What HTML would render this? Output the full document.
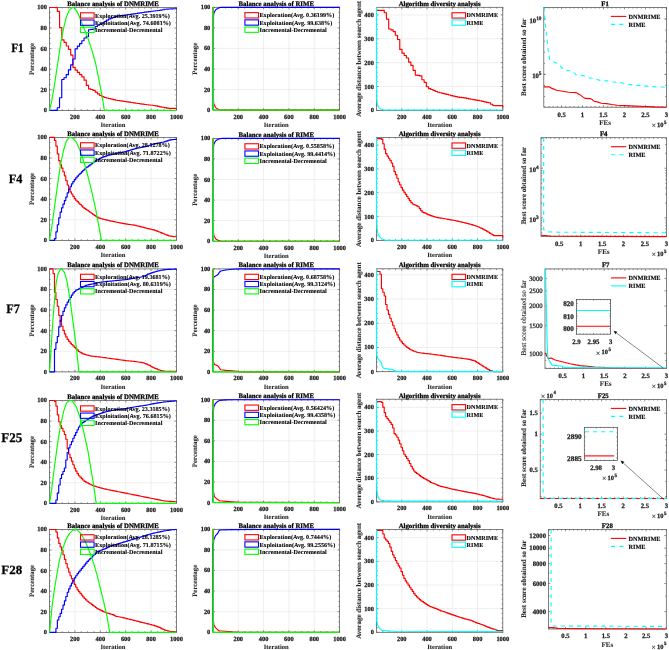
<!DOCTYPE html>
<html><head><meta charset="utf-8"><style>
html,body{margin:0;padding:0;background:#fff;width:669px;height:650px;overflow:hidden}
svg{display:block;will-change:transform}
text{text-rendering:geometricPrecision;font-family:"Liberation Serif",serif;stroke-width:0.25px;stroke:currentColor}
text.lb{stroke-width:0.1px}
text.lg{stroke-width:0.1px}
</style></head><body><svg width="669" height="650" viewBox="0 0 669 650" font-family="Liberation Serif"><text transform="translate(11.16 51.65) scale(0.89 1)" x="0" y="0" font-size="12.73" font-weight="bold" fill="#000" color="#000">F1</text><text transform="translate(8.74 182.55) scale(0.962 1)" x="0" y="0" font-size="12.77" font-weight="bold" fill="#000" color="#000">F4</text><text transform="translate(6.34 313.35) scale(0.943 1)" x="0" y="0" font-size="12.98" font-weight="bold" fill="#000" color="#000">F7</text><text transform="translate(1.33 442.32) scale(0.984 1)" x="0" y="0" font-size="13.24" font-weight="bold" fill="#000" color="#000">F25</text><text transform="translate(1.33 573.52) scale(1.033 1)" x="0" y="0" font-size="12.59" font-weight="bold" fill="#000" color="#000">F28</text><line x1="74.90" y1="7.45" x2="74.90" y2="110.40" stroke="#e4e4e4" stroke-width="0.6"/><line x1="100.30" y1="7.45" x2="100.30" y2="110.40" stroke="#e4e4e4" stroke-width="0.6"/><line x1="125.70" y1="7.45" x2="125.70" y2="110.40" stroke="#e4e4e4" stroke-width="0.6"/><line x1="151.10" y1="7.45" x2="151.10" y2="110.40" stroke="#e4e4e4" stroke-width="0.6"/><line x1="49.50" y1="89.81" x2="176.50" y2="89.81" stroke="#e4e4e4" stroke-width="0.6"/><line x1="49.50" y1="69.22" x2="176.50" y2="69.22" stroke="#e4e4e4" stroke-width="0.6"/><line x1="49.50" y1="48.63" x2="176.50" y2="48.63" stroke="#e4e4e4" stroke-width="0.6"/><line x1="49.50" y1="28.04" x2="176.50" y2="28.04" stroke="#e4e4e4" stroke-width="0.6"/><line x1="74.90" y1="110.40" x2="74.90" y2="108.40" stroke="#555" stroke-width="0.65"/><line x1="74.90" y1="7.45" x2="74.90" y2="9.45" stroke="#555" stroke-width="0.65"/><line x1="100.30" y1="110.40" x2="100.30" y2="108.40" stroke="#555" stroke-width="0.65"/><line x1="100.30" y1="7.45" x2="100.30" y2="9.45" stroke="#555" stroke-width="0.65"/><line x1="125.70" y1="110.40" x2="125.70" y2="108.40" stroke="#555" stroke-width="0.65"/><line x1="125.70" y1="7.45" x2="125.70" y2="9.45" stroke="#555" stroke-width="0.65"/><line x1="151.10" y1="110.40" x2="151.10" y2="108.40" stroke="#555" stroke-width="0.65"/><line x1="151.10" y1="7.45" x2="151.10" y2="9.45" stroke="#555" stroke-width="0.65"/><line x1="176.50" y1="110.40" x2="176.50" y2="108.40" stroke="#555" stroke-width="0.65"/><line x1="176.50" y1="7.45" x2="176.50" y2="9.45" stroke="#555" stroke-width="0.65"/><line x1="55.85" y1="110.40" x2="55.85" y2="109.20" stroke="#555" stroke-width="0.65"/><line x1="55.85" y1="7.45" x2="55.85" y2="8.65" stroke="#555" stroke-width="0.65"/><line x1="62.20" y1="110.40" x2="62.20" y2="109.20" stroke="#555" stroke-width="0.65"/><line x1="62.20" y1="7.45" x2="62.20" y2="8.65" stroke="#555" stroke-width="0.65"/><line x1="68.55" y1="110.40" x2="68.55" y2="109.20" stroke="#555" stroke-width="0.65"/><line x1="68.55" y1="7.45" x2="68.55" y2="8.65" stroke="#555" stroke-width="0.65"/><line x1="81.25" y1="110.40" x2="81.25" y2="109.20" stroke="#555" stroke-width="0.65"/><line x1="81.25" y1="7.45" x2="81.25" y2="8.65" stroke="#555" stroke-width="0.65"/><line x1="87.60" y1="110.40" x2="87.60" y2="109.20" stroke="#555" stroke-width="0.65"/><line x1="87.60" y1="7.45" x2="87.60" y2="8.65" stroke="#555" stroke-width="0.65"/><line x1="93.95" y1="110.40" x2="93.95" y2="109.20" stroke="#555" stroke-width="0.65"/><line x1="93.95" y1="7.45" x2="93.95" y2="8.65" stroke="#555" stroke-width="0.65"/><line x1="106.65" y1="110.40" x2="106.65" y2="109.20" stroke="#555" stroke-width="0.65"/><line x1="106.65" y1="7.45" x2="106.65" y2="8.65" stroke="#555" stroke-width="0.65"/><line x1="113.00" y1="110.40" x2="113.00" y2="109.20" stroke="#555" stroke-width="0.65"/><line x1="113.00" y1="7.45" x2="113.00" y2="8.65" stroke="#555" stroke-width="0.65"/><line x1="119.35" y1="110.40" x2="119.35" y2="109.20" stroke="#555" stroke-width="0.65"/><line x1="119.35" y1="7.45" x2="119.35" y2="8.65" stroke="#555" stroke-width="0.65"/><line x1="132.05" y1="110.40" x2="132.05" y2="109.20" stroke="#555" stroke-width="0.65"/><line x1="132.05" y1="7.45" x2="132.05" y2="8.65" stroke="#555" stroke-width="0.65"/><line x1="138.40" y1="110.40" x2="138.40" y2="109.20" stroke="#555" stroke-width="0.65"/><line x1="138.40" y1="7.45" x2="138.40" y2="8.65" stroke="#555" stroke-width="0.65"/><line x1="144.75" y1="110.40" x2="144.75" y2="109.20" stroke="#555" stroke-width="0.65"/><line x1="144.75" y1="7.45" x2="144.75" y2="8.65" stroke="#555" stroke-width="0.65"/><line x1="157.45" y1="110.40" x2="157.45" y2="109.20" stroke="#555" stroke-width="0.65"/><line x1="157.45" y1="7.45" x2="157.45" y2="8.65" stroke="#555" stroke-width="0.65"/><line x1="163.80" y1="110.40" x2="163.80" y2="109.20" stroke="#555" stroke-width="0.65"/><line x1="163.80" y1="7.45" x2="163.80" y2="8.65" stroke="#555" stroke-width="0.65"/><line x1="170.15" y1="110.40" x2="170.15" y2="109.20" stroke="#555" stroke-width="0.65"/><line x1="170.15" y1="7.45" x2="170.15" y2="8.65" stroke="#555" stroke-width="0.65"/><line x1="49.50" y1="110.40" x2="51.50" y2="110.40" stroke="#555" stroke-width="0.65"/><line x1="176.50" y1="110.40" x2="174.50" y2="110.40" stroke="#555" stroke-width="0.65"/><line x1="49.50" y1="89.81" x2="51.50" y2="89.81" stroke="#555" stroke-width="0.65"/><line x1="176.50" y1="89.81" x2="174.50" y2="89.81" stroke="#555" stroke-width="0.65"/><line x1="49.50" y1="69.22" x2="51.50" y2="69.22" stroke="#555" stroke-width="0.65"/><line x1="176.50" y1="69.22" x2="174.50" y2="69.22" stroke="#555" stroke-width="0.65"/><line x1="49.50" y1="48.63" x2="51.50" y2="48.63" stroke="#555" stroke-width="0.65"/><line x1="176.50" y1="48.63" x2="174.50" y2="48.63" stroke="#555" stroke-width="0.65"/><line x1="49.50" y1="28.04" x2="51.50" y2="28.04" stroke="#555" stroke-width="0.65"/><line x1="176.50" y1="28.04" x2="174.50" y2="28.04" stroke="#555" stroke-width="0.65"/><line x1="49.50" y1="7.45" x2="51.50" y2="7.45" stroke="#555" stroke-width="0.65"/><line x1="176.50" y1="7.45" x2="174.50" y2="7.45" stroke="#555" stroke-width="0.65"/><line x1="49.50" y1="105.25" x2="50.70" y2="105.25" stroke="#555" stroke-width="0.65"/><line x1="176.50" y1="105.25" x2="175.30" y2="105.25" stroke="#555" stroke-width="0.65"/><line x1="49.50" y1="100.11" x2="50.70" y2="100.11" stroke="#555" stroke-width="0.65"/><line x1="176.50" y1="100.11" x2="175.30" y2="100.11" stroke="#555" stroke-width="0.65"/><line x1="49.50" y1="94.96" x2="50.70" y2="94.96" stroke="#555" stroke-width="0.65"/><line x1="176.50" y1="94.96" x2="175.30" y2="94.96" stroke="#555" stroke-width="0.65"/><line x1="49.50" y1="84.66" x2="50.70" y2="84.66" stroke="#555" stroke-width="0.65"/><line x1="176.50" y1="84.66" x2="175.30" y2="84.66" stroke="#555" stroke-width="0.65"/><line x1="49.50" y1="79.52" x2="50.70" y2="79.52" stroke="#555" stroke-width="0.65"/><line x1="176.50" y1="79.52" x2="175.30" y2="79.52" stroke="#555" stroke-width="0.65"/><line x1="49.50" y1="74.37" x2="50.70" y2="74.37" stroke="#555" stroke-width="0.65"/><line x1="176.50" y1="74.37" x2="175.30" y2="74.37" stroke="#555" stroke-width="0.65"/><line x1="49.50" y1="64.07" x2="50.70" y2="64.07" stroke="#555" stroke-width="0.65"/><line x1="176.50" y1="64.07" x2="175.30" y2="64.07" stroke="#555" stroke-width="0.65"/><line x1="49.50" y1="58.93" x2="50.70" y2="58.93" stroke="#555" stroke-width="0.65"/><line x1="176.50" y1="58.93" x2="175.30" y2="58.93" stroke="#555" stroke-width="0.65"/><line x1="49.50" y1="53.78" x2="50.70" y2="53.78" stroke="#555" stroke-width="0.65"/><line x1="176.50" y1="53.78" x2="175.30" y2="53.78" stroke="#555" stroke-width="0.65"/><line x1="49.50" y1="43.48" x2="50.70" y2="43.48" stroke="#555" stroke-width="0.65"/><line x1="176.50" y1="43.48" x2="175.30" y2="43.48" stroke="#555" stroke-width="0.65"/><line x1="49.50" y1="38.34" x2="50.70" y2="38.34" stroke="#555" stroke-width="0.65"/><line x1="176.50" y1="38.34" x2="175.30" y2="38.34" stroke="#555" stroke-width="0.65"/><line x1="49.50" y1="33.19" x2="50.70" y2="33.19" stroke="#555" stroke-width="0.65"/><line x1="176.50" y1="33.19" x2="175.30" y2="33.19" stroke="#555" stroke-width="0.65"/><line x1="49.50" y1="22.89" x2="50.70" y2="22.89" stroke="#555" stroke-width="0.65"/><line x1="176.50" y1="22.89" x2="175.30" y2="22.89" stroke="#555" stroke-width="0.65"/><line x1="49.50" y1="17.75" x2="50.70" y2="17.75" stroke="#555" stroke-width="0.65"/><line x1="176.50" y1="17.75" x2="175.30" y2="17.75" stroke="#555" stroke-width="0.65"/><line x1="49.50" y1="12.60" x2="50.70" y2="12.60" stroke="#555" stroke-width="0.65"/><line x1="176.50" y1="12.60" x2="175.30" y2="12.60" stroke="#555" stroke-width="0.65"/><text x="74.90" y="118.98" font-size="6.4" text-anchor="middle" fill="#222" color="#222" font-weight="bold">200</text><text x="100.30" y="118.98" font-size="6.4" text-anchor="middle" fill="#222" color="#222" font-weight="bold">400</text><text x="125.70" y="118.98" font-size="6.4" text-anchor="middle" fill="#222" color="#222" font-weight="bold">600</text><text x="151.10" y="118.98" font-size="6.4" text-anchor="middle" fill="#222" color="#222" font-weight="bold">800</text><text x="176.50" y="118.98" font-size="6.4" text-anchor="middle" fill="#222" color="#222" font-weight="bold">1000</text><text x="46.90" y="112.38" font-size="6.4" text-anchor="end" fill="#222" color="#222" font-weight="bold">0</text><text x="46.90" y="91.79" font-size="6.4" text-anchor="end" fill="#222" color="#222" font-weight="bold">20</text><text x="46.90" y="71.20" font-size="6.4" text-anchor="end" fill="#222" color="#222" font-weight="bold">40</text><text x="46.90" y="50.61" font-size="6.4" text-anchor="end" fill="#222" color="#222" font-weight="bold">60</text><text x="46.90" y="30.02" font-size="6.4" text-anchor="end" fill="#222" color="#222" font-weight="bold">80</text><text x="46.90" y="9.43" font-size="6.4" text-anchor="end" fill="#222" color="#222" font-weight="bold">100</text><text x="113.00" y="127.24" font-size="6.6" text-anchor="middle" fill="#2a2a2a" color="#2a2a2a" font-weight="bold" class="lb">Iteration</text><text x="31.70" y="61.24" font-size="6.8" text-anchor="middle" fill="#2a2a2a" color="#2a2a2a" font-weight="bold" transform="rotate(-90 31.70 58.93)" class="lb">Percentage</text><text x="113.00" y="5.96" font-size="6.8" text-anchor="middle" fill="#000" color="#000" font-weight="bold">Balance analysis of DNMRIME</text><line x1="238.24" y1="7.30" x2="238.24" y2="110.10" stroke="#e4e4e4" stroke-width="0.6"/><line x1="263.58" y1="7.30" x2="263.58" y2="110.10" stroke="#e4e4e4" stroke-width="0.6"/><line x1="288.92" y1="7.30" x2="288.92" y2="110.10" stroke="#e4e4e4" stroke-width="0.6"/><line x1="314.26" y1="7.30" x2="314.26" y2="110.10" stroke="#e4e4e4" stroke-width="0.6"/><line x1="212.90" y1="89.54" x2="339.60" y2="89.54" stroke="#e4e4e4" stroke-width="0.6"/><line x1="212.90" y1="68.98" x2="339.60" y2="68.98" stroke="#e4e4e4" stroke-width="0.6"/><line x1="212.90" y1="48.42" x2="339.60" y2="48.42" stroke="#e4e4e4" stroke-width="0.6"/><line x1="212.90" y1="27.86" x2="339.60" y2="27.86" stroke="#e4e4e4" stroke-width="0.6"/><line x1="238.24" y1="110.10" x2="238.24" y2="108.10" stroke="#555" stroke-width="0.65"/><line x1="238.24" y1="7.30" x2="238.24" y2="9.30" stroke="#555" stroke-width="0.65"/><line x1="263.58" y1="110.10" x2="263.58" y2="108.10" stroke="#555" stroke-width="0.65"/><line x1="263.58" y1="7.30" x2="263.58" y2="9.30" stroke="#555" stroke-width="0.65"/><line x1="288.92" y1="110.10" x2="288.92" y2="108.10" stroke="#555" stroke-width="0.65"/><line x1="288.92" y1="7.30" x2="288.92" y2="9.30" stroke="#555" stroke-width="0.65"/><line x1="314.26" y1="110.10" x2="314.26" y2="108.10" stroke="#555" stroke-width="0.65"/><line x1="314.26" y1="7.30" x2="314.26" y2="9.30" stroke="#555" stroke-width="0.65"/><line x1="339.60" y1="110.10" x2="339.60" y2="108.10" stroke="#555" stroke-width="0.65"/><line x1="339.60" y1="7.30" x2="339.60" y2="9.30" stroke="#555" stroke-width="0.65"/><line x1="219.24" y1="110.10" x2="219.24" y2="108.90" stroke="#555" stroke-width="0.65"/><line x1="219.24" y1="7.30" x2="219.24" y2="8.50" stroke="#555" stroke-width="0.65"/><line x1="225.57" y1="110.10" x2="225.57" y2="108.90" stroke="#555" stroke-width="0.65"/><line x1="225.57" y1="7.30" x2="225.57" y2="8.50" stroke="#555" stroke-width="0.65"/><line x1="231.91" y1="110.10" x2="231.91" y2="108.90" stroke="#555" stroke-width="0.65"/><line x1="231.91" y1="7.30" x2="231.91" y2="8.50" stroke="#555" stroke-width="0.65"/><line x1="244.58" y1="110.10" x2="244.58" y2="108.90" stroke="#555" stroke-width="0.65"/><line x1="244.58" y1="7.30" x2="244.58" y2="8.50" stroke="#555" stroke-width="0.65"/><line x1="250.91" y1="110.10" x2="250.91" y2="108.90" stroke="#555" stroke-width="0.65"/><line x1="250.91" y1="7.30" x2="250.91" y2="8.50" stroke="#555" stroke-width="0.65"/><line x1="257.25" y1="110.10" x2="257.25" y2="108.90" stroke="#555" stroke-width="0.65"/><line x1="257.25" y1="7.30" x2="257.25" y2="8.50" stroke="#555" stroke-width="0.65"/><line x1="269.92" y1="110.10" x2="269.92" y2="108.90" stroke="#555" stroke-width="0.65"/><line x1="269.92" y1="7.30" x2="269.92" y2="8.50" stroke="#555" stroke-width="0.65"/><line x1="276.25" y1="110.10" x2="276.25" y2="108.90" stroke="#555" stroke-width="0.65"/><line x1="276.25" y1="7.30" x2="276.25" y2="8.50" stroke="#555" stroke-width="0.65"/><line x1="282.59" y1="110.10" x2="282.59" y2="108.90" stroke="#555" stroke-width="0.65"/><line x1="282.59" y1="7.30" x2="282.59" y2="8.50" stroke="#555" stroke-width="0.65"/><line x1="295.25" y1="110.10" x2="295.25" y2="108.90" stroke="#555" stroke-width="0.65"/><line x1="295.25" y1="7.30" x2="295.25" y2="8.50" stroke="#555" stroke-width="0.65"/><line x1="301.59" y1="110.10" x2="301.59" y2="108.90" stroke="#555" stroke-width="0.65"/><line x1="301.59" y1="7.30" x2="301.59" y2="8.50" stroke="#555" stroke-width="0.65"/><line x1="307.93" y1="110.10" x2="307.93" y2="108.90" stroke="#555" stroke-width="0.65"/><line x1="307.93" y1="7.30" x2="307.93" y2="8.50" stroke="#555" stroke-width="0.65"/><line x1="320.60" y1="110.10" x2="320.60" y2="108.90" stroke="#555" stroke-width="0.65"/><line x1="320.60" y1="7.30" x2="320.60" y2="8.50" stroke="#555" stroke-width="0.65"/><line x1="326.93" y1="110.10" x2="326.93" y2="108.90" stroke="#555" stroke-width="0.65"/><line x1="326.93" y1="7.30" x2="326.93" y2="8.50" stroke="#555" stroke-width="0.65"/><line x1="333.26" y1="110.10" x2="333.26" y2="108.90" stroke="#555" stroke-width="0.65"/><line x1="333.26" y1="7.30" x2="333.26" y2="8.50" stroke="#555" stroke-width="0.65"/><line x1="212.90" y1="110.10" x2="214.90" y2="110.10" stroke="#555" stroke-width="0.65"/><line x1="339.60" y1="110.10" x2="337.60" y2="110.10" stroke="#555" stroke-width="0.65"/><line x1="212.90" y1="89.54" x2="214.90" y2="89.54" stroke="#555" stroke-width="0.65"/><line x1="339.60" y1="89.54" x2="337.60" y2="89.54" stroke="#555" stroke-width="0.65"/><line x1="212.90" y1="68.98" x2="214.90" y2="68.98" stroke="#555" stroke-width="0.65"/><line x1="339.60" y1="68.98" x2="337.60" y2="68.98" stroke="#555" stroke-width="0.65"/><line x1="212.90" y1="48.42" x2="214.90" y2="48.42" stroke="#555" stroke-width="0.65"/><line x1="339.60" y1="48.42" x2="337.60" y2="48.42" stroke="#555" stroke-width="0.65"/><line x1="212.90" y1="27.86" x2="214.90" y2="27.86" stroke="#555" stroke-width="0.65"/><line x1="339.60" y1="27.86" x2="337.60" y2="27.86" stroke="#555" stroke-width="0.65"/><line x1="212.90" y1="7.30" x2="214.90" y2="7.30" stroke="#555" stroke-width="0.65"/><line x1="339.60" y1="7.30" x2="337.60" y2="7.30" stroke="#555" stroke-width="0.65"/><line x1="212.90" y1="104.96" x2="214.10" y2="104.96" stroke="#555" stroke-width="0.65"/><line x1="339.60" y1="104.96" x2="338.40" y2="104.96" stroke="#555" stroke-width="0.65"/><line x1="212.90" y1="99.82" x2="214.10" y2="99.82" stroke="#555" stroke-width="0.65"/><line x1="339.60" y1="99.82" x2="338.40" y2="99.82" stroke="#555" stroke-width="0.65"/><line x1="212.90" y1="94.68" x2="214.10" y2="94.68" stroke="#555" stroke-width="0.65"/><line x1="339.60" y1="94.68" x2="338.40" y2="94.68" stroke="#555" stroke-width="0.65"/><line x1="212.90" y1="84.40" x2="214.10" y2="84.40" stroke="#555" stroke-width="0.65"/><line x1="339.60" y1="84.40" x2="338.40" y2="84.40" stroke="#555" stroke-width="0.65"/><line x1="212.90" y1="79.26" x2="214.10" y2="79.26" stroke="#555" stroke-width="0.65"/><line x1="339.60" y1="79.26" x2="338.40" y2="79.26" stroke="#555" stroke-width="0.65"/><line x1="212.90" y1="74.12" x2="214.10" y2="74.12" stroke="#555" stroke-width="0.65"/><line x1="339.60" y1="74.12" x2="338.40" y2="74.12" stroke="#555" stroke-width="0.65"/><line x1="212.90" y1="63.84" x2="214.10" y2="63.84" stroke="#555" stroke-width="0.65"/><line x1="339.60" y1="63.84" x2="338.40" y2="63.84" stroke="#555" stroke-width="0.65"/><line x1="212.90" y1="58.70" x2="214.10" y2="58.70" stroke="#555" stroke-width="0.65"/><line x1="339.60" y1="58.70" x2="338.40" y2="58.70" stroke="#555" stroke-width="0.65"/><line x1="212.90" y1="53.56" x2="214.10" y2="53.56" stroke="#555" stroke-width="0.65"/><line x1="339.60" y1="53.56" x2="338.40" y2="53.56" stroke="#555" stroke-width="0.65"/><line x1="212.90" y1="43.28" x2="214.10" y2="43.28" stroke="#555" stroke-width="0.65"/><line x1="339.60" y1="43.28" x2="338.40" y2="43.28" stroke="#555" stroke-width="0.65"/><line x1="212.90" y1="38.14" x2="214.10" y2="38.14" stroke="#555" stroke-width="0.65"/><line x1="339.60" y1="38.14" x2="338.40" y2="38.14" stroke="#555" stroke-width="0.65"/><line x1="212.90" y1="33.00" x2="214.10" y2="33.00" stroke="#555" stroke-width="0.65"/><line x1="339.60" y1="33.00" x2="338.40" y2="33.00" stroke="#555" stroke-width="0.65"/><line x1="212.90" y1="22.72" x2="214.10" y2="22.72" stroke="#555" stroke-width="0.65"/><line x1="339.60" y1="22.72" x2="338.40" y2="22.72" stroke="#555" stroke-width="0.65"/><line x1="212.90" y1="17.58" x2="214.10" y2="17.58" stroke="#555" stroke-width="0.65"/><line x1="339.60" y1="17.58" x2="338.40" y2="17.58" stroke="#555" stroke-width="0.65"/><line x1="212.90" y1="12.44" x2="214.10" y2="12.44" stroke="#555" stroke-width="0.65"/><line x1="339.60" y1="12.44" x2="338.40" y2="12.44" stroke="#555" stroke-width="0.65"/><text x="238.24" y="118.68" font-size="6.4" text-anchor="middle" fill="#222" color="#222" font-weight="bold">200</text><text x="263.58" y="118.68" font-size="6.4" text-anchor="middle" fill="#222" color="#222" font-weight="bold">400</text><text x="288.92" y="118.68" font-size="6.4" text-anchor="middle" fill="#222" color="#222" font-weight="bold">600</text><text x="314.26" y="118.68" font-size="6.4" text-anchor="middle" fill="#222" color="#222" font-weight="bold">800</text><text x="339.60" y="118.68" font-size="6.4" text-anchor="middle" fill="#222" color="#222" font-weight="bold">1000</text><text x="210.30" y="112.08" font-size="6.4" text-anchor="end" fill="#222" color="#222" font-weight="bold">0</text><text x="210.30" y="91.52" font-size="6.4" text-anchor="end" fill="#222" color="#222" font-weight="bold">20</text><text x="210.30" y="70.96" font-size="6.4" text-anchor="end" fill="#222" color="#222" font-weight="bold">40</text><text x="210.30" y="50.40" font-size="6.4" text-anchor="end" fill="#222" color="#222" font-weight="bold">60</text><text x="210.30" y="29.84" font-size="6.4" text-anchor="end" fill="#222" color="#222" font-weight="bold">80</text><text x="210.30" y="9.28" font-size="6.4" text-anchor="end" fill="#222" color="#222" font-weight="bold">100</text><text x="276.25" y="126.94" font-size="6.6" text-anchor="middle" fill="#2a2a2a" color="#2a2a2a" font-weight="bold" class="lb">Iteration</text><text x="195.10" y="61.01" font-size="6.8" text-anchor="middle" fill="#2a2a2a" color="#2a2a2a" font-weight="bold" transform="rotate(-90 195.10 58.70)" class="lb">Percentage</text><text x="276.25" y="5.81" font-size="6.8" text-anchor="middle" fill="#000" color="#000" font-weight="bold">Balance analysis of RIME</text><line x1="401.76" y1="7.30" x2="401.76" y2="110.40" stroke="#e4e4e4" stroke-width="0.6"/><line x1="427.02" y1="7.30" x2="427.02" y2="110.40" stroke="#e4e4e4" stroke-width="0.6"/><line x1="452.28" y1="7.30" x2="452.28" y2="110.40" stroke="#e4e4e4" stroke-width="0.6"/><line x1="477.54" y1="7.30" x2="477.54" y2="110.40" stroke="#e4e4e4" stroke-width="0.6"/><line x1="376.50" y1="86.53" x2="502.80" y2="86.53" stroke="#e4e4e4" stroke-width="0.6"/><line x1="376.50" y1="62.67" x2="502.80" y2="62.67" stroke="#e4e4e4" stroke-width="0.6"/><line x1="376.50" y1="38.80" x2="502.80" y2="38.80" stroke="#e4e4e4" stroke-width="0.6"/><line x1="376.50" y1="14.94" x2="502.80" y2="14.94" stroke="#e4e4e4" stroke-width="0.6"/><line x1="401.76" y1="110.40" x2="401.76" y2="108.40" stroke="#555" stroke-width="0.65"/><line x1="401.76" y1="7.30" x2="401.76" y2="9.30" stroke="#555" stroke-width="0.65"/><line x1="427.02" y1="110.40" x2="427.02" y2="108.40" stroke="#555" stroke-width="0.65"/><line x1="427.02" y1="7.30" x2="427.02" y2="9.30" stroke="#555" stroke-width="0.65"/><line x1="452.28" y1="110.40" x2="452.28" y2="108.40" stroke="#555" stroke-width="0.65"/><line x1="452.28" y1="7.30" x2="452.28" y2="9.30" stroke="#555" stroke-width="0.65"/><line x1="477.54" y1="110.40" x2="477.54" y2="108.40" stroke="#555" stroke-width="0.65"/><line x1="477.54" y1="7.30" x2="477.54" y2="9.30" stroke="#555" stroke-width="0.65"/><line x1="502.80" y1="110.40" x2="502.80" y2="108.40" stroke="#555" stroke-width="0.65"/><line x1="502.80" y1="7.30" x2="502.80" y2="9.30" stroke="#555" stroke-width="0.65"/><line x1="382.81" y1="110.40" x2="382.81" y2="109.20" stroke="#555" stroke-width="0.65"/><line x1="382.81" y1="7.30" x2="382.81" y2="8.50" stroke="#555" stroke-width="0.65"/><line x1="389.13" y1="110.40" x2="389.13" y2="109.20" stroke="#555" stroke-width="0.65"/><line x1="389.13" y1="7.30" x2="389.13" y2="8.50" stroke="#555" stroke-width="0.65"/><line x1="395.44" y1="110.40" x2="395.44" y2="109.20" stroke="#555" stroke-width="0.65"/><line x1="395.44" y1="7.30" x2="395.44" y2="8.50" stroke="#555" stroke-width="0.65"/><line x1="408.07" y1="110.40" x2="408.07" y2="109.20" stroke="#555" stroke-width="0.65"/><line x1="408.07" y1="7.30" x2="408.07" y2="8.50" stroke="#555" stroke-width="0.65"/><line x1="414.39" y1="110.40" x2="414.39" y2="109.20" stroke="#555" stroke-width="0.65"/><line x1="414.39" y1="7.30" x2="414.39" y2="8.50" stroke="#555" stroke-width="0.65"/><line x1="420.70" y1="110.40" x2="420.70" y2="109.20" stroke="#555" stroke-width="0.65"/><line x1="420.70" y1="7.30" x2="420.70" y2="8.50" stroke="#555" stroke-width="0.65"/><line x1="433.34" y1="110.40" x2="433.34" y2="109.20" stroke="#555" stroke-width="0.65"/><line x1="433.34" y1="7.30" x2="433.34" y2="8.50" stroke="#555" stroke-width="0.65"/><line x1="439.65" y1="110.40" x2="439.65" y2="109.20" stroke="#555" stroke-width="0.65"/><line x1="439.65" y1="7.30" x2="439.65" y2="8.50" stroke="#555" stroke-width="0.65"/><line x1="445.97" y1="110.40" x2="445.97" y2="109.20" stroke="#555" stroke-width="0.65"/><line x1="445.97" y1="7.30" x2="445.97" y2="8.50" stroke="#555" stroke-width="0.65"/><line x1="458.60" y1="110.40" x2="458.60" y2="109.20" stroke="#555" stroke-width="0.65"/><line x1="458.60" y1="7.30" x2="458.60" y2="8.50" stroke="#555" stroke-width="0.65"/><line x1="464.91" y1="110.40" x2="464.91" y2="109.20" stroke="#555" stroke-width="0.65"/><line x1="464.91" y1="7.30" x2="464.91" y2="8.50" stroke="#555" stroke-width="0.65"/><line x1="471.23" y1="110.40" x2="471.23" y2="109.20" stroke="#555" stroke-width="0.65"/><line x1="471.23" y1="7.30" x2="471.23" y2="8.50" stroke="#555" stroke-width="0.65"/><line x1="483.86" y1="110.40" x2="483.86" y2="109.20" stroke="#555" stroke-width="0.65"/><line x1="483.86" y1="7.30" x2="483.86" y2="8.50" stroke="#555" stroke-width="0.65"/><line x1="490.17" y1="110.40" x2="490.17" y2="109.20" stroke="#555" stroke-width="0.65"/><line x1="490.17" y1="7.30" x2="490.17" y2="8.50" stroke="#555" stroke-width="0.65"/><line x1="496.49" y1="110.40" x2="496.49" y2="109.20" stroke="#555" stroke-width="0.65"/><line x1="496.49" y1="7.30" x2="496.49" y2="8.50" stroke="#555" stroke-width="0.65"/><line x1="376.50" y1="110.40" x2="378.50" y2="110.40" stroke="#555" stroke-width="0.65"/><line x1="502.80" y1="110.40" x2="500.80" y2="110.40" stroke="#555" stroke-width="0.65"/><line x1="376.50" y1="86.53" x2="378.50" y2="86.53" stroke="#555" stroke-width="0.65"/><line x1="502.80" y1="86.53" x2="500.80" y2="86.53" stroke="#555" stroke-width="0.65"/><line x1="376.50" y1="62.67" x2="378.50" y2="62.67" stroke="#555" stroke-width="0.65"/><line x1="502.80" y1="62.67" x2="500.80" y2="62.67" stroke="#555" stroke-width="0.65"/><line x1="376.50" y1="38.80" x2="378.50" y2="38.80" stroke="#555" stroke-width="0.65"/><line x1="502.80" y1="38.80" x2="500.80" y2="38.80" stroke="#555" stroke-width="0.65"/><line x1="376.50" y1="14.94" x2="378.50" y2="14.94" stroke="#555" stroke-width="0.65"/><line x1="502.80" y1="14.94" x2="500.80" y2="14.94" stroke="#555" stroke-width="0.65"/><line x1="376.50" y1="105.63" x2="377.70" y2="105.63" stroke="#555" stroke-width="0.65"/><line x1="502.80" y1="105.63" x2="501.60" y2="105.63" stroke="#555" stroke-width="0.65"/><line x1="376.50" y1="100.85" x2="377.70" y2="100.85" stroke="#555" stroke-width="0.65"/><line x1="502.80" y1="100.85" x2="501.60" y2="100.85" stroke="#555" stroke-width="0.65"/><line x1="376.50" y1="96.08" x2="377.70" y2="96.08" stroke="#555" stroke-width="0.65"/><line x1="502.80" y1="96.08" x2="501.60" y2="96.08" stroke="#555" stroke-width="0.65"/><line x1="376.50" y1="91.31" x2="377.70" y2="91.31" stroke="#555" stroke-width="0.65"/><line x1="502.80" y1="91.31" x2="501.60" y2="91.31" stroke="#555" stroke-width="0.65"/><line x1="376.50" y1="81.76" x2="377.70" y2="81.76" stroke="#555" stroke-width="0.65"/><line x1="502.80" y1="81.76" x2="501.60" y2="81.76" stroke="#555" stroke-width="0.65"/><line x1="376.50" y1="76.99" x2="377.70" y2="76.99" stroke="#555" stroke-width="0.65"/><line x1="502.80" y1="76.99" x2="501.60" y2="76.99" stroke="#555" stroke-width="0.65"/><line x1="376.50" y1="72.21" x2="377.70" y2="72.21" stroke="#555" stroke-width="0.65"/><line x1="502.80" y1="72.21" x2="501.60" y2="72.21" stroke="#555" stroke-width="0.65"/><line x1="376.50" y1="67.44" x2="377.70" y2="67.44" stroke="#555" stroke-width="0.65"/><line x1="502.80" y1="67.44" x2="501.60" y2="67.44" stroke="#555" stroke-width="0.65"/><line x1="376.50" y1="57.90" x2="377.70" y2="57.90" stroke="#555" stroke-width="0.65"/><line x1="502.80" y1="57.90" x2="501.60" y2="57.90" stroke="#555" stroke-width="0.65"/><line x1="376.50" y1="53.12" x2="377.70" y2="53.12" stroke="#555" stroke-width="0.65"/><line x1="502.80" y1="53.12" x2="501.60" y2="53.12" stroke="#555" stroke-width="0.65"/><line x1="376.50" y1="48.35" x2="377.70" y2="48.35" stroke="#555" stroke-width="0.65"/><line x1="502.80" y1="48.35" x2="501.60" y2="48.35" stroke="#555" stroke-width="0.65"/><line x1="376.50" y1="43.58" x2="377.70" y2="43.58" stroke="#555" stroke-width="0.65"/><line x1="502.80" y1="43.58" x2="501.60" y2="43.58" stroke="#555" stroke-width="0.65"/><line x1="376.50" y1="34.03" x2="377.70" y2="34.03" stroke="#555" stroke-width="0.65"/><line x1="502.80" y1="34.03" x2="501.60" y2="34.03" stroke="#555" stroke-width="0.65"/><line x1="376.50" y1="29.26" x2="377.70" y2="29.26" stroke="#555" stroke-width="0.65"/><line x1="502.80" y1="29.26" x2="501.60" y2="29.26" stroke="#555" stroke-width="0.65"/><line x1="376.50" y1="24.48" x2="377.70" y2="24.48" stroke="#555" stroke-width="0.65"/><line x1="502.80" y1="24.48" x2="501.60" y2="24.48" stroke="#555" stroke-width="0.65"/><line x1="376.50" y1="19.71" x2="377.70" y2="19.71" stroke="#555" stroke-width="0.65"/><line x1="502.80" y1="19.71" x2="501.60" y2="19.71" stroke="#555" stroke-width="0.65"/><line x1="376.50" y1="10.16" x2="377.70" y2="10.16" stroke="#555" stroke-width="0.65"/><line x1="502.80" y1="10.16" x2="501.60" y2="10.16" stroke="#555" stroke-width="0.65"/><text x="401.76" y="118.98" font-size="6.4" text-anchor="middle" fill="#222" color="#222" font-weight="bold">200</text><text x="427.02" y="118.98" font-size="6.4" text-anchor="middle" fill="#222" color="#222" font-weight="bold">400</text><text x="452.28" y="118.98" font-size="6.4" text-anchor="middle" fill="#222" color="#222" font-weight="bold">600</text><text x="477.54" y="118.98" font-size="6.4" text-anchor="middle" fill="#222" color="#222" font-weight="bold">800</text><text x="502.80" y="118.98" font-size="6.4" text-anchor="middle" fill="#222" color="#222" font-weight="bold">1000</text><text x="373.90" y="112.38" font-size="6.4" text-anchor="end" fill="#222" color="#222" font-weight="bold">0</text><text x="373.90" y="88.51" font-size="6.4" text-anchor="end" fill="#222" color="#222" font-weight="bold">100</text><text x="373.90" y="64.64" font-size="6.4" text-anchor="end" fill="#222" color="#222" font-weight="bold">200</text><text x="373.90" y="40.78" font-size="6.4" text-anchor="end" fill="#222" color="#222" font-weight="bold">300</text><text x="373.90" y="16.91" font-size="6.4" text-anchor="end" fill="#222" color="#222" font-weight="bold">400</text><text x="439.65" y="127.24" font-size="6.6" text-anchor="middle" fill="#2a2a2a" color="#2a2a2a" font-weight="bold" class="lb">Iteration</text><text x="358.50" y="61.23" font-size="7.0" text-anchor="middle" fill="#2a2a2a" color="#2a2a2a" font-weight="bold" transform="rotate(-90 358.50 58.85)" class="lb">Average distance between search agent</text><text x="439.65" y="5.81" font-size="6.8" text-anchor="middle" fill="#000" color="#000" font-weight="bold">Algorithm diversity analysis</text><line x1="74.90" y1="137.40" x2="74.90" y2="240.40" stroke="#e4e4e4" stroke-width="0.6"/><line x1="100.30" y1="137.40" x2="100.30" y2="240.40" stroke="#e4e4e4" stroke-width="0.6"/><line x1="125.70" y1="137.40" x2="125.70" y2="240.40" stroke="#e4e4e4" stroke-width="0.6"/><line x1="151.10" y1="137.40" x2="151.10" y2="240.40" stroke="#e4e4e4" stroke-width="0.6"/><line x1="49.50" y1="219.80" x2="176.50" y2="219.80" stroke="#e4e4e4" stroke-width="0.6"/><line x1="49.50" y1="199.20" x2="176.50" y2="199.20" stroke="#e4e4e4" stroke-width="0.6"/><line x1="49.50" y1="178.60" x2="176.50" y2="178.60" stroke="#e4e4e4" stroke-width="0.6"/><line x1="49.50" y1="158.00" x2="176.50" y2="158.00" stroke="#e4e4e4" stroke-width="0.6"/><line x1="74.90" y1="240.40" x2="74.90" y2="238.40" stroke="#555" stroke-width="0.65"/><line x1="74.90" y1="137.40" x2="74.90" y2="139.40" stroke="#555" stroke-width="0.65"/><line x1="100.30" y1="240.40" x2="100.30" y2="238.40" stroke="#555" stroke-width="0.65"/><line x1="100.30" y1="137.40" x2="100.30" y2="139.40" stroke="#555" stroke-width="0.65"/><line x1="125.70" y1="240.40" x2="125.70" y2="238.40" stroke="#555" stroke-width="0.65"/><line x1="125.70" y1="137.40" x2="125.70" y2="139.40" stroke="#555" stroke-width="0.65"/><line x1="151.10" y1="240.40" x2="151.10" y2="238.40" stroke="#555" stroke-width="0.65"/><line x1="151.10" y1="137.40" x2="151.10" y2="139.40" stroke="#555" stroke-width="0.65"/><line x1="176.50" y1="240.40" x2="176.50" y2="238.40" stroke="#555" stroke-width="0.65"/><line x1="176.50" y1="137.40" x2="176.50" y2="139.40" stroke="#555" stroke-width="0.65"/><line x1="55.85" y1="240.40" x2="55.85" y2="239.20" stroke="#555" stroke-width="0.65"/><line x1="55.85" y1="137.40" x2="55.85" y2="138.60" stroke="#555" stroke-width="0.65"/><line x1="62.20" y1="240.40" x2="62.20" y2="239.20" stroke="#555" stroke-width="0.65"/><line x1="62.20" y1="137.40" x2="62.20" y2="138.60" stroke="#555" stroke-width="0.65"/><line x1="68.55" y1="240.40" x2="68.55" y2="239.20" stroke="#555" stroke-width="0.65"/><line x1="68.55" y1="137.40" x2="68.55" y2="138.60" stroke="#555" stroke-width="0.65"/><line x1="81.25" y1="240.40" x2="81.25" y2="239.20" stroke="#555" stroke-width="0.65"/><line x1="81.25" y1="137.40" x2="81.25" y2="138.60" stroke="#555" stroke-width="0.65"/><line x1="87.60" y1="240.40" x2="87.60" y2="239.20" stroke="#555" stroke-width="0.65"/><line x1="87.60" y1="137.40" x2="87.60" y2="138.60" stroke="#555" stroke-width="0.65"/><line x1="93.95" y1="240.40" x2="93.95" y2="239.20" stroke="#555" stroke-width="0.65"/><line x1="93.95" y1="137.40" x2="93.95" y2="138.60" stroke="#555" stroke-width="0.65"/><line x1="106.65" y1="240.40" x2="106.65" y2="239.20" stroke="#555" stroke-width="0.65"/><line x1="106.65" y1="137.40" x2="106.65" y2="138.60" stroke="#555" stroke-width="0.65"/><line x1="113.00" y1="240.40" x2="113.00" y2="239.20" stroke="#555" stroke-width="0.65"/><line x1="113.00" y1="137.40" x2="113.00" y2="138.60" stroke="#555" stroke-width="0.65"/><line x1="119.35" y1="240.40" x2="119.35" y2="239.20" stroke="#555" stroke-width="0.65"/><line x1="119.35" y1="137.40" x2="119.35" y2="138.60" stroke="#555" stroke-width="0.65"/><line x1="132.05" y1="240.40" x2="132.05" y2="239.20" stroke="#555" stroke-width="0.65"/><line x1="132.05" y1="137.40" x2="132.05" y2="138.60" stroke="#555" stroke-width="0.65"/><line x1="138.40" y1="240.40" x2="138.40" y2="239.20" stroke="#555" stroke-width="0.65"/><line x1="138.40" y1="137.40" x2="138.40" y2="138.60" stroke="#555" stroke-width="0.65"/><line x1="144.75" y1="240.40" x2="144.75" y2="239.20" stroke="#555" stroke-width="0.65"/><line x1="144.75" y1="137.40" x2="144.75" y2="138.60" stroke="#555" stroke-width="0.65"/><line x1="157.45" y1="240.40" x2="157.45" y2="239.20" stroke="#555" stroke-width="0.65"/><line x1="157.45" y1="137.40" x2="157.45" y2="138.60" stroke="#555" stroke-width="0.65"/><line x1="163.80" y1="240.40" x2="163.80" y2="239.20" stroke="#555" stroke-width="0.65"/><line x1="163.80" y1="137.40" x2="163.80" y2="138.60" stroke="#555" stroke-width="0.65"/><line x1="170.15" y1="240.40" x2="170.15" y2="239.20" stroke="#555" stroke-width="0.65"/><line x1="170.15" y1="137.40" x2="170.15" y2="138.60" stroke="#555" stroke-width="0.65"/><line x1="49.50" y1="240.40" x2="51.50" y2="240.40" stroke="#555" stroke-width="0.65"/><line x1="176.50" y1="240.40" x2="174.50" y2="240.40" stroke="#555" stroke-width="0.65"/><line x1="49.50" y1="219.80" x2="51.50" y2="219.80" stroke="#555" stroke-width="0.65"/><line x1="176.50" y1="219.80" x2="174.50" y2="219.80" stroke="#555" stroke-width="0.65"/><line x1="49.50" y1="199.20" x2="51.50" y2="199.20" stroke="#555" stroke-width="0.65"/><line x1="176.50" y1="199.20" x2="174.50" y2="199.20" stroke="#555" stroke-width="0.65"/><line x1="49.50" y1="178.60" x2="51.50" y2="178.60" stroke="#555" stroke-width="0.65"/><line x1="176.50" y1="178.60" x2="174.50" y2="178.60" stroke="#555" stroke-width="0.65"/><line x1="49.50" y1="158.00" x2="51.50" y2="158.00" stroke="#555" stroke-width="0.65"/><line x1="176.50" y1="158.00" x2="174.50" y2="158.00" stroke="#555" stroke-width="0.65"/><line x1="49.50" y1="137.40" x2="51.50" y2="137.40" stroke="#555" stroke-width="0.65"/><line x1="176.50" y1="137.40" x2="174.50" y2="137.40" stroke="#555" stroke-width="0.65"/><line x1="49.50" y1="235.25" x2="50.70" y2="235.25" stroke="#555" stroke-width="0.65"/><line x1="176.50" y1="235.25" x2="175.30" y2="235.25" stroke="#555" stroke-width="0.65"/><line x1="49.50" y1="230.10" x2="50.70" y2="230.10" stroke="#555" stroke-width="0.65"/><line x1="176.50" y1="230.10" x2="175.30" y2="230.10" stroke="#555" stroke-width="0.65"/><line x1="49.50" y1="224.95" x2="50.70" y2="224.95" stroke="#555" stroke-width="0.65"/><line x1="176.50" y1="224.95" x2="175.30" y2="224.95" stroke="#555" stroke-width="0.65"/><line x1="49.50" y1="214.65" x2="50.70" y2="214.65" stroke="#555" stroke-width="0.65"/><line x1="176.50" y1="214.65" x2="175.30" y2="214.65" stroke="#555" stroke-width="0.65"/><line x1="49.50" y1="209.50" x2="50.70" y2="209.50" stroke="#555" stroke-width="0.65"/><line x1="176.50" y1="209.50" x2="175.30" y2="209.50" stroke="#555" stroke-width="0.65"/><line x1="49.50" y1="204.35" x2="50.70" y2="204.35" stroke="#555" stroke-width="0.65"/><line x1="176.50" y1="204.35" x2="175.30" y2="204.35" stroke="#555" stroke-width="0.65"/><line x1="49.50" y1="194.05" x2="50.70" y2="194.05" stroke="#555" stroke-width="0.65"/><line x1="176.50" y1="194.05" x2="175.30" y2="194.05" stroke="#555" stroke-width="0.65"/><line x1="49.50" y1="188.90" x2="50.70" y2="188.90" stroke="#555" stroke-width="0.65"/><line x1="176.50" y1="188.90" x2="175.30" y2="188.90" stroke="#555" stroke-width="0.65"/><line x1="49.50" y1="183.75" x2="50.70" y2="183.75" stroke="#555" stroke-width="0.65"/><line x1="176.50" y1="183.75" x2="175.30" y2="183.75" stroke="#555" stroke-width="0.65"/><line x1="49.50" y1="173.45" x2="50.70" y2="173.45" stroke="#555" stroke-width="0.65"/><line x1="176.50" y1="173.45" x2="175.30" y2="173.45" stroke="#555" stroke-width="0.65"/><line x1="49.50" y1="168.30" x2="50.70" y2="168.30" stroke="#555" stroke-width="0.65"/><line x1="176.50" y1="168.30" x2="175.30" y2="168.30" stroke="#555" stroke-width="0.65"/><line x1="49.50" y1="163.15" x2="50.70" y2="163.15" stroke="#555" stroke-width="0.65"/><line x1="176.50" y1="163.15" x2="175.30" y2="163.15" stroke="#555" stroke-width="0.65"/><line x1="49.50" y1="152.85" x2="50.70" y2="152.85" stroke="#555" stroke-width="0.65"/><line x1="176.50" y1="152.85" x2="175.30" y2="152.85" stroke="#555" stroke-width="0.65"/><line x1="49.50" y1="147.70" x2="50.70" y2="147.70" stroke="#555" stroke-width="0.65"/><line x1="176.50" y1="147.70" x2="175.30" y2="147.70" stroke="#555" stroke-width="0.65"/><line x1="49.50" y1="142.55" x2="50.70" y2="142.55" stroke="#555" stroke-width="0.65"/><line x1="176.50" y1="142.55" x2="175.30" y2="142.55" stroke="#555" stroke-width="0.65"/><text x="74.90" y="248.98" font-size="6.4" text-anchor="middle" fill="#222" color="#222" font-weight="bold">200</text><text x="100.30" y="248.98" font-size="6.4" text-anchor="middle" fill="#222" color="#222" font-weight="bold">400</text><text x="125.70" y="248.98" font-size="6.4" text-anchor="middle" fill="#222" color="#222" font-weight="bold">600</text><text x="151.10" y="248.98" font-size="6.4" text-anchor="middle" fill="#222" color="#222" font-weight="bold">800</text><text x="176.50" y="248.98" font-size="6.4" text-anchor="middle" fill="#222" color="#222" font-weight="bold">1000</text><text x="46.90" y="242.38" font-size="6.4" text-anchor="end" fill="#222" color="#222" font-weight="bold">0</text><text x="46.90" y="221.78" font-size="6.4" text-anchor="end" fill="#222" color="#222" font-weight="bold">20</text><text x="46.90" y="201.18" font-size="6.4" text-anchor="end" fill="#222" color="#222" font-weight="bold">40</text><text x="46.90" y="180.58" font-size="6.4" text-anchor="end" fill="#222" color="#222" font-weight="bold">60</text><text x="46.90" y="159.98" font-size="6.4" text-anchor="end" fill="#222" color="#222" font-weight="bold">80</text><text x="46.90" y="139.38" font-size="6.4" text-anchor="end" fill="#222" color="#222" font-weight="bold">100</text><text x="113.00" y="257.24" font-size="6.6" text-anchor="middle" fill="#2a2a2a" color="#2a2a2a" font-weight="bold" class="lb">Iteration</text><text x="31.70" y="191.21" font-size="6.8" text-anchor="middle" fill="#2a2a2a" color="#2a2a2a" font-weight="bold" transform="rotate(-90 31.70 188.90)" class="lb">Percentage</text><text x="113.00" y="135.91" font-size="6.8" text-anchor="middle" fill="#000" color="#000" font-weight="bold">Balance analysis of DNMRIME</text><line x1="238.24" y1="138.40" x2="238.24" y2="241.20" stroke="#e4e4e4" stroke-width="0.6"/><line x1="263.58" y1="138.40" x2="263.58" y2="241.20" stroke="#e4e4e4" stroke-width="0.6"/><line x1="288.92" y1="138.40" x2="288.92" y2="241.20" stroke="#e4e4e4" stroke-width="0.6"/><line x1="314.26" y1="138.40" x2="314.26" y2="241.20" stroke="#e4e4e4" stroke-width="0.6"/><line x1="212.90" y1="220.64" x2="339.60" y2="220.64" stroke="#e4e4e4" stroke-width="0.6"/><line x1="212.90" y1="200.08" x2="339.60" y2="200.08" stroke="#e4e4e4" stroke-width="0.6"/><line x1="212.90" y1="179.52" x2="339.60" y2="179.52" stroke="#e4e4e4" stroke-width="0.6"/><line x1="212.90" y1="158.96" x2="339.60" y2="158.96" stroke="#e4e4e4" stroke-width="0.6"/><line x1="238.24" y1="241.20" x2="238.24" y2="239.20" stroke="#555" stroke-width="0.65"/><line x1="238.24" y1="138.40" x2="238.24" y2="140.40" stroke="#555" stroke-width="0.65"/><line x1="263.58" y1="241.20" x2="263.58" y2="239.20" stroke="#555" stroke-width="0.65"/><line x1="263.58" y1="138.40" x2="263.58" y2="140.40" stroke="#555" stroke-width="0.65"/><line x1="288.92" y1="241.20" x2="288.92" y2="239.20" stroke="#555" stroke-width="0.65"/><line x1="288.92" y1="138.40" x2="288.92" y2="140.40" stroke="#555" stroke-width="0.65"/><line x1="314.26" y1="241.20" x2="314.26" y2="239.20" stroke="#555" stroke-width="0.65"/><line x1="314.26" y1="138.40" x2="314.26" y2="140.40" stroke="#555" stroke-width="0.65"/><line x1="339.60" y1="241.20" x2="339.60" y2="239.20" stroke="#555" stroke-width="0.65"/><line x1="339.60" y1="138.40" x2="339.60" y2="140.40" stroke="#555" stroke-width="0.65"/><line x1="219.24" y1="241.20" x2="219.24" y2="240.00" stroke="#555" stroke-width="0.65"/><line x1="219.24" y1="138.40" x2="219.24" y2="139.60" stroke="#555" stroke-width="0.65"/><line x1="225.57" y1="241.20" x2="225.57" y2="240.00" stroke="#555" stroke-width="0.65"/><line x1="225.57" y1="138.40" x2="225.57" y2="139.60" stroke="#555" stroke-width="0.65"/><line x1="231.91" y1="241.20" x2="231.91" y2="240.00" stroke="#555" stroke-width="0.65"/><line x1="231.91" y1="138.40" x2="231.91" y2="139.60" stroke="#555" stroke-width="0.65"/><line x1="244.58" y1="241.20" x2="244.58" y2="240.00" stroke="#555" stroke-width="0.65"/><line x1="244.58" y1="138.40" x2="244.58" y2="139.60" stroke="#555" stroke-width="0.65"/><line x1="250.91" y1="241.20" x2="250.91" y2="240.00" stroke="#555" stroke-width="0.65"/><line x1="250.91" y1="138.40" x2="250.91" y2="139.60" stroke="#555" stroke-width="0.65"/><line x1="257.25" y1="241.20" x2="257.25" y2="240.00" stroke="#555" stroke-width="0.65"/><line x1="257.25" y1="138.40" x2="257.25" y2="139.60" stroke="#555" stroke-width="0.65"/><line x1="269.92" y1="241.20" x2="269.92" y2="240.00" stroke="#555" stroke-width="0.65"/><line x1="269.92" y1="138.40" x2="269.92" y2="139.60" stroke="#555" stroke-width="0.65"/><line x1="276.25" y1="241.20" x2="276.25" y2="240.00" stroke="#555" stroke-width="0.65"/><line x1="276.25" y1="138.40" x2="276.25" y2="139.60" stroke="#555" stroke-width="0.65"/><line x1="282.59" y1="241.20" x2="282.59" y2="240.00" stroke="#555" stroke-width="0.65"/><line x1="282.59" y1="138.40" x2="282.59" y2="139.60" stroke="#555" stroke-width="0.65"/><line x1="295.25" y1="241.20" x2="295.25" y2="240.00" stroke="#555" stroke-width="0.65"/><line x1="295.25" y1="138.40" x2="295.25" y2="139.60" stroke="#555" stroke-width="0.65"/><line x1="301.59" y1="241.20" x2="301.59" y2="240.00" stroke="#555" stroke-width="0.65"/><line x1="301.59" y1="138.40" x2="301.59" y2="139.60" stroke="#555" stroke-width="0.65"/><line x1="307.93" y1="241.20" x2="307.93" y2="240.00" stroke="#555" stroke-width="0.65"/><line x1="307.93" y1="138.40" x2="307.93" y2="139.60" stroke="#555" stroke-width="0.65"/><line x1="320.60" y1="241.20" x2="320.60" y2="240.00" stroke="#555" stroke-width="0.65"/><line x1="320.60" y1="138.40" x2="320.60" y2="139.60" stroke="#555" stroke-width="0.65"/><line x1="326.93" y1="241.20" x2="326.93" y2="240.00" stroke="#555" stroke-width="0.65"/><line x1="326.93" y1="138.40" x2="326.93" y2="139.60" stroke="#555" stroke-width="0.65"/><line x1="333.26" y1="241.20" x2="333.26" y2="240.00" stroke="#555" stroke-width="0.65"/><line x1="333.26" y1="138.40" x2="333.26" y2="139.60" stroke="#555" stroke-width="0.65"/><line x1="212.90" y1="241.20" x2="214.90" y2="241.20" stroke="#555" stroke-width="0.65"/><line x1="339.60" y1="241.20" x2="337.60" y2="241.20" stroke="#555" stroke-width="0.65"/><line x1="212.90" y1="220.64" x2="214.90" y2="220.64" stroke="#555" stroke-width="0.65"/><line x1="339.60" y1="220.64" x2="337.60" y2="220.64" stroke="#555" stroke-width="0.65"/><line x1="212.90" y1="200.08" x2="214.90" y2="200.08" stroke="#555" stroke-width="0.65"/><line x1="339.60" y1="200.08" x2="337.60" y2="200.08" stroke="#555" stroke-width="0.65"/><line x1="212.90" y1="179.52" x2="214.90" y2="179.52" stroke="#555" stroke-width="0.65"/><line x1="339.60" y1="179.52" x2="337.60" y2="179.52" stroke="#555" stroke-width="0.65"/><line x1="212.90" y1="158.96" x2="214.90" y2="158.96" stroke="#555" stroke-width="0.65"/><line x1="339.60" y1="158.96" x2="337.60" y2="158.96" stroke="#555" stroke-width="0.65"/><line x1="212.90" y1="138.40" x2="214.90" y2="138.40" stroke="#555" stroke-width="0.65"/><line x1="339.60" y1="138.40" x2="337.60" y2="138.40" stroke="#555" stroke-width="0.65"/><line x1="212.90" y1="236.06" x2="214.10" y2="236.06" stroke="#555" stroke-width="0.65"/><line x1="339.60" y1="236.06" x2="338.40" y2="236.06" stroke="#555" stroke-width="0.65"/><line x1="212.90" y1="230.92" x2="214.10" y2="230.92" stroke="#555" stroke-width="0.65"/><line x1="339.60" y1="230.92" x2="338.40" y2="230.92" stroke="#555" stroke-width="0.65"/><line x1="212.90" y1="225.78" x2="214.10" y2="225.78" stroke="#555" stroke-width="0.65"/><line x1="339.60" y1="225.78" x2="338.40" y2="225.78" stroke="#555" stroke-width="0.65"/><line x1="212.90" y1="215.50" x2="214.10" y2="215.50" stroke="#555" stroke-width="0.65"/><line x1="339.60" y1="215.50" x2="338.40" y2="215.50" stroke="#555" stroke-width="0.65"/><line x1="212.90" y1="210.36" x2="214.10" y2="210.36" stroke="#555" stroke-width="0.65"/><line x1="339.60" y1="210.36" x2="338.40" y2="210.36" stroke="#555" stroke-width="0.65"/><line x1="212.90" y1="205.22" x2="214.10" y2="205.22" stroke="#555" stroke-width="0.65"/><line x1="339.60" y1="205.22" x2="338.40" y2="205.22" stroke="#555" stroke-width="0.65"/><line x1="212.90" y1="194.94" x2="214.10" y2="194.94" stroke="#555" stroke-width="0.65"/><line x1="339.60" y1="194.94" x2="338.40" y2="194.94" stroke="#555" stroke-width="0.65"/><line x1="212.90" y1="189.80" x2="214.10" y2="189.80" stroke="#555" stroke-width="0.65"/><line x1="339.60" y1="189.80" x2="338.40" y2="189.80" stroke="#555" stroke-width="0.65"/><line x1="212.90" y1="184.66" x2="214.10" y2="184.66" stroke="#555" stroke-width="0.65"/><line x1="339.60" y1="184.66" x2="338.40" y2="184.66" stroke="#555" stroke-width="0.65"/><line x1="212.90" y1="174.38" x2="214.10" y2="174.38" stroke="#555" stroke-width="0.65"/><line x1="339.60" y1="174.38" x2="338.40" y2="174.38" stroke="#555" stroke-width="0.65"/><line x1="212.90" y1="169.24" x2="214.10" y2="169.24" stroke="#555" stroke-width="0.65"/><line x1="339.60" y1="169.24" x2="338.40" y2="169.24" stroke="#555" stroke-width="0.65"/><line x1="212.90" y1="164.10" x2="214.10" y2="164.10" stroke="#555" stroke-width="0.65"/><line x1="339.60" y1="164.10" x2="338.40" y2="164.10" stroke="#555" stroke-width="0.65"/><line x1="212.90" y1="153.82" x2="214.10" y2="153.82" stroke="#555" stroke-width="0.65"/><line x1="339.60" y1="153.82" x2="338.40" y2="153.82" stroke="#555" stroke-width="0.65"/><line x1="212.90" y1="148.68" x2="214.10" y2="148.68" stroke="#555" stroke-width="0.65"/><line x1="339.60" y1="148.68" x2="338.40" y2="148.68" stroke="#555" stroke-width="0.65"/><line x1="212.90" y1="143.54" x2="214.10" y2="143.54" stroke="#555" stroke-width="0.65"/><line x1="339.60" y1="143.54" x2="338.40" y2="143.54" stroke="#555" stroke-width="0.65"/><text x="238.24" y="249.78" font-size="6.4" text-anchor="middle" fill="#222" color="#222" font-weight="bold">200</text><text x="263.58" y="249.78" font-size="6.4" text-anchor="middle" fill="#222" color="#222" font-weight="bold">400</text><text x="288.92" y="249.78" font-size="6.4" text-anchor="middle" fill="#222" color="#222" font-weight="bold">600</text><text x="314.26" y="249.78" font-size="6.4" text-anchor="middle" fill="#222" color="#222" font-weight="bold">800</text><text x="339.60" y="249.78" font-size="6.4" text-anchor="middle" fill="#222" color="#222" font-weight="bold">1000</text><text x="210.30" y="243.18" font-size="6.4" text-anchor="end" fill="#222" color="#222" font-weight="bold">0</text><text x="210.30" y="222.62" font-size="6.4" text-anchor="end" fill="#222" color="#222" font-weight="bold">20</text><text x="210.30" y="202.06" font-size="6.4" text-anchor="end" fill="#222" color="#222" font-weight="bold">40</text><text x="210.30" y="181.50" font-size="6.4" text-anchor="end" fill="#222" color="#222" font-weight="bold">60</text><text x="210.30" y="160.94" font-size="6.4" text-anchor="end" fill="#222" color="#222" font-weight="bold">80</text><text x="210.30" y="140.38" font-size="6.4" text-anchor="end" fill="#222" color="#222" font-weight="bold">100</text><text x="276.25" y="258.04" font-size="6.6" text-anchor="middle" fill="#2a2a2a" color="#2a2a2a" font-weight="bold" class="lb">Iteration</text><text x="195.10" y="192.11" font-size="6.8" text-anchor="middle" fill="#2a2a2a" color="#2a2a2a" font-weight="bold" transform="rotate(-90 195.10 189.80)" class="lb">Percentage</text><text x="276.25" y="136.91" font-size="6.8" text-anchor="middle" fill="#000" color="#000" font-weight="bold">Balance analysis of RIME</text><line x1="401.76" y1="137.50" x2="401.76" y2="240.40" stroke="#e4e4e4" stroke-width="0.6"/><line x1="427.02" y1="137.50" x2="427.02" y2="240.40" stroke="#e4e4e4" stroke-width="0.6"/><line x1="452.28" y1="137.50" x2="452.28" y2="240.40" stroke="#e4e4e4" stroke-width="0.6"/><line x1="477.54" y1="137.50" x2="477.54" y2="240.40" stroke="#e4e4e4" stroke-width="0.6"/><line x1="376.50" y1="216.58" x2="502.80" y2="216.58" stroke="#e4e4e4" stroke-width="0.6"/><line x1="376.50" y1="192.76" x2="502.80" y2="192.76" stroke="#e4e4e4" stroke-width="0.6"/><line x1="376.50" y1="168.94" x2="502.80" y2="168.94" stroke="#e4e4e4" stroke-width="0.6"/><line x1="376.50" y1="145.12" x2="502.80" y2="145.12" stroke="#e4e4e4" stroke-width="0.6"/><line x1="401.76" y1="240.40" x2="401.76" y2="238.40" stroke="#555" stroke-width="0.65"/><line x1="401.76" y1="137.50" x2="401.76" y2="139.50" stroke="#555" stroke-width="0.65"/><line x1="427.02" y1="240.40" x2="427.02" y2="238.40" stroke="#555" stroke-width="0.65"/><line x1="427.02" y1="137.50" x2="427.02" y2="139.50" stroke="#555" stroke-width="0.65"/><line x1="452.28" y1="240.40" x2="452.28" y2="238.40" stroke="#555" stroke-width="0.65"/><line x1="452.28" y1="137.50" x2="452.28" y2="139.50" stroke="#555" stroke-width="0.65"/><line x1="477.54" y1="240.40" x2="477.54" y2="238.40" stroke="#555" stroke-width="0.65"/><line x1="477.54" y1="137.50" x2="477.54" y2="139.50" stroke="#555" stroke-width="0.65"/><line x1="502.80" y1="240.40" x2="502.80" y2="238.40" stroke="#555" stroke-width="0.65"/><line x1="502.80" y1="137.50" x2="502.80" y2="139.50" stroke="#555" stroke-width="0.65"/><line x1="382.81" y1="240.40" x2="382.81" y2="239.20" stroke="#555" stroke-width="0.65"/><line x1="382.81" y1="137.50" x2="382.81" y2="138.70" stroke="#555" stroke-width="0.65"/><line x1="389.13" y1="240.40" x2="389.13" y2="239.20" stroke="#555" stroke-width="0.65"/><line x1="389.13" y1="137.50" x2="389.13" y2="138.70" stroke="#555" stroke-width="0.65"/><line x1="395.44" y1="240.40" x2="395.44" y2="239.20" stroke="#555" stroke-width="0.65"/><line x1="395.44" y1="137.50" x2="395.44" y2="138.70" stroke="#555" stroke-width="0.65"/><line x1="408.07" y1="240.40" x2="408.07" y2="239.20" stroke="#555" stroke-width="0.65"/><line x1="408.07" y1="137.50" x2="408.07" y2="138.70" stroke="#555" stroke-width="0.65"/><line x1="414.39" y1="240.40" x2="414.39" y2="239.20" stroke="#555" stroke-width="0.65"/><line x1="414.39" y1="137.50" x2="414.39" y2="138.70" stroke="#555" stroke-width="0.65"/><line x1="420.70" y1="240.40" x2="420.70" y2="239.20" stroke="#555" stroke-width="0.65"/><line x1="420.70" y1="137.50" x2="420.70" y2="138.70" stroke="#555" stroke-width="0.65"/><line x1="433.34" y1="240.40" x2="433.34" y2="239.20" stroke="#555" stroke-width="0.65"/><line x1="433.34" y1="137.50" x2="433.34" y2="138.70" stroke="#555" stroke-width="0.65"/><line x1="439.65" y1="240.40" x2="439.65" y2="239.20" stroke="#555" stroke-width="0.65"/><line x1="439.65" y1="137.50" x2="439.65" y2="138.70" stroke="#555" stroke-width="0.65"/><line x1="445.97" y1="240.40" x2="445.97" y2="239.20" stroke="#555" stroke-width="0.65"/><line x1="445.97" y1="137.50" x2="445.97" y2="138.70" stroke="#555" stroke-width="0.65"/><line x1="458.60" y1="240.40" x2="458.60" y2="239.20" stroke="#555" stroke-width="0.65"/><line x1="458.60" y1="137.50" x2="458.60" y2="138.70" stroke="#555" stroke-width="0.65"/><line x1="464.91" y1="240.40" x2="464.91" y2="239.20" stroke="#555" stroke-width="0.65"/><line x1="464.91" y1="137.50" x2="464.91" y2="138.70" stroke="#555" stroke-width="0.65"/><line x1="471.23" y1="240.40" x2="471.23" y2="239.20" stroke="#555" stroke-width="0.65"/><line x1="471.23" y1="137.50" x2="471.23" y2="138.70" stroke="#555" stroke-width="0.65"/><line x1="483.86" y1="240.40" x2="483.86" y2="239.20" stroke="#555" stroke-width="0.65"/><line x1="483.86" y1="137.50" x2="483.86" y2="138.70" stroke="#555" stroke-width="0.65"/><line x1="490.17" y1="240.40" x2="490.17" y2="239.20" stroke="#555" stroke-width="0.65"/><line x1="490.17" y1="137.50" x2="490.17" y2="138.70" stroke="#555" stroke-width="0.65"/><line x1="496.49" y1="240.40" x2="496.49" y2="239.20" stroke="#555" stroke-width="0.65"/><line x1="496.49" y1="137.50" x2="496.49" y2="138.70" stroke="#555" stroke-width="0.65"/><line x1="376.50" y1="240.40" x2="378.50" y2="240.40" stroke="#555" stroke-width="0.65"/><line x1="502.80" y1="240.40" x2="500.80" y2="240.40" stroke="#555" stroke-width="0.65"/><line x1="376.50" y1="216.58" x2="378.50" y2="216.58" stroke="#555" stroke-width="0.65"/><line x1="502.80" y1="216.58" x2="500.80" y2="216.58" stroke="#555" stroke-width="0.65"/><line x1="376.50" y1="192.76" x2="378.50" y2="192.76" stroke="#555" stroke-width="0.65"/><line x1="502.80" y1="192.76" x2="500.80" y2="192.76" stroke="#555" stroke-width="0.65"/><line x1="376.50" y1="168.94" x2="378.50" y2="168.94" stroke="#555" stroke-width="0.65"/><line x1="502.80" y1="168.94" x2="500.80" y2="168.94" stroke="#555" stroke-width="0.65"/><line x1="376.50" y1="145.12" x2="378.50" y2="145.12" stroke="#555" stroke-width="0.65"/><line x1="502.80" y1="145.12" x2="500.80" y2="145.12" stroke="#555" stroke-width="0.65"/><line x1="376.50" y1="235.64" x2="377.70" y2="235.64" stroke="#555" stroke-width="0.65"/><line x1="502.80" y1="235.64" x2="501.60" y2="235.64" stroke="#555" stroke-width="0.65"/><line x1="376.50" y1="230.87" x2="377.70" y2="230.87" stroke="#555" stroke-width="0.65"/><line x1="502.80" y1="230.87" x2="501.60" y2="230.87" stroke="#555" stroke-width="0.65"/><line x1="376.50" y1="226.11" x2="377.70" y2="226.11" stroke="#555" stroke-width="0.65"/><line x1="502.80" y1="226.11" x2="501.60" y2="226.11" stroke="#555" stroke-width="0.65"/><line x1="376.50" y1="221.34" x2="377.70" y2="221.34" stroke="#555" stroke-width="0.65"/><line x1="502.80" y1="221.34" x2="501.60" y2="221.34" stroke="#555" stroke-width="0.65"/><line x1="376.50" y1="211.82" x2="377.70" y2="211.82" stroke="#555" stroke-width="0.65"/><line x1="502.80" y1="211.82" x2="501.60" y2="211.82" stroke="#555" stroke-width="0.65"/><line x1="376.50" y1="207.05" x2="377.70" y2="207.05" stroke="#555" stroke-width="0.65"/><line x1="502.80" y1="207.05" x2="501.60" y2="207.05" stroke="#555" stroke-width="0.65"/><line x1="376.50" y1="202.29" x2="377.70" y2="202.29" stroke="#555" stroke-width="0.65"/><line x1="502.80" y1="202.29" x2="501.60" y2="202.29" stroke="#555" stroke-width="0.65"/><line x1="376.50" y1="197.53" x2="377.70" y2="197.53" stroke="#555" stroke-width="0.65"/><line x1="502.80" y1="197.53" x2="501.60" y2="197.53" stroke="#555" stroke-width="0.65"/><line x1="376.50" y1="188.00" x2="377.70" y2="188.00" stroke="#555" stroke-width="0.65"/><line x1="502.80" y1="188.00" x2="501.60" y2="188.00" stroke="#555" stroke-width="0.65"/><line x1="376.50" y1="183.23" x2="377.70" y2="183.23" stroke="#555" stroke-width="0.65"/><line x1="502.80" y1="183.23" x2="501.60" y2="183.23" stroke="#555" stroke-width="0.65"/><line x1="376.50" y1="178.47" x2="377.70" y2="178.47" stroke="#555" stroke-width="0.65"/><line x1="502.80" y1="178.47" x2="501.60" y2="178.47" stroke="#555" stroke-width="0.65"/><line x1="376.50" y1="173.71" x2="377.70" y2="173.71" stroke="#555" stroke-width="0.65"/><line x1="502.80" y1="173.71" x2="501.60" y2="173.71" stroke="#555" stroke-width="0.65"/><line x1="376.50" y1="164.18" x2="377.70" y2="164.18" stroke="#555" stroke-width="0.65"/><line x1="502.80" y1="164.18" x2="501.60" y2="164.18" stroke="#555" stroke-width="0.65"/><line x1="376.50" y1="159.41" x2="377.70" y2="159.41" stroke="#555" stroke-width="0.65"/><line x1="502.80" y1="159.41" x2="501.60" y2="159.41" stroke="#555" stroke-width="0.65"/><line x1="376.50" y1="154.65" x2="377.70" y2="154.65" stroke="#555" stroke-width="0.65"/><line x1="502.80" y1="154.65" x2="501.60" y2="154.65" stroke="#555" stroke-width="0.65"/><line x1="376.50" y1="149.89" x2="377.70" y2="149.89" stroke="#555" stroke-width="0.65"/><line x1="502.80" y1="149.89" x2="501.60" y2="149.89" stroke="#555" stroke-width="0.65"/><line x1="376.50" y1="140.36" x2="377.70" y2="140.36" stroke="#555" stroke-width="0.65"/><line x1="502.80" y1="140.36" x2="501.60" y2="140.36" stroke="#555" stroke-width="0.65"/><text x="401.76" y="248.98" font-size="6.4" text-anchor="middle" fill="#222" color="#222" font-weight="bold">200</text><text x="427.02" y="248.98" font-size="6.4" text-anchor="middle" fill="#222" color="#222" font-weight="bold">400</text><text x="452.28" y="248.98" font-size="6.4" text-anchor="middle" fill="#222" color="#222" font-weight="bold">600</text><text x="477.54" y="248.98" font-size="6.4" text-anchor="middle" fill="#222" color="#222" font-weight="bold">800</text><text x="502.80" y="248.98" font-size="6.4" text-anchor="middle" fill="#222" color="#222" font-weight="bold">1000</text><text x="373.90" y="242.38" font-size="6.4" text-anchor="end" fill="#222" color="#222" font-weight="bold">0</text><text x="373.90" y="218.56" font-size="6.4" text-anchor="end" fill="#222" color="#222" font-weight="bold">100</text><text x="373.90" y="194.74" font-size="6.4" text-anchor="end" fill="#222" color="#222" font-weight="bold">200</text><text x="373.90" y="170.92" font-size="6.4" text-anchor="end" fill="#222" color="#222" font-weight="bold">300</text><text x="373.90" y="147.10" font-size="6.4" text-anchor="end" fill="#222" color="#222" font-weight="bold">400</text><text x="439.65" y="257.24" font-size="6.6" text-anchor="middle" fill="#2a2a2a" color="#2a2a2a" font-weight="bold" class="lb">Iteration</text><text x="358.50" y="191.33" font-size="7.0" text-anchor="middle" fill="#2a2a2a" color="#2a2a2a" font-weight="bold" transform="rotate(-90 358.50 188.95)" class="lb">Average distance between search agent</text><text x="439.65" y="136.01" font-size="6.8" text-anchor="middle" fill="#000" color="#000" font-weight="bold">Algorithm diversity analysis</text><line x1="74.90" y1="268.90" x2="74.90" y2="371.90" stroke="#e4e4e4" stroke-width="0.6"/><line x1="100.30" y1="268.90" x2="100.30" y2="371.90" stroke="#e4e4e4" stroke-width="0.6"/><line x1="125.70" y1="268.90" x2="125.70" y2="371.90" stroke="#e4e4e4" stroke-width="0.6"/><line x1="151.10" y1="268.90" x2="151.10" y2="371.90" stroke="#e4e4e4" stroke-width="0.6"/><line x1="49.50" y1="351.30" x2="176.50" y2="351.30" stroke="#e4e4e4" stroke-width="0.6"/><line x1="49.50" y1="330.70" x2="176.50" y2="330.70" stroke="#e4e4e4" stroke-width="0.6"/><line x1="49.50" y1="310.10" x2="176.50" y2="310.10" stroke="#e4e4e4" stroke-width="0.6"/><line x1="49.50" y1="289.50" x2="176.50" y2="289.50" stroke="#e4e4e4" stroke-width="0.6"/><line x1="74.90" y1="371.90" x2="74.90" y2="369.90" stroke="#555" stroke-width="0.65"/><line x1="74.90" y1="268.90" x2="74.90" y2="270.90" stroke="#555" stroke-width="0.65"/><line x1="100.30" y1="371.90" x2="100.30" y2="369.90" stroke="#555" stroke-width="0.65"/><line x1="100.30" y1="268.90" x2="100.30" y2="270.90" stroke="#555" stroke-width="0.65"/><line x1="125.70" y1="371.90" x2="125.70" y2="369.90" stroke="#555" stroke-width="0.65"/><line x1="125.70" y1="268.90" x2="125.70" y2="270.90" stroke="#555" stroke-width="0.65"/><line x1="151.10" y1="371.90" x2="151.10" y2="369.90" stroke="#555" stroke-width="0.65"/><line x1="151.10" y1="268.90" x2="151.10" y2="270.90" stroke="#555" stroke-width="0.65"/><line x1="176.50" y1="371.90" x2="176.50" y2="369.90" stroke="#555" stroke-width="0.65"/><line x1="176.50" y1="268.90" x2="176.50" y2="270.90" stroke="#555" stroke-width="0.65"/><line x1="55.85" y1="371.90" x2="55.85" y2="370.70" stroke="#555" stroke-width="0.65"/><line x1="55.85" y1="268.90" x2="55.85" y2="270.10" stroke="#555" stroke-width="0.65"/><line x1="62.20" y1="371.90" x2="62.20" y2="370.70" stroke="#555" stroke-width="0.65"/><line x1="62.20" y1="268.90" x2="62.20" y2="270.10" stroke="#555" stroke-width="0.65"/><line x1="68.55" y1="371.90" x2="68.55" y2="370.70" stroke="#555" stroke-width="0.65"/><line x1="68.55" y1="268.90" x2="68.55" y2="270.10" stroke="#555" stroke-width="0.65"/><line x1="81.25" y1="371.90" x2="81.25" y2="370.70" stroke="#555" stroke-width="0.65"/><line x1="81.25" y1="268.90" x2="81.25" y2="270.10" stroke="#555" stroke-width="0.65"/><line x1="87.60" y1="371.90" x2="87.60" y2="370.70" stroke="#555" stroke-width="0.65"/><line x1="87.60" y1="268.90" x2="87.60" y2="270.10" stroke="#555" stroke-width="0.65"/><line x1="93.95" y1="371.90" x2="93.95" y2="370.70" stroke="#555" stroke-width="0.65"/><line x1="93.95" y1="268.90" x2="93.95" y2="270.10" stroke="#555" stroke-width="0.65"/><line x1="106.65" y1="371.90" x2="106.65" y2="370.70" stroke="#555" stroke-width="0.65"/><line x1="106.65" y1="268.90" x2="106.65" y2="270.10" stroke="#555" stroke-width="0.65"/><line x1="113.00" y1="371.90" x2="113.00" y2="370.70" stroke="#555" stroke-width="0.65"/><line x1="113.00" y1="268.90" x2="113.00" y2="270.10" stroke="#555" stroke-width="0.65"/><line x1="119.35" y1="371.90" x2="119.35" y2="370.70" stroke="#555" stroke-width="0.65"/><line x1="119.35" y1="268.90" x2="119.35" y2="270.10" stroke="#555" stroke-width="0.65"/><line x1="132.05" y1="371.90" x2="132.05" y2="370.70" stroke="#555" stroke-width="0.65"/><line x1="132.05" y1="268.90" x2="132.05" y2="270.10" stroke="#555" stroke-width="0.65"/><line x1="138.40" y1="371.90" x2="138.40" y2="370.70" stroke="#555" stroke-width="0.65"/><line x1="138.40" y1="268.90" x2="138.40" y2="270.10" stroke="#555" stroke-width="0.65"/><line x1="144.75" y1="371.90" x2="144.75" y2="370.70" stroke="#555" stroke-width="0.65"/><line x1="144.75" y1="268.90" x2="144.75" y2="270.10" stroke="#555" stroke-width="0.65"/><line x1="157.45" y1="371.90" x2="157.45" y2="370.70" stroke="#555" stroke-width="0.65"/><line x1="157.45" y1="268.90" x2="157.45" y2="270.10" stroke="#555" stroke-width="0.65"/><line x1="163.80" y1="371.90" x2="163.80" y2="370.70" stroke="#555" stroke-width="0.65"/><line x1="163.80" y1="268.90" x2="163.80" y2="270.10" stroke="#555" stroke-width="0.65"/><line x1="170.15" y1="371.90" x2="170.15" y2="370.70" stroke="#555" stroke-width="0.65"/><line x1="170.15" y1="268.90" x2="170.15" y2="270.10" stroke="#555" stroke-width="0.65"/><line x1="49.50" y1="371.90" x2="51.50" y2="371.90" stroke="#555" stroke-width="0.65"/><line x1="176.50" y1="371.90" x2="174.50" y2="371.90" stroke="#555" stroke-width="0.65"/><line x1="49.50" y1="351.30" x2="51.50" y2="351.30" stroke="#555" stroke-width="0.65"/><line x1="176.50" y1="351.30" x2="174.50" y2="351.30" stroke="#555" stroke-width="0.65"/><line x1="49.50" y1="330.70" x2="51.50" y2="330.70" stroke="#555" stroke-width="0.65"/><line x1="176.50" y1="330.70" x2="174.50" y2="330.70" stroke="#555" stroke-width="0.65"/><line x1="49.50" y1="310.10" x2="51.50" y2="310.10" stroke="#555" stroke-width="0.65"/><line x1="176.50" y1="310.10" x2="174.50" y2="310.10" stroke="#555" stroke-width="0.65"/><line x1="49.50" y1="289.50" x2="51.50" y2="289.50" stroke="#555" stroke-width="0.65"/><line x1="176.50" y1="289.50" x2="174.50" y2="289.50" stroke="#555" stroke-width="0.65"/><line x1="49.50" y1="268.90" x2="51.50" y2="268.90" stroke="#555" stroke-width="0.65"/><line x1="176.50" y1="268.90" x2="174.50" y2="268.90" stroke="#555" stroke-width="0.65"/><line x1="49.50" y1="366.75" x2="50.70" y2="366.75" stroke="#555" stroke-width="0.65"/><line x1="176.50" y1="366.75" x2="175.30" y2="366.75" stroke="#555" stroke-width="0.65"/><line x1="49.50" y1="361.60" x2="50.70" y2="361.60" stroke="#555" stroke-width="0.65"/><line x1="176.50" y1="361.60" x2="175.30" y2="361.60" stroke="#555" stroke-width="0.65"/><line x1="49.50" y1="356.45" x2="50.70" y2="356.45" stroke="#555" stroke-width="0.65"/><line x1="176.50" y1="356.45" x2="175.30" y2="356.45" stroke="#555" stroke-width="0.65"/><line x1="49.50" y1="346.15" x2="50.70" y2="346.15" stroke="#555" stroke-width="0.65"/><line x1="176.50" y1="346.15" x2="175.30" y2="346.15" stroke="#555" stroke-width="0.65"/><line x1="49.50" y1="341.00" x2="50.70" y2="341.00" stroke="#555" stroke-width="0.65"/><line x1="176.50" y1="341.00" x2="175.30" y2="341.00" stroke="#555" stroke-width="0.65"/><line x1="49.50" y1="335.85" x2="50.70" y2="335.85" stroke="#555" stroke-width="0.65"/><line x1="176.50" y1="335.85" x2="175.30" y2="335.85" stroke="#555" stroke-width="0.65"/><line x1="49.50" y1="325.55" x2="50.70" y2="325.55" stroke="#555" stroke-width="0.65"/><line x1="176.50" y1="325.55" x2="175.30" y2="325.55" stroke="#555" stroke-width="0.65"/><line x1="49.50" y1="320.40" x2="50.70" y2="320.40" stroke="#555" stroke-width="0.65"/><line x1="176.50" y1="320.40" x2="175.30" y2="320.40" stroke="#555" stroke-width="0.65"/><line x1="49.50" y1="315.25" x2="50.70" y2="315.25" stroke="#555" stroke-width="0.65"/><line x1="176.50" y1="315.25" x2="175.30" y2="315.25" stroke="#555" stroke-width="0.65"/><line x1="49.50" y1="304.95" x2="50.70" y2="304.95" stroke="#555" stroke-width="0.65"/><line x1="176.50" y1="304.95" x2="175.30" y2="304.95" stroke="#555" stroke-width="0.65"/><line x1="49.50" y1="299.80" x2="50.70" y2="299.80" stroke="#555" stroke-width="0.65"/><line x1="176.50" y1="299.80" x2="175.30" y2="299.80" stroke="#555" stroke-width="0.65"/><line x1="49.50" y1="294.65" x2="50.70" y2="294.65" stroke="#555" stroke-width="0.65"/><line x1="176.50" y1="294.65" x2="175.30" y2="294.65" stroke="#555" stroke-width="0.65"/><line x1="49.50" y1="284.35" x2="50.70" y2="284.35" stroke="#555" stroke-width="0.65"/><line x1="176.50" y1="284.35" x2="175.30" y2="284.35" stroke="#555" stroke-width="0.65"/><line x1="49.50" y1="279.20" x2="50.70" y2="279.20" stroke="#555" stroke-width="0.65"/><line x1="176.50" y1="279.20" x2="175.30" y2="279.20" stroke="#555" stroke-width="0.65"/><line x1="49.50" y1="274.05" x2="50.70" y2="274.05" stroke="#555" stroke-width="0.65"/><line x1="176.50" y1="274.05" x2="175.30" y2="274.05" stroke="#555" stroke-width="0.65"/><text x="74.90" y="380.48" font-size="6.4" text-anchor="middle" fill="#222" color="#222" font-weight="bold">200</text><text x="100.30" y="380.48" font-size="6.4" text-anchor="middle" fill="#222" color="#222" font-weight="bold">400</text><text x="125.70" y="380.48" font-size="6.4" text-anchor="middle" fill="#222" color="#222" font-weight="bold">600</text><text x="151.10" y="380.48" font-size="6.4" text-anchor="middle" fill="#222" color="#222" font-weight="bold">800</text><text x="176.50" y="380.48" font-size="6.4" text-anchor="middle" fill="#222" color="#222" font-weight="bold">1000</text><text x="46.90" y="373.88" font-size="6.4" text-anchor="end" fill="#222" color="#222" font-weight="bold">0</text><text x="46.90" y="353.28" font-size="6.4" text-anchor="end" fill="#222" color="#222" font-weight="bold">20</text><text x="46.90" y="332.68" font-size="6.4" text-anchor="end" fill="#222" color="#222" font-weight="bold">40</text><text x="46.90" y="312.08" font-size="6.4" text-anchor="end" fill="#222" color="#222" font-weight="bold">60</text><text x="46.90" y="291.48" font-size="6.4" text-anchor="end" fill="#222" color="#222" font-weight="bold">80</text><text x="46.90" y="270.88" font-size="6.4" text-anchor="end" fill="#222" color="#222" font-weight="bold">100</text><text x="113.00" y="388.74" font-size="6.6" text-anchor="middle" fill="#2a2a2a" color="#2a2a2a" font-weight="bold" class="lb">Iteration</text><text x="31.70" y="322.71" font-size="6.8" text-anchor="middle" fill="#2a2a2a" color="#2a2a2a" font-weight="bold" transform="rotate(-90 31.70 320.40)" class="lb">Percentage</text><text x="113.00" y="267.41" font-size="6.8" text-anchor="middle" fill="#000" color="#000" font-weight="bold">Balance analysis of DNMRIME</text><line x1="238.24" y1="268.90" x2="238.24" y2="371.90" stroke="#e4e4e4" stroke-width="0.6"/><line x1="263.58" y1="268.90" x2="263.58" y2="371.90" stroke="#e4e4e4" stroke-width="0.6"/><line x1="288.92" y1="268.90" x2="288.92" y2="371.90" stroke="#e4e4e4" stroke-width="0.6"/><line x1="314.26" y1="268.90" x2="314.26" y2="371.90" stroke="#e4e4e4" stroke-width="0.6"/><line x1="212.90" y1="351.30" x2="339.60" y2="351.30" stroke="#e4e4e4" stroke-width="0.6"/><line x1="212.90" y1="330.70" x2="339.60" y2="330.70" stroke="#e4e4e4" stroke-width="0.6"/><line x1="212.90" y1="310.10" x2="339.60" y2="310.10" stroke="#e4e4e4" stroke-width="0.6"/><line x1="212.90" y1="289.50" x2="339.60" y2="289.50" stroke="#e4e4e4" stroke-width="0.6"/><line x1="238.24" y1="371.90" x2="238.24" y2="369.90" stroke="#555" stroke-width="0.65"/><line x1="238.24" y1="268.90" x2="238.24" y2="270.90" stroke="#555" stroke-width="0.65"/><line x1="263.58" y1="371.90" x2="263.58" y2="369.90" stroke="#555" stroke-width="0.65"/><line x1="263.58" y1="268.90" x2="263.58" y2="270.90" stroke="#555" stroke-width="0.65"/><line x1="288.92" y1="371.90" x2="288.92" y2="369.90" stroke="#555" stroke-width="0.65"/><line x1="288.92" y1="268.90" x2="288.92" y2="270.90" stroke="#555" stroke-width="0.65"/><line x1="314.26" y1="371.90" x2="314.26" y2="369.90" stroke="#555" stroke-width="0.65"/><line x1="314.26" y1="268.90" x2="314.26" y2="270.90" stroke="#555" stroke-width="0.65"/><line x1="339.60" y1="371.90" x2="339.60" y2="369.90" stroke="#555" stroke-width="0.65"/><line x1="339.60" y1="268.90" x2="339.60" y2="270.90" stroke="#555" stroke-width="0.65"/><line x1="219.24" y1="371.90" x2="219.24" y2="370.70" stroke="#555" stroke-width="0.65"/><line x1="219.24" y1="268.90" x2="219.24" y2="270.10" stroke="#555" stroke-width="0.65"/><line x1="225.57" y1="371.90" x2="225.57" y2="370.70" stroke="#555" stroke-width="0.65"/><line x1="225.57" y1="268.90" x2="225.57" y2="270.10" stroke="#555" stroke-width="0.65"/><line x1="231.91" y1="371.90" x2="231.91" y2="370.70" stroke="#555" stroke-width="0.65"/><line x1="231.91" y1="268.90" x2="231.91" y2="270.10" stroke="#555" stroke-width="0.65"/><line x1="244.58" y1="371.90" x2="244.58" y2="370.70" stroke="#555" stroke-width="0.65"/><line x1="244.58" y1="268.90" x2="244.58" y2="270.10" stroke="#555" stroke-width="0.65"/><line x1="250.91" y1="371.90" x2="250.91" y2="370.70" stroke="#555" stroke-width="0.65"/><line x1="250.91" y1="268.90" x2="250.91" y2="270.10" stroke="#555" stroke-width="0.65"/><line x1="257.25" y1="371.90" x2="257.25" y2="370.70" stroke="#555" stroke-width="0.65"/><line x1="257.25" y1="268.90" x2="257.25" y2="270.10" stroke="#555" stroke-width="0.65"/><line x1="269.92" y1="371.90" x2="269.92" y2="370.70" stroke="#555" stroke-width="0.65"/><line x1="269.92" y1="268.90" x2="269.92" y2="270.10" stroke="#555" stroke-width="0.65"/><line x1="276.25" y1="371.90" x2="276.25" y2="370.70" stroke="#555" stroke-width="0.65"/><line x1="276.25" y1="268.90" x2="276.25" y2="270.10" stroke="#555" stroke-width="0.65"/><line x1="282.59" y1="371.90" x2="282.59" y2="370.70" stroke="#555" stroke-width="0.65"/><line x1="282.59" y1="268.90" x2="282.59" y2="270.10" stroke="#555" stroke-width="0.65"/><line x1="295.25" y1="371.90" x2="295.25" y2="370.70" stroke="#555" stroke-width="0.65"/><line x1="295.25" y1="268.90" x2="295.25" y2="270.10" stroke="#555" stroke-width="0.65"/><line x1="301.59" y1="371.90" x2="301.59" y2="370.70" stroke="#555" stroke-width="0.65"/><line x1="301.59" y1="268.90" x2="301.59" y2="270.10" stroke="#555" stroke-width="0.65"/><line x1="307.93" y1="371.90" x2="307.93" y2="370.70" stroke="#555" stroke-width="0.65"/><line x1="307.93" y1="268.90" x2="307.93" y2="270.10" stroke="#555" stroke-width="0.65"/><line x1="320.60" y1="371.90" x2="320.60" y2="370.70" stroke="#555" stroke-width="0.65"/><line x1="320.60" y1="268.90" x2="320.60" y2="270.10" stroke="#555" stroke-width="0.65"/><line x1="326.93" y1="371.90" x2="326.93" y2="370.70" stroke="#555" stroke-width="0.65"/><line x1="326.93" y1="268.90" x2="326.93" y2="270.10" stroke="#555" stroke-width="0.65"/><line x1="333.26" y1="371.90" x2="333.26" y2="370.70" stroke="#555" stroke-width="0.65"/><line x1="333.26" y1="268.90" x2="333.26" y2="270.10" stroke="#555" stroke-width="0.65"/><line x1="212.90" y1="371.90" x2="214.90" y2="371.90" stroke="#555" stroke-width="0.65"/><line x1="339.60" y1="371.90" x2="337.60" y2="371.90" stroke="#555" stroke-width="0.65"/><line x1="212.90" y1="351.30" x2="214.90" y2="351.30" stroke="#555" stroke-width="0.65"/><line x1="339.60" y1="351.30" x2="337.60" y2="351.30" stroke="#555" stroke-width="0.65"/><line x1="212.90" y1="330.70" x2="214.90" y2="330.70" stroke="#555" stroke-width="0.65"/><line x1="339.60" y1="330.70" x2="337.60" y2="330.70" stroke="#555" stroke-width="0.65"/><line x1="212.90" y1="310.10" x2="214.90" y2="310.10" stroke="#555" stroke-width="0.65"/><line x1="339.60" y1="310.10" x2="337.60" y2="310.10" stroke="#555" stroke-width="0.65"/><line x1="212.90" y1="289.50" x2="214.90" y2="289.50" stroke="#555" stroke-width="0.65"/><line x1="339.60" y1="289.50" x2="337.60" y2="289.50" stroke="#555" stroke-width="0.65"/><line x1="212.90" y1="268.90" x2="214.90" y2="268.90" stroke="#555" stroke-width="0.65"/><line x1="339.60" y1="268.90" x2="337.60" y2="268.90" stroke="#555" stroke-width="0.65"/><line x1="212.90" y1="366.75" x2="214.10" y2="366.75" stroke="#555" stroke-width="0.65"/><line x1="339.60" y1="366.75" x2="338.40" y2="366.75" stroke="#555" stroke-width="0.65"/><line x1="212.90" y1="361.60" x2="214.10" y2="361.60" stroke="#555" stroke-width="0.65"/><line x1="339.60" y1="361.60" x2="338.40" y2="361.60" stroke="#555" stroke-width="0.65"/><line x1="212.90" y1="356.45" x2="214.10" y2="356.45" stroke="#555" stroke-width="0.65"/><line x1="339.60" y1="356.45" x2="338.40" y2="356.45" stroke="#555" stroke-width="0.65"/><line x1="212.90" y1="346.15" x2="214.10" y2="346.15" stroke="#555" stroke-width="0.65"/><line x1="339.60" y1="346.15" x2="338.40" y2="346.15" stroke="#555" stroke-width="0.65"/><line x1="212.90" y1="341.00" x2="214.10" y2="341.00" stroke="#555" stroke-width="0.65"/><line x1="339.60" y1="341.00" x2="338.40" y2="341.00" stroke="#555" stroke-width="0.65"/><line x1="212.90" y1="335.85" x2="214.10" y2="335.85" stroke="#555" stroke-width="0.65"/><line x1="339.60" y1="335.85" x2="338.40" y2="335.85" stroke="#555" stroke-width="0.65"/><line x1="212.90" y1="325.55" x2="214.10" y2="325.55" stroke="#555" stroke-width="0.65"/><line x1="339.60" y1="325.55" x2="338.40" y2="325.55" stroke="#555" stroke-width="0.65"/><line x1="212.90" y1="320.40" x2="214.10" y2="320.40" stroke="#555" stroke-width="0.65"/><line x1="339.60" y1="320.40" x2="338.40" y2="320.40" stroke="#555" stroke-width="0.65"/><line x1="212.90" y1="315.25" x2="214.10" y2="315.25" stroke="#555" stroke-width="0.65"/><line x1="339.60" y1="315.25" x2="338.40" y2="315.25" stroke="#555" stroke-width="0.65"/><line x1="212.90" y1="304.95" x2="214.10" y2="304.95" stroke="#555" stroke-width="0.65"/><line x1="339.60" y1="304.95" x2="338.40" y2="304.95" stroke="#555" stroke-width="0.65"/><line x1="212.90" y1="299.80" x2="214.10" y2="299.80" stroke="#555" stroke-width="0.65"/><line x1="339.60" y1="299.80" x2="338.40" y2="299.80" stroke="#555" stroke-width="0.65"/><line x1="212.90" y1="294.65" x2="214.10" y2="294.65" stroke="#555" stroke-width="0.65"/><line x1="339.60" y1="294.65" x2="338.40" y2="294.65" stroke="#555" stroke-width="0.65"/><line x1="212.90" y1="284.35" x2="214.10" y2="284.35" stroke="#555" stroke-width="0.65"/><line x1="339.60" y1="284.35" x2="338.40" y2="284.35" stroke="#555" stroke-width="0.65"/><line x1="212.90" y1="279.20" x2="214.10" y2="279.20" stroke="#555" stroke-width="0.65"/><line x1="339.60" y1="279.20" x2="338.40" y2="279.20" stroke="#555" stroke-width="0.65"/><line x1="212.90" y1="274.05" x2="214.10" y2="274.05" stroke="#555" stroke-width="0.65"/><line x1="339.60" y1="274.05" x2="338.40" y2="274.05" stroke="#555" stroke-width="0.65"/><text x="238.24" y="380.48" font-size="6.4" text-anchor="middle" fill="#222" color="#222" font-weight="bold">200</text><text x="263.58" y="380.48" font-size="6.4" text-anchor="middle" fill="#222" color="#222" font-weight="bold">400</text><text x="288.92" y="380.48" font-size="6.4" text-anchor="middle" fill="#222" color="#222" font-weight="bold">600</text><text x="314.26" y="380.48" font-size="6.4" text-anchor="middle" fill="#222" color="#222" font-weight="bold">800</text><text x="339.60" y="380.48" font-size="6.4" text-anchor="middle" fill="#222" color="#222" font-weight="bold">1000</text><text x="210.30" y="373.88" font-size="6.4" text-anchor="end" fill="#222" color="#222" font-weight="bold">0</text><text x="210.30" y="353.28" font-size="6.4" text-anchor="end" fill="#222" color="#222" font-weight="bold">20</text><text x="210.30" y="332.68" font-size="6.4" text-anchor="end" fill="#222" color="#222" font-weight="bold">40</text><text x="210.30" y="312.08" font-size="6.4" text-anchor="end" fill="#222" color="#222" font-weight="bold">60</text><text x="210.30" y="291.48" font-size="6.4" text-anchor="end" fill="#222" color="#222" font-weight="bold">80</text><text x="210.30" y="270.88" font-size="6.4" text-anchor="end" fill="#222" color="#222" font-weight="bold">100</text><text x="276.25" y="388.74" font-size="6.6" text-anchor="middle" fill="#2a2a2a" color="#2a2a2a" font-weight="bold" class="lb">Iteration</text><text x="195.10" y="322.71" font-size="6.8" text-anchor="middle" fill="#2a2a2a" color="#2a2a2a" font-weight="bold" transform="rotate(-90 195.10 320.40)" class="lb">Percentage</text><text x="276.25" y="267.41" font-size="6.8" text-anchor="middle" fill="#000" color="#000" font-weight="bold">Balance analysis of RIME</text><line x1="401.76" y1="268.80" x2="401.76" y2="371.70" stroke="#e4e4e4" stroke-width="0.6"/><line x1="427.02" y1="268.80" x2="427.02" y2="371.70" stroke="#e4e4e4" stroke-width="0.6"/><line x1="452.28" y1="268.80" x2="452.28" y2="371.70" stroke="#e4e4e4" stroke-width="0.6"/><line x1="477.54" y1="268.80" x2="477.54" y2="371.70" stroke="#e4e4e4" stroke-width="0.6"/><line x1="376.50" y1="347.49" x2="502.80" y2="347.49" stroke="#e4e4e4" stroke-width="0.6"/><line x1="376.50" y1="323.28" x2="502.80" y2="323.28" stroke="#e4e4e4" stroke-width="0.6"/><line x1="376.50" y1="299.06" x2="502.80" y2="299.06" stroke="#e4e4e4" stroke-width="0.6"/><line x1="376.50" y1="274.85" x2="502.80" y2="274.85" stroke="#e4e4e4" stroke-width="0.6"/><line x1="401.76" y1="371.70" x2="401.76" y2="369.70" stroke="#555" stroke-width="0.65"/><line x1="401.76" y1="268.80" x2="401.76" y2="270.80" stroke="#555" stroke-width="0.65"/><line x1="427.02" y1="371.70" x2="427.02" y2="369.70" stroke="#555" stroke-width="0.65"/><line x1="427.02" y1="268.80" x2="427.02" y2="270.80" stroke="#555" stroke-width="0.65"/><line x1="452.28" y1="371.70" x2="452.28" y2="369.70" stroke="#555" stroke-width="0.65"/><line x1="452.28" y1="268.80" x2="452.28" y2="270.80" stroke="#555" stroke-width="0.65"/><line x1="477.54" y1="371.70" x2="477.54" y2="369.70" stroke="#555" stroke-width="0.65"/><line x1="477.54" y1="268.80" x2="477.54" y2="270.80" stroke="#555" stroke-width="0.65"/><line x1="502.80" y1="371.70" x2="502.80" y2="369.70" stroke="#555" stroke-width="0.65"/><line x1="502.80" y1="268.80" x2="502.80" y2="270.80" stroke="#555" stroke-width="0.65"/><line x1="382.81" y1="371.70" x2="382.81" y2="370.50" stroke="#555" stroke-width="0.65"/><line x1="382.81" y1="268.80" x2="382.81" y2="270.00" stroke="#555" stroke-width="0.65"/><line x1="389.13" y1="371.70" x2="389.13" y2="370.50" stroke="#555" stroke-width="0.65"/><line x1="389.13" y1="268.80" x2="389.13" y2="270.00" stroke="#555" stroke-width="0.65"/><line x1="395.44" y1="371.70" x2="395.44" y2="370.50" stroke="#555" stroke-width="0.65"/><line x1="395.44" y1="268.80" x2="395.44" y2="270.00" stroke="#555" stroke-width="0.65"/><line x1="408.07" y1="371.70" x2="408.07" y2="370.50" stroke="#555" stroke-width="0.65"/><line x1="408.07" y1="268.80" x2="408.07" y2="270.00" stroke="#555" stroke-width="0.65"/><line x1="414.39" y1="371.70" x2="414.39" y2="370.50" stroke="#555" stroke-width="0.65"/><line x1="414.39" y1="268.80" x2="414.39" y2="270.00" stroke="#555" stroke-width="0.65"/><line x1="420.70" y1="371.70" x2="420.70" y2="370.50" stroke="#555" stroke-width="0.65"/><line x1="420.70" y1="268.80" x2="420.70" y2="270.00" stroke="#555" stroke-width="0.65"/><line x1="433.34" y1="371.70" x2="433.34" y2="370.50" stroke="#555" stroke-width="0.65"/><line x1="433.34" y1="268.80" x2="433.34" y2="270.00" stroke="#555" stroke-width="0.65"/><line x1="439.65" y1="371.70" x2="439.65" y2="370.50" stroke="#555" stroke-width="0.65"/><line x1="439.65" y1="268.80" x2="439.65" y2="270.00" stroke="#555" stroke-width="0.65"/><line x1="445.97" y1="371.70" x2="445.97" y2="370.50" stroke="#555" stroke-width="0.65"/><line x1="445.97" y1="268.80" x2="445.97" y2="270.00" stroke="#555" stroke-width="0.65"/><line x1="458.60" y1="371.70" x2="458.60" y2="370.50" stroke="#555" stroke-width="0.65"/><line x1="458.60" y1="268.80" x2="458.60" y2="270.00" stroke="#555" stroke-width="0.65"/><line x1="464.91" y1="371.70" x2="464.91" y2="370.50" stroke="#555" stroke-width="0.65"/><line x1="464.91" y1="268.80" x2="464.91" y2="270.00" stroke="#555" stroke-width="0.65"/><line x1="471.23" y1="371.70" x2="471.23" y2="370.50" stroke="#555" stroke-width="0.65"/><line x1="471.23" y1="268.80" x2="471.23" y2="270.00" stroke="#555" stroke-width="0.65"/><line x1="483.86" y1="371.70" x2="483.86" y2="370.50" stroke="#555" stroke-width="0.65"/><line x1="483.86" y1="268.80" x2="483.86" y2="270.00" stroke="#555" stroke-width="0.65"/><line x1="490.17" y1="371.70" x2="490.17" y2="370.50" stroke="#555" stroke-width="0.65"/><line x1="490.17" y1="268.80" x2="490.17" y2="270.00" stroke="#555" stroke-width="0.65"/><line x1="496.49" y1="371.70" x2="496.49" y2="370.50" stroke="#555" stroke-width="0.65"/><line x1="496.49" y1="268.80" x2="496.49" y2="270.00" stroke="#555" stroke-width="0.65"/><line x1="376.50" y1="371.70" x2="378.50" y2="371.70" stroke="#555" stroke-width="0.65"/><line x1="502.80" y1="371.70" x2="500.80" y2="371.70" stroke="#555" stroke-width="0.65"/><line x1="376.50" y1="347.49" x2="378.50" y2="347.49" stroke="#555" stroke-width="0.65"/><line x1="502.80" y1="347.49" x2="500.80" y2="347.49" stroke="#555" stroke-width="0.65"/><line x1="376.50" y1="323.28" x2="378.50" y2="323.28" stroke="#555" stroke-width="0.65"/><line x1="502.80" y1="323.28" x2="500.80" y2="323.28" stroke="#555" stroke-width="0.65"/><line x1="376.50" y1="299.06" x2="378.50" y2="299.06" stroke="#555" stroke-width="0.65"/><line x1="502.80" y1="299.06" x2="500.80" y2="299.06" stroke="#555" stroke-width="0.65"/><line x1="376.50" y1="274.85" x2="378.50" y2="274.85" stroke="#555" stroke-width="0.65"/><line x1="502.80" y1="274.85" x2="500.80" y2="274.85" stroke="#555" stroke-width="0.65"/><line x1="376.50" y1="366.86" x2="377.70" y2="366.86" stroke="#555" stroke-width="0.65"/><line x1="502.80" y1="366.86" x2="501.60" y2="366.86" stroke="#555" stroke-width="0.65"/><line x1="376.50" y1="362.02" x2="377.70" y2="362.02" stroke="#555" stroke-width="0.65"/><line x1="502.80" y1="362.02" x2="501.60" y2="362.02" stroke="#555" stroke-width="0.65"/><line x1="376.50" y1="357.17" x2="377.70" y2="357.17" stroke="#555" stroke-width="0.65"/><line x1="502.80" y1="357.17" x2="501.60" y2="357.17" stroke="#555" stroke-width="0.65"/><line x1="376.50" y1="352.33" x2="377.70" y2="352.33" stroke="#555" stroke-width="0.65"/><line x1="502.80" y1="352.33" x2="501.60" y2="352.33" stroke="#555" stroke-width="0.65"/><line x1="376.50" y1="342.65" x2="377.70" y2="342.65" stroke="#555" stroke-width="0.65"/><line x1="502.80" y1="342.65" x2="501.60" y2="342.65" stroke="#555" stroke-width="0.65"/><line x1="376.50" y1="337.80" x2="377.70" y2="337.80" stroke="#555" stroke-width="0.65"/><line x1="502.80" y1="337.80" x2="501.60" y2="337.80" stroke="#555" stroke-width="0.65"/><line x1="376.50" y1="332.96" x2="377.70" y2="332.96" stroke="#555" stroke-width="0.65"/><line x1="502.80" y1="332.96" x2="501.60" y2="332.96" stroke="#555" stroke-width="0.65"/><line x1="376.50" y1="328.12" x2="377.70" y2="328.12" stroke="#555" stroke-width="0.65"/><line x1="502.80" y1="328.12" x2="501.60" y2="328.12" stroke="#555" stroke-width="0.65"/><line x1="376.50" y1="318.43" x2="377.70" y2="318.43" stroke="#555" stroke-width="0.65"/><line x1="502.80" y1="318.43" x2="501.60" y2="318.43" stroke="#555" stroke-width="0.65"/><line x1="376.50" y1="313.59" x2="377.70" y2="313.59" stroke="#555" stroke-width="0.65"/><line x1="502.80" y1="313.59" x2="501.60" y2="313.59" stroke="#555" stroke-width="0.65"/><line x1="376.50" y1="308.75" x2="377.70" y2="308.75" stroke="#555" stroke-width="0.65"/><line x1="502.80" y1="308.75" x2="501.60" y2="308.75" stroke="#555" stroke-width="0.65"/><line x1="376.50" y1="303.91" x2="377.70" y2="303.91" stroke="#555" stroke-width="0.65"/><line x1="502.80" y1="303.91" x2="501.60" y2="303.91" stroke="#555" stroke-width="0.65"/><line x1="376.50" y1="294.22" x2="377.70" y2="294.22" stroke="#555" stroke-width="0.65"/><line x1="502.80" y1="294.22" x2="501.60" y2="294.22" stroke="#555" stroke-width="0.65"/><line x1="376.50" y1="289.38" x2="377.70" y2="289.38" stroke="#555" stroke-width="0.65"/><line x1="502.80" y1="289.38" x2="501.60" y2="289.38" stroke="#555" stroke-width="0.65"/><line x1="376.50" y1="284.54" x2="377.70" y2="284.54" stroke="#555" stroke-width="0.65"/><line x1="502.80" y1="284.54" x2="501.60" y2="284.54" stroke="#555" stroke-width="0.65"/><line x1="376.50" y1="279.70" x2="377.70" y2="279.70" stroke="#555" stroke-width="0.65"/><line x1="502.80" y1="279.70" x2="501.60" y2="279.70" stroke="#555" stroke-width="0.65"/><line x1="376.50" y1="270.01" x2="377.70" y2="270.01" stroke="#555" stroke-width="0.65"/><line x1="502.80" y1="270.01" x2="501.60" y2="270.01" stroke="#555" stroke-width="0.65"/><text x="401.76" y="380.28" font-size="6.4" text-anchor="middle" fill="#222" color="#222" font-weight="bold">200</text><text x="427.02" y="380.28" font-size="6.4" text-anchor="middle" fill="#222" color="#222" font-weight="bold">400</text><text x="452.28" y="380.28" font-size="6.4" text-anchor="middle" fill="#222" color="#222" font-weight="bold">600</text><text x="477.54" y="380.28" font-size="6.4" text-anchor="middle" fill="#222" color="#222" font-weight="bold">800</text><text x="502.80" y="380.28" font-size="6.4" text-anchor="middle" fill="#222" color="#222" font-weight="bold">1000</text><text x="373.90" y="373.68" font-size="6.4" text-anchor="end" fill="#222" color="#222" font-weight="bold">0</text><text x="373.90" y="349.46" font-size="6.4" text-anchor="end" fill="#222" color="#222" font-weight="bold">100</text><text x="373.90" y="325.25" font-size="6.4" text-anchor="end" fill="#222" color="#222" font-weight="bold">200</text><text x="373.90" y="301.04" font-size="6.4" text-anchor="end" fill="#222" color="#222" font-weight="bold">300</text><text x="373.90" y="276.83" font-size="6.4" text-anchor="end" fill="#222" color="#222" font-weight="bold">400</text><text x="439.65" y="388.54" font-size="6.6" text-anchor="middle" fill="#2a2a2a" color="#2a2a2a" font-weight="bold" class="lb">Iteration</text><text x="358.50" y="322.63" font-size="7.0" text-anchor="middle" fill="#2a2a2a" color="#2a2a2a" font-weight="bold" transform="rotate(-90 358.50 320.25)" class="lb">Average distance between search agent</text><text x="439.65" y="267.31" font-size="6.8" text-anchor="middle" fill="#000" color="#000" font-weight="bold">Algorithm diversity analysis</text><line x1="74.90" y1="400.50" x2="74.90" y2="503.40" stroke="#e4e4e4" stroke-width="0.6"/><line x1="100.30" y1="400.50" x2="100.30" y2="503.40" stroke="#e4e4e4" stroke-width="0.6"/><line x1="125.70" y1="400.50" x2="125.70" y2="503.40" stroke="#e4e4e4" stroke-width="0.6"/><line x1="151.10" y1="400.50" x2="151.10" y2="503.40" stroke="#e4e4e4" stroke-width="0.6"/><line x1="49.50" y1="482.82" x2="176.50" y2="482.82" stroke="#e4e4e4" stroke-width="0.6"/><line x1="49.50" y1="462.24" x2="176.50" y2="462.24" stroke="#e4e4e4" stroke-width="0.6"/><line x1="49.50" y1="441.66" x2="176.50" y2="441.66" stroke="#e4e4e4" stroke-width="0.6"/><line x1="49.50" y1="421.08" x2="176.50" y2="421.08" stroke="#e4e4e4" stroke-width="0.6"/><line x1="74.90" y1="503.40" x2="74.90" y2="501.40" stroke="#555" stroke-width="0.65"/><line x1="74.90" y1="400.50" x2="74.90" y2="402.50" stroke="#555" stroke-width="0.65"/><line x1="100.30" y1="503.40" x2="100.30" y2="501.40" stroke="#555" stroke-width="0.65"/><line x1="100.30" y1="400.50" x2="100.30" y2="402.50" stroke="#555" stroke-width="0.65"/><line x1="125.70" y1="503.40" x2="125.70" y2="501.40" stroke="#555" stroke-width="0.65"/><line x1="125.70" y1="400.50" x2="125.70" y2="402.50" stroke="#555" stroke-width="0.65"/><line x1="151.10" y1="503.40" x2="151.10" y2="501.40" stroke="#555" stroke-width="0.65"/><line x1="151.10" y1="400.50" x2="151.10" y2="402.50" stroke="#555" stroke-width="0.65"/><line x1="176.50" y1="503.40" x2="176.50" y2="501.40" stroke="#555" stroke-width="0.65"/><line x1="176.50" y1="400.50" x2="176.50" y2="402.50" stroke="#555" stroke-width="0.65"/><line x1="55.85" y1="503.40" x2="55.85" y2="502.20" stroke="#555" stroke-width="0.65"/><line x1="55.85" y1="400.50" x2="55.85" y2="401.70" stroke="#555" stroke-width="0.65"/><line x1="62.20" y1="503.40" x2="62.20" y2="502.20" stroke="#555" stroke-width="0.65"/><line x1="62.20" y1="400.50" x2="62.20" y2="401.70" stroke="#555" stroke-width="0.65"/><line x1="68.55" y1="503.40" x2="68.55" y2="502.20" stroke="#555" stroke-width="0.65"/><line x1="68.55" y1="400.50" x2="68.55" y2="401.70" stroke="#555" stroke-width="0.65"/><line x1="81.25" y1="503.40" x2="81.25" y2="502.20" stroke="#555" stroke-width="0.65"/><line x1="81.25" y1="400.50" x2="81.25" y2="401.70" stroke="#555" stroke-width="0.65"/><line x1="87.60" y1="503.40" x2="87.60" y2="502.20" stroke="#555" stroke-width="0.65"/><line x1="87.60" y1="400.50" x2="87.60" y2="401.70" stroke="#555" stroke-width="0.65"/><line x1="93.95" y1="503.40" x2="93.95" y2="502.20" stroke="#555" stroke-width="0.65"/><line x1="93.95" y1="400.50" x2="93.95" y2="401.70" stroke="#555" stroke-width="0.65"/><line x1="106.65" y1="503.40" x2="106.65" y2="502.20" stroke="#555" stroke-width="0.65"/><line x1="106.65" y1="400.50" x2="106.65" y2="401.70" stroke="#555" stroke-width="0.65"/><line x1="113.00" y1="503.40" x2="113.00" y2="502.20" stroke="#555" stroke-width="0.65"/><line x1="113.00" y1="400.50" x2="113.00" y2="401.70" stroke="#555" stroke-width="0.65"/><line x1="119.35" y1="503.40" x2="119.35" y2="502.20" stroke="#555" stroke-width="0.65"/><line x1="119.35" y1="400.50" x2="119.35" y2="401.70" stroke="#555" stroke-width="0.65"/><line x1="132.05" y1="503.40" x2="132.05" y2="502.20" stroke="#555" stroke-width="0.65"/><line x1="132.05" y1="400.50" x2="132.05" y2="401.70" stroke="#555" stroke-width="0.65"/><line x1="138.40" y1="503.40" x2="138.40" y2="502.20" stroke="#555" stroke-width="0.65"/><line x1="138.40" y1="400.50" x2="138.40" y2="401.70" stroke="#555" stroke-width="0.65"/><line x1="144.75" y1="503.40" x2="144.75" y2="502.20" stroke="#555" stroke-width="0.65"/><line x1="144.75" y1="400.50" x2="144.75" y2="401.70" stroke="#555" stroke-width="0.65"/><line x1="157.45" y1="503.40" x2="157.45" y2="502.20" stroke="#555" stroke-width="0.65"/><line x1="157.45" y1="400.50" x2="157.45" y2="401.70" stroke="#555" stroke-width="0.65"/><line x1="163.80" y1="503.40" x2="163.80" y2="502.20" stroke="#555" stroke-width="0.65"/><line x1="163.80" y1="400.50" x2="163.80" y2="401.70" stroke="#555" stroke-width="0.65"/><line x1="170.15" y1="503.40" x2="170.15" y2="502.20" stroke="#555" stroke-width="0.65"/><line x1="170.15" y1="400.50" x2="170.15" y2="401.70" stroke="#555" stroke-width="0.65"/><line x1="49.50" y1="503.40" x2="51.50" y2="503.40" stroke="#555" stroke-width="0.65"/><line x1="176.50" y1="503.40" x2="174.50" y2="503.40" stroke="#555" stroke-width="0.65"/><line x1="49.50" y1="482.82" x2="51.50" y2="482.82" stroke="#555" stroke-width="0.65"/><line x1="176.50" y1="482.82" x2="174.50" y2="482.82" stroke="#555" stroke-width="0.65"/><line x1="49.50" y1="462.24" x2="51.50" y2="462.24" stroke="#555" stroke-width="0.65"/><line x1="176.50" y1="462.24" x2="174.50" y2="462.24" stroke="#555" stroke-width="0.65"/><line x1="49.50" y1="441.66" x2="51.50" y2="441.66" stroke="#555" stroke-width="0.65"/><line x1="176.50" y1="441.66" x2="174.50" y2="441.66" stroke="#555" stroke-width="0.65"/><line x1="49.50" y1="421.08" x2="51.50" y2="421.08" stroke="#555" stroke-width="0.65"/><line x1="176.50" y1="421.08" x2="174.50" y2="421.08" stroke="#555" stroke-width="0.65"/><line x1="49.50" y1="400.50" x2="51.50" y2="400.50" stroke="#555" stroke-width="0.65"/><line x1="176.50" y1="400.50" x2="174.50" y2="400.50" stroke="#555" stroke-width="0.65"/><line x1="49.50" y1="498.25" x2="50.70" y2="498.25" stroke="#555" stroke-width="0.65"/><line x1="176.50" y1="498.25" x2="175.30" y2="498.25" stroke="#555" stroke-width="0.65"/><line x1="49.50" y1="493.11" x2="50.70" y2="493.11" stroke="#555" stroke-width="0.65"/><line x1="176.50" y1="493.11" x2="175.30" y2="493.11" stroke="#555" stroke-width="0.65"/><line x1="49.50" y1="487.96" x2="50.70" y2="487.96" stroke="#555" stroke-width="0.65"/><line x1="176.50" y1="487.96" x2="175.30" y2="487.96" stroke="#555" stroke-width="0.65"/><line x1="49.50" y1="477.67" x2="50.70" y2="477.67" stroke="#555" stroke-width="0.65"/><line x1="176.50" y1="477.67" x2="175.30" y2="477.67" stroke="#555" stroke-width="0.65"/><line x1="49.50" y1="472.53" x2="50.70" y2="472.53" stroke="#555" stroke-width="0.65"/><line x1="176.50" y1="472.53" x2="175.30" y2="472.53" stroke="#555" stroke-width="0.65"/><line x1="49.50" y1="467.38" x2="50.70" y2="467.38" stroke="#555" stroke-width="0.65"/><line x1="176.50" y1="467.38" x2="175.30" y2="467.38" stroke="#555" stroke-width="0.65"/><line x1="49.50" y1="457.09" x2="50.70" y2="457.09" stroke="#555" stroke-width="0.65"/><line x1="176.50" y1="457.09" x2="175.30" y2="457.09" stroke="#555" stroke-width="0.65"/><line x1="49.50" y1="451.95" x2="50.70" y2="451.95" stroke="#555" stroke-width="0.65"/><line x1="176.50" y1="451.95" x2="175.30" y2="451.95" stroke="#555" stroke-width="0.65"/><line x1="49.50" y1="446.81" x2="50.70" y2="446.81" stroke="#555" stroke-width="0.65"/><line x1="176.50" y1="446.81" x2="175.30" y2="446.81" stroke="#555" stroke-width="0.65"/><line x1="49.50" y1="436.51" x2="50.70" y2="436.51" stroke="#555" stroke-width="0.65"/><line x1="176.50" y1="436.51" x2="175.30" y2="436.51" stroke="#555" stroke-width="0.65"/><line x1="49.50" y1="431.37" x2="50.70" y2="431.37" stroke="#555" stroke-width="0.65"/><line x1="176.50" y1="431.37" x2="175.30" y2="431.37" stroke="#555" stroke-width="0.65"/><line x1="49.50" y1="426.23" x2="50.70" y2="426.23" stroke="#555" stroke-width="0.65"/><line x1="176.50" y1="426.23" x2="175.30" y2="426.23" stroke="#555" stroke-width="0.65"/><line x1="49.50" y1="415.94" x2="50.70" y2="415.94" stroke="#555" stroke-width="0.65"/><line x1="176.50" y1="415.94" x2="175.30" y2="415.94" stroke="#555" stroke-width="0.65"/><line x1="49.50" y1="410.79" x2="50.70" y2="410.79" stroke="#555" stroke-width="0.65"/><line x1="176.50" y1="410.79" x2="175.30" y2="410.79" stroke="#555" stroke-width="0.65"/><line x1="49.50" y1="405.64" x2="50.70" y2="405.64" stroke="#555" stroke-width="0.65"/><line x1="176.50" y1="405.64" x2="175.30" y2="405.64" stroke="#555" stroke-width="0.65"/><text x="74.90" y="511.98" font-size="6.4" text-anchor="middle" fill="#222" color="#222" font-weight="bold">200</text><text x="100.30" y="511.98" font-size="6.4" text-anchor="middle" fill="#222" color="#222" font-weight="bold">400</text><text x="125.70" y="511.98" font-size="6.4" text-anchor="middle" fill="#222" color="#222" font-weight="bold">600</text><text x="151.10" y="511.98" font-size="6.4" text-anchor="middle" fill="#222" color="#222" font-weight="bold">800</text><text x="176.50" y="511.98" font-size="6.4" text-anchor="middle" fill="#222" color="#222" font-weight="bold">1000</text><text x="46.90" y="505.38" font-size="6.4" text-anchor="end" fill="#222" color="#222" font-weight="bold">0</text><text x="46.90" y="484.80" font-size="6.4" text-anchor="end" fill="#222" color="#222" font-weight="bold">20</text><text x="46.90" y="464.22" font-size="6.4" text-anchor="end" fill="#222" color="#222" font-weight="bold">40</text><text x="46.90" y="443.64" font-size="6.4" text-anchor="end" fill="#222" color="#222" font-weight="bold">60</text><text x="46.90" y="423.06" font-size="6.4" text-anchor="end" fill="#222" color="#222" font-weight="bold">80</text><text x="46.90" y="402.48" font-size="6.4" text-anchor="end" fill="#222" color="#222" font-weight="bold">100</text><text x="113.00" y="520.24" font-size="6.6" text-anchor="middle" fill="#2a2a2a" color="#2a2a2a" font-weight="bold" class="lb">Iteration</text><text x="31.70" y="454.26" font-size="6.8" text-anchor="middle" fill="#2a2a2a" color="#2a2a2a" font-weight="bold" transform="rotate(-90 31.70 451.95)" class="lb">Percentage</text><text x="113.00" y="399.01" font-size="6.8" text-anchor="middle" fill="#000" color="#000" font-weight="bold">Balance analysis of DNMRIME</text><line x1="238.24" y1="399.70" x2="238.24" y2="502.60" stroke="#e4e4e4" stroke-width="0.6"/><line x1="263.58" y1="399.70" x2="263.58" y2="502.60" stroke="#e4e4e4" stroke-width="0.6"/><line x1="288.92" y1="399.70" x2="288.92" y2="502.60" stroke="#e4e4e4" stroke-width="0.6"/><line x1="314.26" y1="399.70" x2="314.26" y2="502.60" stroke="#e4e4e4" stroke-width="0.6"/><line x1="212.90" y1="482.02" x2="339.60" y2="482.02" stroke="#e4e4e4" stroke-width="0.6"/><line x1="212.90" y1="461.44" x2="339.60" y2="461.44" stroke="#e4e4e4" stroke-width="0.6"/><line x1="212.90" y1="440.86" x2="339.60" y2="440.86" stroke="#e4e4e4" stroke-width="0.6"/><line x1="212.90" y1="420.28" x2="339.60" y2="420.28" stroke="#e4e4e4" stroke-width="0.6"/><line x1="238.24" y1="502.60" x2="238.24" y2="500.60" stroke="#555" stroke-width="0.65"/><line x1="238.24" y1="399.70" x2="238.24" y2="401.70" stroke="#555" stroke-width="0.65"/><line x1="263.58" y1="502.60" x2="263.58" y2="500.60" stroke="#555" stroke-width="0.65"/><line x1="263.58" y1="399.70" x2="263.58" y2="401.70" stroke="#555" stroke-width="0.65"/><line x1="288.92" y1="502.60" x2="288.92" y2="500.60" stroke="#555" stroke-width="0.65"/><line x1="288.92" y1="399.70" x2="288.92" y2="401.70" stroke="#555" stroke-width="0.65"/><line x1="314.26" y1="502.60" x2="314.26" y2="500.60" stroke="#555" stroke-width="0.65"/><line x1="314.26" y1="399.70" x2="314.26" y2="401.70" stroke="#555" stroke-width="0.65"/><line x1="339.60" y1="502.60" x2="339.60" y2="500.60" stroke="#555" stroke-width="0.65"/><line x1="339.60" y1="399.70" x2="339.60" y2="401.70" stroke="#555" stroke-width="0.65"/><line x1="219.24" y1="502.60" x2="219.24" y2="501.40" stroke="#555" stroke-width="0.65"/><line x1="219.24" y1="399.70" x2="219.24" y2="400.90" stroke="#555" stroke-width="0.65"/><line x1="225.57" y1="502.60" x2="225.57" y2="501.40" stroke="#555" stroke-width="0.65"/><line x1="225.57" y1="399.70" x2="225.57" y2="400.90" stroke="#555" stroke-width="0.65"/><line x1="231.91" y1="502.60" x2="231.91" y2="501.40" stroke="#555" stroke-width="0.65"/><line x1="231.91" y1="399.70" x2="231.91" y2="400.90" stroke="#555" stroke-width="0.65"/><line x1="244.58" y1="502.60" x2="244.58" y2="501.40" stroke="#555" stroke-width="0.65"/><line x1="244.58" y1="399.70" x2="244.58" y2="400.90" stroke="#555" stroke-width="0.65"/><line x1="250.91" y1="502.60" x2="250.91" y2="501.40" stroke="#555" stroke-width="0.65"/><line x1="250.91" y1="399.70" x2="250.91" y2="400.90" stroke="#555" stroke-width="0.65"/><line x1="257.25" y1="502.60" x2="257.25" y2="501.40" stroke="#555" stroke-width="0.65"/><line x1="257.25" y1="399.70" x2="257.25" y2="400.90" stroke="#555" stroke-width="0.65"/><line x1="269.92" y1="502.60" x2="269.92" y2="501.40" stroke="#555" stroke-width="0.65"/><line x1="269.92" y1="399.70" x2="269.92" y2="400.90" stroke="#555" stroke-width="0.65"/><line x1="276.25" y1="502.60" x2="276.25" y2="501.40" stroke="#555" stroke-width="0.65"/><line x1="276.25" y1="399.70" x2="276.25" y2="400.90" stroke="#555" stroke-width="0.65"/><line x1="282.59" y1="502.60" x2="282.59" y2="501.40" stroke="#555" stroke-width="0.65"/><line x1="282.59" y1="399.70" x2="282.59" y2="400.90" stroke="#555" stroke-width="0.65"/><line x1="295.25" y1="502.60" x2="295.25" y2="501.40" stroke="#555" stroke-width="0.65"/><line x1="295.25" y1="399.70" x2="295.25" y2="400.90" stroke="#555" stroke-width="0.65"/><line x1="301.59" y1="502.60" x2="301.59" y2="501.40" stroke="#555" stroke-width="0.65"/><line x1="301.59" y1="399.70" x2="301.59" y2="400.90" stroke="#555" stroke-width="0.65"/><line x1="307.93" y1="502.60" x2="307.93" y2="501.40" stroke="#555" stroke-width="0.65"/><line x1="307.93" y1="399.70" x2="307.93" y2="400.90" stroke="#555" stroke-width="0.65"/><line x1="320.60" y1="502.60" x2="320.60" y2="501.40" stroke="#555" stroke-width="0.65"/><line x1="320.60" y1="399.70" x2="320.60" y2="400.90" stroke="#555" stroke-width="0.65"/><line x1="326.93" y1="502.60" x2="326.93" y2="501.40" stroke="#555" stroke-width="0.65"/><line x1="326.93" y1="399.70" x2="326.93" y2="400.90" stroke="#555" stroke-width="0.65"/><line x1="333.26" y1="502.60" x2="333.26" y2="501.40" stroke="#555" stroke-width="0.65"/><line x1="333.26" y1="399.70" x2="333.26" y2="400.90" stroke="#555" stroke-width="0.65"/><line x1="212.90" y1="502.60" x2="214.90" y2="502.60" stroke="#555" stroke-width="0.65"/><line x1="339.60" y1="502.60" x2="337.60" y2="502.60" stroke="#555" stroke-width="0.65"/><line x1="212.90" y1="482.02" x2="214.90" y2="482.02" stroke="#555" stroke-width="0.65"/><line x1="339.60" y1="482.02" x2="337.60" y2="482.02" stroke="#555" stroke-width="0.65"/><line x1="212.90" y1="461.44" x2="214.90" y2="461.44" stroke="#555" stroke-width="0.65"/><line x1="339.60" y1="461.44" x2="337.60" y2="461.44" stroke="#555" stroke-width="0.65"/><line x1="212.90" y1="440.86" x2="214.90" y2="440.86" stroke="#555" stroke-width="0.65"/><line x1="339.60" y1="440.86" x2="337.60" y2="440.86" stroke="#555" stroke-width="0.65"/><line x1="212.90" y1="420.28" x2="214.90" y2="420.28" stroke="#555" stroke-width="0.65"/><line x1="339.60" y1="420.28" x2="337.60" y2="420.28" stroke="#555" stroke-width="0.65"/><line x1="212.90" y1="399.70" x2="214.90" y2="399.70" stroke="#555" stroke-width="0.65"/><line x1="339.60" y1="399.70" x2="337.60" y2="399.70" stroke="#555" stroke-width="0.65"/><line x1="212.90" y1="497.46" x2="214.10" y2="497.46" stroke="#555" stroke-width="0.65"/><line x1="339.60" y1="497.46" x2="338.40" y2="497.46" stroke="#555" stroke-width="0.65"/><line x1="212.90" y1="492.31" x2="214.10" y2="492.31" stroke="#555" stroke-width="0.65"/><line x1="339.60" y1="492.31" x2="338.40" y2="492.31" stroke="#555" stroke-width="0.65"/><line x1="212.90" y1="487.17" x2="214.10" y2="487.17" stroke="#555" stroke-width="0.65"/><line x1="339.60" y1="487.17" x2="338.40" y2="487.17" stroke="#555" stroke-width="0.65"/><line x1="212.90" y1="476.88" x2="214.10" y2="476.88" stroke="#555" stroke-width="0.65"/><line x1="339.60" y1="476.88" x2="338.40" y2="476.88" stroke="#555" stroke-width="0.65"/><line x1="212.90" y1="471.73" x2="214.10" y2="471.73" stroke="#555" stroke-width="0.65"/><line x1="339.60" y1="471.73" x2="338.40" y2="471.73" stroke="#555" stroke-width="0.65"/><line x1="212.90" y1="466.59" x2="214.10" y2="466.59" stroke="#555" stroke-width="0.65"/><line x1="339.60" y1="466.59" x2="338.40" y2="466.59" stroke="#555" stroke-width="0.65"/><line x1="212.90" y1="456.30" x2="214.10" y2="456.30" stroke="#555" stroke-width="0.65"/><line x1="339.60" y1="456.30" x2="338.40" y2="456.30" stroke="#555" stroke-width="0.65"/><line x1="212.90" y1="451.15" x2="214.10" y2="451.15" stroke="#555" stroke-width="0.65"/><line x1="339.60" y1="451.15" x2="338.40" y2="451.15" stroke="#555" stroke-width="0.65"/><line x1="212.90" y1="446.00" x2="214.10" y2="446.00" stroke="#555" stroke-width="0.65"/><line x1="339.60" y1="446.00" x2="338.40" y2="446.00" stroke="#555" stroke-width="0.65"/><line x1="212.90" y1="435.72" x2="214.10" y2="435.72" stroke="#555" stroke-width="0.65"/><line x1="339.60" y1="435.72" x2="338.40" y2="435.72" stroke="#555" stroke-width="0.65"/><line x1="212.90" y1="430.57" x2="214.10" y2="430.57" stroke="#555" stroke-width="0.65"/><line x1="339.60" y1="430.57" x2="338.40" y2="430.57" stroke="#555" stroke-width="0.65"/><line x1="212.90" y1="425.43" x2="214.10" y2="425.43" stroke="#555" stroke-width="0.65"/><line x1="339.60" y1="425.43" x2="338.40" y2="425.43" stroke="#555" stroke-width="0.65"/><line x1="212.90" y1="415.13" x2="214.10" y2="415.13" stroke="#555" stroke-width="0.65"/><line x1="339.60" y1="415.13" x2="338.40" y2="415.13" stroke="#555" stroke-width="0.65"/><line x1="212.90" y1="409.99" x2="214.10" y2="409.99" stroke="#555" stroke-width="0.65"/><line x1="339.60" y1="409.99" x2="338.40" y2="409.99" stroke="#555" stroke-width="0.65"/><line x1="212.90" y1="404.85" x2="214.10" y2="404.85" stroke="#555" stroke-width="0.65"/><line x1="339.60" y1="404.85" x2="338.40" y2="404.85" stroke="#555" stroke-width="0.65"/><text x="238.24" y="511.18" font-size="6.4" text-anchor="middle" fill="#222" color="#222" font-weight="bold">200</text><text x="263.58" y="511.18" font-size="6.4" text-anchor="middle" fill="#222" color="#222" font-weight="bold">400</text><text x="288.92" y="511.18" font-size="6.4" text-anchor="middle" fill="#222" color="#222" font-weight="bold">600</text><text x="314.26" y="511.18" font-size="6.4" text-anchor="middle" fill="#222" color="#222" font-weight="bold">800</text><text x="339.60" y="511.18" font-size="6.4" text-anchor="middle" fill="#222" color="#222" font-weight="bold">1000</text><text x="210.30" y="504.58" font-size="6.4" text-anchor="end" fill="#222" color="#222" font-weight="bold">0</text><text x="210.30" y="484.00" font-size="6.4" text-anchor="end" fill="#222" color="#222" font-weight="bold">20</text><text x="210.30" y="463.42" font-size="6.4" text-anchor="end" fill="#222" color="#222" font-weight="bold">40</text><text x="210.30" y="442.84" font-size="6.4" text-anchor="end" fill="#222" color="#222" font-weight="bold">60</text><text x="210.30" y="422.26" font-size="6.4" text-anchor="end" fill="#222" color="#222" font-weight="bold">80</text><text x="210.30" y="401.68" font-size="6.4" text-anchor="end" fill="#222" color="#222" font-weight="bold">100</text><text x="276.25" y="519.44" font-size="6.6" text-anchor="middle" fill="#2a2a2a" color="#2a2a2a" font-weight="bold" class="lb">Iteration</text><text x="195.10" y="453.46" font-size="6.8" text-anchor="middle" fill="#2a2a2a" color="#2a2a2a" font-weight="bold" transform="rotate(-90 195.10 451.15)" class="lb">Percentage</text><text x="276.25" y="398.21" font-size="6.8" text-anchor="middle" fill="#000" color="#000" font-weight="bold">Balance analysis of RIME</text><line x1="401.76" y1="399.20" x2="401.76" y2="501.90" stroke="#e4e4e4" stroke-width="0.6"/><line x1="427.02" y1="399.20" x2="427.02" y2="501.90" stroke="#e4e4e4" stroke-width="0.6"/><line x1="452.28" y1="399.20" x2="452.28" y2="501.90" stroke="#e4e4e4" stroke-width="0.6"/><line x1="477.54" y1="399.20" x2="477.54" y2="501.90" stroke="#e4e4e4" stroke-width="0.6"/><line x1="376.50" y1="478.27" x2="502.80" y2="478.27" stroke="#e4e4e4" stroke-width="0.6"/><line x1="376.50" y1="454.64" x2="502.80" y2="454.64" stroke="#e4e4e4" stroke-width="0.6"/><line x1="376.50" y1="431.01" x2="502.80" y2="431.01" stroke="#e4e4e4" stroke-width="0.6"/><line x1="376.50" y1="407.38" x2="502.80" y2="407.38" stroke="#e4e4e4" stroke-width="0.6"/><line x1="401.76" y1="501.90" x2="401.76" y2="499.90" stroke="#555" stroke-width="0.65"/><line x1="401.76" y1="399.20" x2="401.76" y2="401.20" stroke="#555" stroke-width="0.65"/><line x1="427.02" y1="501.90" x2="427.02" y2="499.90" stroke="#555" stroke-width="0.65"/><line x1="427.02" y1="399.20" x2="427.02" y2="401.20" stroke="#555" stroke-width="0.65"/><line x1="452.28" y1="501.90" x2="452.28" y2="499.90" stroke="#555" stroke-width="0.65"/><line x1="452.28" y1="399.20" x2="452.28" y2="401.20" stroke="#555" stroke-width="0.65"/><line x1="477.54" y1="501.90" x2="477.54" y2="499.90" stroke="#555" stroke-width="0.65"/><line x1="477.54" y1="399.20" x2="477.54" y2="401.20" stroke="#555" stroke-width="0.65"/><line x1="502.80" y1="501.90" x2="502.80" y2="499.90" stroke="#555" stroke-width="0.65"/><line x1="502.80" y1="399.20" x2="502.80" y2="401.20" stroke="#555" stroke-width="0.65"/><line x1="382.81" y1="501.90" x2="382.81" y2="500.70" stroke="#555" stroke-width="0.65"/><line x1="382.81" y1="399.20" x2="382.81" y2="400.40" stroke="#555" stroke-width="0.65"/><line x1="389.13" y1="501.90" x2="389.13" y2="500.70" stroke="#555" stroke-width="0.65"/><line x1="389.13" y1="399.20" x2="389.13" y2="400.40" stroke="#555" stroke-width="0.65"/><line x1="395.44" y1="501.90" x2="395.44" y2="500.70" stroke="#555" stroke-width="0.65"/><line x1="395.44" y1="399.20" x2="395.44" y2="400.40" stroke="#555" stroke-width="0.65"/><line x1="408.07" y1="501.90" x2="408.07" y2="500.70" stroke="#555" stroke-width="0.65"/><line x1="408.07" y1="399.20" x2="408.07" y2="400.40" stroke="#555" stroke-width="0.65"/><line x1="414.39" y1="501.90" x2="414.39" y2="500.70" stroke="#555" stroke-width="0.65"/><line x1="414.39" y1="399.20" x2="414.39" y2="400.40" stroke="#555" stroke-width="0.65"/><line x1="420.70" y1="501.90" x2="420.70" y2="500.70" stroke="#555" stroke-width="0.65"/><line x1="420.70" y1="399.20" x2="420.70" y2="400.40" stroke="#555" stroke-width="0.65"/><line x1="433.34" y1="501.90" x2="433.34" y2="500.70" stroke="#555" stroke-width="0.65"/><line x1="433.34" y1="399.20" x2="433.34" y2="400.40" stroke="#555" stroke-width="0.65"/><line x1="439.65" y1="501.90" x2="439.65" y2="500.70" stroke="#555" stroke-width="0.65"/><line x1="439.65" y1="399.20" x2="439.65" y2="400.40" stroke="#555" stroke-width="0.65"/><line x1="445.97" y1="501.90" x2="445.97" y2="500.70" stroke="#555" stroke-width="0.65"/><line x1="445.97" y1="399.20" x2="445.97" y2="400.40" stroke="#555" stroke-width="0.65"/><line x1="458.60" y1="501.90" x2="458.60" y2="500.70" stroke="#555" stroke-width="0.65"/><line x1="458.60" y1="399.20" x2="458.60" y2="400.40" stroke="#555" stroke-width="0.65"/><line x1="464.91" y1="501.90" x2="464.91" y2="500.70" stroke="#555" stroke-width="0.65"/><line x1="464.91" y1="399.20" x2="464.91" y2="400.40" stroke="#555" stroke-width="0.65"/><line x1="471.23" y1="501.90" x2="471.23" y2="500.70" stroke="#555" stroke-width="0.65"/><line x1="471.23" y1="399.20" x2="471.23" y2="400.40" stroke="#555" stroke-width="0.65"/><line x1="483.86" y1="501.90" x2="483.86" y2="500.70" stroke="#555" stroke-width="0.65"/><line x1="483.86" y1="399.20" x2="483.86" y2="400.40" stroke="#555" stroke-width="0.65"/><line x1="490.17" y1="501.90" x2="490.17" y2="500.70" stroke="#555" stroke-width="0.65"/><line x1="490.17" y1="399.20" x2="490.17" y2="400.40" stroke="#555" stroke-width="0.65"/><line x1="496.49" y1="501.90" x2="496.49" y2="500.70" stroke="#555" stroke-width="0.65"/><line x1="496.49" y1="399.20" x2="496.49" y2="400.40" stroke="#555" stroke-width="0.65"/><line x1="376.50" y1="501.90" x2="378.50" y2="501.90" stroke="#555" stroke-width="0.65"/><line x1="502.80" y1="501.90" x2="500.80" y2="501.90" stroke="#555" stroke-width="0.65"/><line x1="376.50" y1="478.27" x2="378.50" y2="478.27" stroke="#555" stroke-width="0.65"/><line x1="502.80" y1="478.27" x2="500.80" y2="478.27" stroke="#555" stroke-width="0.65"/><line x1="376.50" y1="454.64" x2="378.50" y2="454.64" stroke="#555" stroke-width="0.65"/><line x1="502.80" y1="454.64" x2="500.80" y2="454.64" stroke="#555" stroke-width="0.65"/><line x1="376.50" y1="431.01" x2="378.50" y2="431.01" stroke="#555" stroke-width="0.65"/><line x1="502.80" y1="431.01" x2="500.80" y2="431.01" stroke="#555" stroke-width="0.65"/><line x1="376.50" y1="407.38" x2="378.50" y2="407.38" stroke="#555" stroke-width="0.65"/><line x1="502.80" y1="407.38" x2="500.80" y2="407.38" stroke="#555" stroke-width="0.65"/><line x1="376.50" y1="497.17" x2="377.70" y2="497.17" stroke="#555" stroke-width="0.65"/><line x1="502.80" y1="497.17" x2="501.60" y2="497.17" stroke="#555" stroke-width="0.65"/><line x1="376.50" y1="492.45" x2="377.70" y2="492.45" stroke="#555" stroke-width="0.65"/><line x1="502.80" y1="492.45" x2="501.60" y2="492.45" stroke="#555" stroke-width="0.65"/><line x1="376.50" y1="487.72" x2="377.70" y2="487.72" stroke="#555" stroke-width="0.65"/><line x1="502.80" y1="487.72" x2="501.60" y2="487.72" stroke="#555" stroke-width="0.65"/><line x1="376.50" y1="483.00" x2="377.70" y2="483.00" stroke="#555" stroke-width="0.65"/><line x1="502.80" y1="483.00" x2="501.60" y2="483.00" stroke="#555" stroke-width="0.65"/><line x1="376.50" y1="473.54" x2="377.70" y2="473.54" stroke="#555" stroke-width="0.65"/><line x1="502.80" y1="473.54" x2="501.60" y2="473.54" stroke="#555" stroke-width="0.65"/><line x1="376.50" y1="468.82" x2="377.70" y2="468.82" stroke="#555" stroke-width="0.65"/><line x1="502.80" y1="468.82" x2="501.60" y2="468.82" stroke="#555" stroke-width="0.65"/><line x1="376.50" y1="464.09" x2="377.70" y2="464.09" stroke="#555" stroke-width="0.65"/><line x1="502.80" y1="464.09" x2="501.60" y2="464.09" stroke="#555" stroke-width="0.65"/><line x1="376.50" y1="459.36" x2="377.70" y2="459.36" stroke="#555" stroke-width="0.65"/><line x1="502.80" y1="459.36" x2="501.60" y2="459.36" stroke="#555" stroke-width="0.65"/><line x1="376.50" y1="449.91" x2="377.70" y2="449.91" stroke="#555" stroke-width="0.65"/><line x1="502.80" y1="449.91" x2="501.60" y2="449.91" stroke="#555" stroke-width="0.65"/><line x1="376.50" y1="445.19" x2="377.70" y2="445.19" stroke="#555" stroke-width="0.65"/><line x1="502.80" y1="445.19" x2="501.60" y2="445.19" stroke="#555" stroke-width="0.65"/><line x1="376.50" y1="440.46" x2="377.70" y2="440.46" stroke="#555" stroke-width="0.65"/><line x1="502.80" y1="440.46" x2="501.60" y2="440.46" stroke="#555" stroke-width="0.65"/><line x1="376.50" y1="435.73" x2="377.70" y2="435.73" stroke="#555" stroke-width="0.65"/><line x1="502.80" y1="435.73" x2="501.60" y2="435.73" stroke="#555" stroke-width="0.65"/><line x1="376.50" y1="426.28" x2="377.70" y2="426.28" stroke="#555" stroke-width="0.65"/><line x1="502.80" y1="426.28" x2="501.60" y2="426.28" stroke="#555" stroke-width="0.65"/><line x1="376.50" y1="421.55" x2="377.70" y2="421.55" stroke="#555" stroke-width="0.65"/><line x1="502.80" y1="421.55" x2="501.60" y2="421.55" stroke="#555" stroke-width="0.65"/><line x1="376.50" y1="416.83" x2="377.70" y2="416.83" stroke="#555" stroke-width="0.65"/><line x1="502.80" y1="416.83" x2="501.60" y2="416.83" stroke="#555" stroke-width="0.65"/><line x1="376.50" y1="412.10" x2="377.70" y2="412.10" stroke="#555" stroke-width="0.65"/><line x1="502.80" y1="412.10" x2="501.60" y2="412.10" stroke="#555" stroke-width="0.65"/><line x1="376.50" y1="402.65" x2="377.70" y2="402.65" stroke="#555" stroke-width="0.65"/><line x1="502.80" y1="402.65" x2="501.60" y2="402.65" stroke="#555" stroke-width="0.65"/><text x="401.76" y="510.48" font-size="6.4" text-anchor="middle" fill="#222" color="#222" font-weight="bold">200</text><text x="427.02" y="510.48" font-size="6.4" text-anchor="middle" fill="#222" color="#222" font-weight="bold">400</text><text x="452.28" y="510.48" font-size="6.4" text-anchor="middle" fill="#222" color="#222" font-weight="bold">600</text><text x="477.54" y="510.48" font-size="6.4" text-anchor="middle" fill="#222" color="#222" font-weight="bold">800</text><text x="502.80" y="510.48" font-size="6.4" text-anchor="middle" fill="#222" color="#222" font-weight="bold">1000</text><text x="373.90" y="503.88" font-size="6.4" text-anchor="end" fill="#222" color="#222" font-weight="bold">0</text><text x="373.90" y="480.25" font-size="6.4" text-anchor="end" fill="#222" color="#222" font-weight="bold">100</text><text x="373.90" y="456.61" font-size="6.4" text-anchor="end" fill="#222" color="#222" font-weight="bold">200</text><text x="373.90" y="432.98" font-size="6.4" text-anchor="end" fill="#222" color="#222" font-weight="bold">300</text><text x="373.90" y="409.35" font-size="6.4" text-anchor="end" fill="#222" color="#222" font-weight="bold">400</text><text x="439.65" y="518.74" font-size="6.6" text-anchor="middle" fill="#2a2a2a" color="#2a2a2a" font-weight="bold" class="lb">Iteration</text><text x="358.50" y="452.93" font-size="7.0" text-anchor="middle" fill="#2a2a2a" color="#2a2a2a" font-weight="bold" transform="rotate(-90 358.50 450.55)" class="lb">Average distance between search agent</text><text x="439.65" y="397.71" font-size="6.8" text-anchor="middle" fill="#000" color="#000" font-weight="bold">Algorithm diversity analysis</text><line x1="74.90" y1="529.40" x2="74.90" y2="632.40" stroke="#e4e4e4" stroke-width="0.6"/><line x1="100.30" y1="529.40" x2="100.30" y2="632.40" stroke="#e4e4e4" stroke-width="0.6"/><line x1="125.70" y1="529.40" x2="125.70" y2="632.40" stroke="#e4e4e4" stroke-width="0.6"/><line x1="151.10" y1="529.40" x2="151.10" y2="632.40" stroke="#e4e4e4" stroke-width="0.6"/><line x1="49.50" y1="611.80" x2="176.50" y2="611.80" stroke="#e4e4e4" stroke-width="0.6"/><line x1="49.50" y1="591.20" x2="176.50" y2="591.20" stroke="#e4e4e4" stroke-width="0.6"/><line x1="49.50" y1="570.60" x2="176.50" y2="570.60" stroke="#e4e4e4" stroke-width="0.6"/><line x1="49.50" y1="550.00" x2="176.50" y2="550.00" stroke="#e4e4e4" stroke-width="0.6"/><line x1="74.90" y1="632.40" x2="74.90" y2="630.40" stroke="#555" stroke-width="0.65"/><line x1="74.90" y1="529.40" x2="74.90" y2="531.40" stroke="#555" stroke-width="0.65"/><line x1="100.30" y1="632.40" x2="100.30" y2="630.40" stroke="#555" stroke-width="0.65"/><line x1="100.30" y1="529.40" x2="100.30" y2="531.40" stroke="#555" stroke-width="0.65"/><line x1="125.70" y1="632.40" x2="125.70" y2="630.40" stroke="#555" stroke-width="0.65"/><line x1="125.70" y1="529.40" x2="125.70" y2="531.40" stroke="#555" stroke-width="0.65"/><line x1="151.10" y1="632.40" x2="151.10" y2="630.40" stroke="#555" stroke-width="0.65"/><line x1="151.10" y1="529.40" x2="151.10" y2="531.40" stroke="#555" stroke-width="0.65"/><line x1="176.50" y1="632.40" x2="176.50" y2="630.40" stroke="#555" stroke-width="0.65"/><line x1="176.50" y1="529.40" x2="176.50" y2="531.40" stroke="#555" stroke-width="0.65"/><line x1="55.85" y1="632.40" x2="55.85" y2="631.20" stroke="#555" stroke-width="0.65"/><line x1="55.85" y1="529.40" x2="55.85" y2="530.60" stroke="#555" stroke-width="0.65"/><line x1="62.20" y1="632.40" x2="62.20" y2="631.20" stroke="#555" stroke-width="0.65"/><line x1="62.20" y1="529.40" x2="62.20" y2="530.60" stroke="#555" stroke-width="0.65"/><line x1="68.55" y1="632.40" x2="68.55" y2="631.20" stroke="#555" stroke-width="0.65"/><line x1="68.55" y1="529.40" x2="68.55" y2="530.60" stroke="#555" stroke-width="0.65"/><line x1="81.25" y1="632.40" x2="81.25" y2="631.20" stroke="#555" stroke-width="0.65"/><line x1="81.25" y1="529.40" x2="81.25" y2="530.60" stroke="#555" stroke-width="0.65"/><line x1="87.60" y1="632.40" x2="87.60" y2="631.20" stroke="#555" stroke-width="0.65"/><line x1="87.60" y1="529.40" x2="87.60" y2="530.60" stroke="#555" stroke-width="0.65"/><line x1="93.95" y1="632.40" x2="93.95" y2="631.20" stroke="#555" stroke-width="0.65"/><line x1="93.95" y1="529.40" x2="93.95" y2="530.60" stroke="#555" stroke-width="0.65"/><line x1="106.65" y1="632.40" x2="106.65" y2="631.20" stroke="#555" stroke-width="0.65"/><line x1="106.65" y1="529.40" x2="106.65" y2="530.60" stroke="#555" stroke-width="0.65"/><line x1="113.00" y1="632.40" x2="113.00" y2="631.20" stroke="#555" stroke-width="0.65"/><line x1="113.00" y1="529.40" x2="113.00" y2="530.60" stroke="#555" stroke-width="0.65"/><line x1="119.35" y1="632.40" x2="119.35" y2="631.20" stroke="#555" stroke-width="0.65"/><line x1="119.35" y1="529.40" x2="119.35" y2="530.60" stroke="#555" stroke-width="0.65"/><line x1="132.05" y1="632.40" x2="132.05" y2="631.20" stroke="#555" stroke-width="0.65"/><line x1="132.05" y1="529.40" x2="132.05" y2="530.60" stroke="#555" stroke-width="0.65"/><line x1="138.40" y1="632.40" x2="138.40" y2="631.20" stroke="#555" stroke-width="0.65"/><line x1="138.40" y1="529.40" x2="138.40" y2="530.60" stroke="#555" stroke-width="0.65"/><line x1="144.75" y1="632.40" x2="144.75" y2="631.20" stroke="#555" stroke-width="0.65"/><line x1="144.75" y1="529.40" x2="144.75" y2="530.60" stroke="#555" stroke-width="0.65"/><line x1="157.45" y1="632.40" x2="157.45" y2="631.20" stroke="#555" stroke-width="0.65"/><line x1="157.45" y1="529.40" x2="157.45" y2="530.60" stroke="#555" stroke-width="0.65"/><line x1="163.80" y1="632.40" x2="163.80" y2="631.20" stroke="#555" stroke-width="0.65"/><line x1="163.80" y1="529.40" x2="163.80" y2="530.60" stroke="#555" stroke-width="0.65"/><line x1="170.15" y1="632.40" x2="170.15" y2="631.20" stroke="#555" stroke-width="0.65"/><line x1="170.15" y1="529.40" x2="170.15" y2="530.60" stroke="#555" stroke-width="0.65"/><line x1="49.50" y1="632.40" x2="51.50" y2="632.40" stroke="#555" stroke-width="0.65"/><line x1="176.50" y1="632.40" x2="174.50" y2="632.40" stroke="#555" stroke-width="0.65"/><line x1="49.50" y1="611.80" x2="51.50" y2="611.80" stroke="#555" stroke-width="0.65"/><line x1="176.50" y1="611.80" x2="174.50" y2="611.80" stroke="#555" stroke-width="0.65"/><line x1="49.50" y1="591.20" x2="51.50" y2="591.20" stroke="#555" stroke-width="0.65"/><line x1="176.50" y1="591.20" x2="174.50" y2="591.20" stroke="#555" stroke-width="0.65"/><line x1="49.50" y1="570.60" x2="51.50" y2="570.60" stroke="#555" stroke-width="0.65"/><line x1="176.50" y1="570.60" x2="174.50" y2="570.60" stroke="#555" stroke-width="0.65"/><line x1="49.50" y1="550.00" x2="51.50" y2="550.00" stroke="#555" stroke-width="0.65"/><line x1="176.50" y1="550.00" x2="174.50" y2="550.00" stroke="#555" stroke-width="0.65"/><line x1="49.50" y1="529.40" x2="51.50" y2="529.40" stroke="#555" stroke-width="0.65"/><line x1="176.50" y1="529.40" x2="174.50" y2="529.40" stroke="#555" stroke-width="0.65"/><line x1="49.50" y1="627.25" x2="50.70" y2="627.25" stroke="#555" stroke-width="0.65"/><line x1="176.50" y1="627.25" x2="175.30" y2="627.25" stroke="#555" stroke-width="0.65"/><line x1="49.50" y1="622.10" x2="50.70" y2="622.10" stroke="#555" stroke-width="0.65"/><line x1="176.50" y1="622.10" x2="175.30" y2="622.10" stroke="#555" stroke-width="0.65"/><line x1="49.50" y1="616.95" x2="50.70" y2="616.95" stroke="#555" stroke-width="0.65"/><line x1="176.50" y1="616.95" x2="175.30" y2="616.95" stroke="#555" stroke-width="0.65"/><line x1="49.50" y1="606.65" x2="50.70" y2="606.65" stroke="#555" stroke-width="0.65"/><line x1="176.50" y1="606.65" x2="175.30" y2="606.65" stroke="#555" stroke-width="0.65"/><line x1="49.50" y1="601.50" x2="50.70" y2="601.50" stroke="#555" stroke-width="0.65"/><line x1="176.50" y1="601.50" x2="175.30" y2="601.50" stroke="#555" stroke-width="0.65"/><line x1="49.50" y1="596.35" x2="50.70" y2="596.35" stroke="#555" stroke-width="0.65"/><line x1="176.50" y1="596.35" x2="175.30" y2="596.35" stroke="#555" stroke-width="0.65"/><line x1="49.50" y1="586.05" x2="50.70" y2="586.05" stroke="#555" stroke-width="0.65"/><line x1="176.50" y1="586.05" x2="175.30" y2="586.05" stroke="#555" stroke-width="0.65"/><line x1="49.50" y1="580.90" x2="50.70" y2="580.90" stroke="#555" stroke-width="0.65"/><line x1="176.50" y1="580.90" x2="175.30" y2="580.90" stroke="#555" stroke-width="0.65"/><line x1="49.50" y1="575.75" x2="50.70" y2="575.75" stroke="#555" stroke-width="0.65"/><line x1="176.50" y1="575.75" x2="175.30" y2="575.75" stroke="#555" stroke-width="0.65"/><line x1="49.50" y1="565.45" x2="50.70" y2="565.45" stroke="#555" stroke-width="0.65"/><line x1="176.50" y1="565.45" x2="175.30" y2="565.45" stroke="#555" stroke-width="0.65"/><line x1="49.50" y1="560.30" x2="50.70" y2="560.30" stroke="#555" stroke-width="0.65"/><line x1="176.50" y1="560.30" x2="175.30" y2="560.30" stroke="#555" stroke-width="0.65"/><line x1="49.50" y1="555.15" x2="50.70" y2="555.15" stroke="#555" stroke-width="0.65"/><line x1="176.50" y1="555.15" x2="175.30" y2="555.15" stroke="#555" stroke-width="0.65"/><line x1="49.50" y1="544.85" x2="50.70" y2="544.85" stroke="#555" stroke-width="0.65"/><line x1="176.50" y1="544.85" x2="175.30" y2="544.85" stroke="#555" stroke-width="0.65"/><line x1="49.50" y1="539.70" x2="50.70" y2="539.70" stroke="#555" stroke-width="0.65"/><line x1="176.50" y1="539.70" x2="175.30" y2="539.70" stroke="#555" stroke-width="0.65"/><line x1="49.50" y1="534.55" x2="50.70" y2="534.55" stroke="#555" stroke-width="0.65"/><line x1="176.50" y1="534.55" x2="175.30" y2="534.55" stroke="#555" stroke-width="0.65"/><text x="74.90" y="640.98" font-size="6.4" text-anchor="middle" fill="#222" color="#222" font-weight="bold">200</text><text x="100.30" y="640.98" font-size="6.4" text-anchor="middle" fill="#222" color="#222" font-weight="bold">400</text><text x="125.70" y="640.98" font-size="6.4" text-anchor="middle" fill="#222" color="#222" font-weight="bold">600</text><text x="151.10" y="640.98" font-size="6.4" text-anchor="middle" fill="#222" color="#222" font-weight="bold">800</text><text x="176.50" y="640.98" font-size="6.4" text-anchor="middle" fill="#222" color="#222" font-weight="bold">1000</text><text x="46.90" y="634.38" font-size="6.4" text-anchor="end" fill="#222" color="#222" font-weight="bold">0</text><text x="46.90" y="613.78" font-size="6.4" text-anchor="end" fill="#222" color="#222" font-weight="bold">20</text><text x="46.90" y="593.18" font-size="6.4" text-anchor="end" fill="#222" color="#222" font-weight="bold">40</text><text x="46.90" y="572.58" font-size="6.4" text-anchor="end" fill="#222" color="#222" font-weight="bold">60</text><text x="46.90" y="551.98" font-size="6.4" text-anchor="end" fill="#222" color="#222" font-weight="bold">80</text><text x="46.90" y="531.38" font-size="6.4" text-anchor="end" fill="#222" color="#222" font-weight="bold">100</text><text x="113.00" y="649.24" font-size="6.6" text-anchor="middle" fill="#2a2a2a" color="#2a2a2a" font-weight="bold" class="lb">Iteration</text><text x="31.70" y="583.21" font-size="6.8" text-anchor="middle" fill="#2a2a2a" color="#2a2a2a" font-weight="bold" transform="rotate(-90 31.70 580.90)" class="lb">Percentage</text><text x="113.00" y="527.91" font-size="6.8" text-anchor="middle" fill="#000" color="#000" font-weight="bold">Balance analysis of DNMRIME</text><line x1="238.24" y1="529.30" x2="238.24" y2="632.30" stroke="#e4e4e4" stroke-width="0.6"/><line x1="263.58" y1="529.30" x2="263.58" y2="632.30" stroke="#e4e4e4" stroke-width="0.6"/><line x1="288.92" y1="529.30" x2="288.92" y2="632.30" stroke="#e4e4e4" stroke-width="0.6"/><line x1="314.26" y1="529.30" x2="314.26" y2="632.30" stroke="#e4e4e4" stroke-width="0.6"/><line x1="212.90" y1="611.70" x2="339.60" y2="611.70" stroke="#e4e4e4" stroke-width="0.6"/><line x1="212.90" y1="591.10" x2="339.60" y2="591.10" stroke="#e4e4e4" stroke-width="0.6"/><line x1="212.90" y1="570.50" x2="339.60" y2="570.50" stroke="#e4e4e4" stroke-width="0.6"/><line x1="212.90" y1="549.90" x2="339.60" y2="549.90" stroke="#e4e4e4" stroke-width="0.6"/><line x1="238.24" y1="632.30" x2="238.24" y2="630.30" stroke="#555" stroke-width="0.65"/><line x1="238.24" y1="529.30" x2="238.24" y2="531.30" stroke="#555" stroke-width="0.65"/><line x1="263.58" y1="632.30" x2="263.58" y2="630.30" stroke="#555" stroke-width="0.65"/><line x1="263.58" y1="529.30" x2="263.58" y2="531.30" stroke="#555" stroke-width="0.65"/><line x1="288.92" y1="632.30" x2="288.92" y2="630.30" stroke="#555" stroke-width="0.65"/><line x1="288.92" y1="529.30" x2="288.92" y2="531.30" stroke="#555" stroke-width="0.65"/><line x1="314.26" y1="632.30" x2="314.26" y2="630.30" stroke="#555" stroke-width="0.65"/><line x1="314.26" y1="529.30" x2="314.26" y2="531.30" stroke="#555" stroke-width="0.65"/><line x1="339.60" y1="632.30" x2="339.60" y2="630.30" stroke="#555" stroke-width="0.65"/><line x1="339.60" y1="529.30" x2="339.60" y2="531.30" stroke="#555" stroke-width="0.65"/><line x1="219.24" y1="632.30" x2="219.24" y2="631.10" stroke="#555" stroke-width="0.65"/><line x1="219.24" y1="529.30" x2="219.24" y2="530.50" stroke="#555" stroke-width="0.65"/><line x1="225.57" y1="632.30" x2="225.57" y2="631.10" stroke="#555" stroke-width="0.65"/><line x1="225.57" y1="529.30" x2="225.57" y2="530.50" stroke="#555" stroke-width="0.65"/><line x1="231.91" y1="632.30" x2="231.91" y2="631.10" stroke="#555" stroke-width="0.65"/><line x1="231.91" y1="529.30" x2="231.91" y2="530.50" stroke="#555" stroke-width="0.65"/><line x1="244.58" y1="632.30" x2="244.58" y2="631.10" stroke="#555" stroke-width="0.65"/><line x1="244.58" y1="529.30" x2="244.58" y2="530.50" stroke="#555" stroke-width="0.65"/><line x1="250.91" y1="632.30" x2="250.91" y2="631.10" stroke="#555" stroke-width="0.65"/><line x1="250.91" y1="529.30" x2="250.91" y2="530.50" stroke="#555" stroke-width="0.65"/><line x1="257.25" y1="632.30" x2="257.25" y2="631.10" stroke="#555" stroke-width="0.65"/><line x1="257.25" y1="529.30" x2="257.25" y2="530.50" stroke="#555" stroke-width="0.65"/><line x1="269.92" y1="632.30" x2="269.92" y2="631.10" stroke="#555" stroke-width="0.65"/><line x1="269.92" y1="529.30" x2="269.92" y2="530.50" stroke="#555" stroke-width="0.65"/><line x1="276.25" y1="632.30" x2="276.25" y2="631.10" stroke="#555" stroke-width="0.65"/><line x1="276.25" y1="529.30" x2="276.25" y2="530.50" stroke="#555" stroke-width="0.65"/><line x1="282.59" y1="632.30" x2="282.59" y2="631.10" stroke="#555" stroke-width="0.65"/><line x1="282.59" y1="529.30" x2="282.59" y2="530.50" stroke="#555" stroke-width="0.65"/><line x1="295.25" y1="632.30" x2="295.25" y2="631.10" stroke="#555" stroke-width="0.65"/><line x1="295.25" y1="529.30" x2="295.25" y2="530.50" stroke="#555" stroke-width="0.65"/><line x1="301.59" y1="632.30" x2="301.59" y2="631.10" stroke="#555" stroke-width="0.65"/><line x1="301.59" y1="529.30" x2="301.59" y2="530.50" stroke="#555" stroke-width="0.65"/><line x1="307.93" y1="632.30" x2="307.93" y2="631.10" stroke="#555" stroke-width="0.65"/><line x1="307.93" y1="529.30" x2="307.93" y2="530.50" stroke="#555" stroke-width="0.65"/><line x1="320.60" y1="632.30" x2="320.60" y2="631.10" stroke="#555" stroke-width="0.65"/><line x1="320.60" y1="529.30" x2="320.60" y2="530.50" stroke="#555" stroke-width="0.65"/><line x1="326.93" y1="632.30" x2="326.93" y2="631.10" stroke="#555" stroke-width="0.65"/><line x1="326.93" y1="529.30" x2="326.93" y2="530.50" stroke="#555" stroke-width="0.65"/><line x1="333.26" y1="632.30" x2="333.26" y2="631.10" stroke="#555" stroke-width="0.65"/><line x1="333.26" y1="529.30" x2="333.26" y2="530.50" stroke="#555" stroke-width="0.65"/><line x1="212.90" y1="632.30" x2="214.90" y2="632.30" stroke="#555" stroke-width="0.65"/><line x1="339.60" y1="632.30" x2="337.60" y2="632.30" stroke="#555" stroke-width="0.65"/><line x1="212.90" y1="611.70" x2="214.90" y2="611.70" stroke="#555" stroke-width="0.65"/><line x1="339.60" y1="611.70" x2="337.60" y2="611.70" stroke="#555" stroke-width="0.65"/><line x1="212.90" y1="591.10" x2="214.90" y2="591.10" stroke="#555" stroke-width="0.65"/><line x1="339.60" y1="591.10" x2="337.60" y2="591.10" stroke="#555" stroke-width="0.65"/><line x1="212.90" y1="570.50" x2="214.90" y2="570.50" stroke="#555" stroke-width="0.65"/><line x1="339.60" y1="570.50" x2="337.60" y2="570.50" stroke="#555" stroke-width="0.65"/><line x1="212.90" y1="549.90" x2="214.90" y2="549.90" stroke="#555" stroke-width="0.65"/><line x1="339.60" y1="549.90" x2="337.60" y2="549.90" stroke="#555" stroke-width="0.65"/><line x1="212.90" y1="529.30" x2="214.90" y2="529.30" stroke="#555" stroke-width="0.65"/><line x1="339.60" y1="529.30" x2="337.60" y2="529.30" stroke="#555" stroke-width="0.65"/><line x1="212.90" y1="627.15" x2="214.10" y2="627.15" stroke="#555" stroke-width="0.65"/><line x1="339.60" y1="627.15" x2="338.40" y2="627.15" stroke="#555" stroke-width="0.65"/><line x1="212.90" y1="622.00" x2="214.10" y2="622.00" stroke="#555" stroke-width="0.65"/><line x1="339.60" y1="622.00" x2="338.40" y2="622.00" stroke="#555" stroke-width="0.65"/><line x1="212.90" y1="616.85" x2="214.10" y2="616.85" stroke="#555" stroke-width="0.65"/><line x1="339.60" y1="616.85" x2="338.40" y2="616.85" stroke="#555" stroke-width="0.65"/><line x1="212.90" y1="606.55" x2="214.10" y2="606.55" stroke="#555" stroke-width="0.65"/><line x1="339.60" y1="606.55" x2="338.40" y2="606.55" stroke="#555" stroke-width="0.65"/><line x1="212.90" y1="601.40" x2="214.10" y2="601.40" stroke="#555" stroke-width="0.65"/><line x1="339.60" y1="601.40" x2="338.40" y2="601.40" stroke="#555" stroke-width="0.65"/><line x1="212.90" y1="596.25" x2="214.10" y2="596.25" stroke="#555" stroke-width="0.65"/><line x1="339.60" y1="596.25" x2="338.40" y2="596.25" stroke="#555" stroke-width="0.65"/><line x1="212.90" y1="585.95" x2="214.10" y2="585.95" stroke="#555" stroke-width="0.65"/><line x1="339.60" y1="585.95" x2="338.40" y2="585.95" stroke="#555" stroke-width="0.65"/><line x1="212.90" y1="580.80" x2="214.10" y2="580.80" stroke="#555" stroke-width="0.65"/><line x1="339.60" y1="580.80" x2="338.40" y2="580.80" stroke="#555" stroke-width="0.65"/><line x1="212.90" y1="575.65" x2="214.10" y2="575.65" stroke="#555" stroke-width="0.65"/><line x1="339.60" y1="575.65" x2="338.40" y2="575.65" stroke="#555" stroke-width="0.65"/><line x1="212.90" y1="565.35" x2="214.10" y2="565.35" stroke="#555" stroke-width="0.65"/><line x1="339.60" y1="565.35" x2="338.40" y2="565.35" stroke="#555" stroke-width="0.65"/><line x1="212.90" y1="560.20" x2="214.10" y2="560.20" stroke="#555" stroke-width="0.65"/><line x1="339.60" y1="560.20" x2="338.40" y2="560.20" stroke="#555" stroke-width="0.65"/><line x1="212.90" y1="555.05" x2="214.10" y2="555.05" stroke="#555" stroke-width="0.65"/><line x1="339.60" y1="555.05" x2="338.40" y2="555.05" stroke="#555" stroke-width="0.65"/><line x1="212.90" y1="544.75" x2="214.10" y2="544.75" stroke="#555" stroke-width="0.65"/><line x1="339.60" y1="544.75" x2="338.40" y2="544.75" stroke="#555" stroke-width="0.65"/><line x1="212.90" y1="539.60" x2="214.10" y2="539.60" stroke="#555" stroke-width="0.65"/><line x1="339.60" y1="539.60" x2="338.40" y2="539.60" stroke="#555" stroke-width="0.65"/><line x1="212.90" y1="534.45" x2="214.10" y2="534.45" stroke="#555" stroke-width="0.65"/><line x1="339.60" y1="534.45" x2="338.40" y2="534.45" stroke="#555" stroke-width="0.65"/><text x="238.24" y="640.88" font-size="6.4" text-anchor="middle" fill="#222" color="#222" font-weight="bold">200</text><text x="263.58" y="640.88" font-size="6.4" text-anchor="middle" fill="#222" color="#222" font-weight="bold">400</text><text x="288.92" y="640.88" font-size="6.4" text-anchor="middle" fill="#222" color="#222" font-weight="bold">600</text><text x="314.26" y="640.88" font-size="6.4" text-anchor="middle" fill="#222" color="#222" font-weight="bold">800</text><text x="339.60" y="640.88" font-size="6.4" text-anchor="middle" fill="#222" color="#222" font-weight="bold">1000</text><text x="210.30" y="634.28" font-size="6.4" text-anchor="end" fill="#222" color="#222" font-weight="bold">0</text><text x="210.30" y="613.68" font-size="6.4" text-anchor="end" fill="#222" color="#222" font-weight="bold">20</text><text x="210.30" y="593.08" font-size="6.4" text-anchor="end" fill="#222" color="#222" font-weight="bold">40</text><text x="210.30" y="572.48" font-size="6.4" text-anchor="end" fill="#222" color="#222" font-weight="bold">60</text><text x="210.30" y="551.88" font-size="6.4" text-anchor="end" fill="#222" color="#222" font-weight="bold">80</text><text x="210.30" y="531.28" font-size="6.4" text-anchor="end" fill="#222" color="#222" font-weight="bold">100</text><text x="276.25" y="649.14" font-size="6.6" text-anchor="middle" fill="#2a2a2a" color="#2a2a2a" font-weight="bold" class="lb">Iteration</text><text x="195.10" y="583.11" font-size="6.8" text-anchor="middle" fill="#2a2a2a" color="#2a2a2a" font-weight="bold" transform="rotate(-90 195.10 580.80)" class="lb">Percentage</text><text x="276.25" y="527.81" font-size="6.8" text-anchor="middle" fill="#000" color="#000" font-weight="bold">Balance analysis of RIME</text><line x1="401.76" y1="529.40" x2="401.76" y2="632.30" stroke="#e4e4e4" stroke-width="0.6"/><line x1="427.02" y1="529.40" x2="427.02" y2="632.30" stroke="#e4e4e4" stroke-width="0.6"/><line x1="452.28" y1="529.40" x2="452.28" y2="632.30" stroke="#e4e4e4" stroke-width="0.6"/><line x1="477.54" y1="529.40" x2="477.54" y2="632.30" stroke="#e4e4e4" stroke-width="0.6"/><line x1="376.50" y1="608.64" x2="502.80" y2="608.64" stroke="#e4e4e4" stroke-width="0.6"/><line x1="376.50" y1="584.99" x2="502.80" y2="584.99" stroke="#e4e4e4" stroke-width="0.6"/><line x1="376.50" y1="561.33" x2="502.80" y2="561.33" stroke="#e4e4e4" stroke-width="0.6"/><line x1="376.50" y1="537.68" x2="502.80" y2="537.68" stroke="#e4e4e4" stroke-width="0.6"/><line x1="401.76" y1="632.30" x2="401.76" y2="630.30" stroke="#555" stroke-width="0.65"/><line x1="401.76" y1="529.40" x2="401.76" y2="531.40" stroke="#555" stroke-width="0.65"/><line x1="427.02" y1="632.30" x2="427.02" y2="630.30" stroke="#555" stroke-width="0.65"/><line x1="427.02" y1="529.40" x2="427.02" y2="531.40" stroke="#555" stroke-width="0.65"/><line x1="452.28" y1="632.30" x2="452.28" y2="630.30" stroke="#555" stroke-width="0.65"/><line x1="452.28" y1="529.40" x2="452.28" y2="531.40" stroke="#555" stroke-width="0.65"/><line x1="477.54" y1="632.30" x2="477.54" y2="630.30" stroke="#555" stroke-width="0.65"/><line x1="477.54" y1="529.40" x2="477.54" y2="531.40" stroke="#555" stroke-width="0.65"/><line x1="502.80" y1="632.30" x2="502.80" y2="630.30" stroke="#555" stroke-width="0.65"/><line x1="502.80" y1="529.40" x2="502.80" y2="531.40" stroke="#555" stroke-width="0.65"/><line x1="382.81" y1="632.30" x2="382.81" y2="631.10" stroke="#555" stroke-width="0.65"/><line x1="382.81" y1="529.40" x2="382.81" y2="530.60" stroke="#555" stroke-width="0.65"/><line x1="389.13" y1="632.30" x2="389.13" y2="631.10" stroke="#555" stroke-width="0.65"/><line x1="389.13" y1="529.40" x2="389.13" y2="530.60" stroke="#555" stroke-width="0.65"/><line x1="395.44" y1="632.30" x2="395.44" y2="631.10" stroke="#555" stroke-width="0.65"/><line x1="395.44" y1="529.40" x2="395.44" y2="530.60" stroke="#555" stroke-width="0.65"/><line x1="408.07" y1="632.30" x2="408.07" y2="631.10" stroke="#555" stroke-width="0.65"/><line x1="408.07" y1="529.40" x2="408.07" y2="530.60" stroke="#555" stroke-width="0.65"/><line x1="414.39" y1="632.30" x2="414.39" y2="631.10" stroke="#555" stroke-width="0.65"/><line x1="414.39" y1="529.40" x2="414.39" y2="530.60" stroke="#555" stroke-width="0.65"/><line x1="420.70" y1="632.30" x2="420.70" y2="631.10" stroke="#555" stroke-width="0.65"/><line x1="420.70" y1="529.40" x2="420.70" y2="530.60" stroke="#555" stroke-width="0.65"/><line x1="433.34" y1="632.30" x2="433.34" y2="631.10" stroke="#555" stroke-width="0.65"/><line x1="433.34" y1="529.40" x2="433.34" y2="530.60" stroke="#555" stroke-width="0.65"/><line x1="439.65" y1="632.30" x2="439.65" y2="631.10" stroke="#555" stroke-width="0.65"/><line x1="439.65" y1="529.40" x2="439.65" y2="530.60" stroke="#555" stroke-width="0.65"/><line x1="445.97" y1="632.30" x2="445.97" y2="631.10" stroke="#555" stroke-width="0.65"/><line x1="445.97" y1="529.40" x2="445.97" y2="530.60" stroke="#555" stroke-width="0.65"/><line x1="458.60" y1="632.30" x2="458.60" y2="631.10" stroke="#555" stroke-width="0.65"/><line x1="458.60" y1="529.40" x2="458.60" y2="530.60" stroke="#555" stroke-width="0.65"/><line x1="464.91" y1="632.30" x2="464.91" y2="631.10" stroke="#555" stroke-width="0.65"/><line x1="464.91" y1="529.40" x2="464.91" y2="530.60" stroke="#555" stroke-width="0.65"/><line x1="471.23" y1="632.30" x2="471.23" y2="631.10" stroke="#555" stroke-width="0.65"/><line x1="471.23" y1="529.40" x2="471.23" y2="530.60" stroke="#555" stroke-width="0.65"/><line x1="483.86" y1="632.30" x2="483.86" y2="631.10" stroke="#555" stroke-width="0.65"/><line x1="483.86" y1="529.40" x2="483.86" y2="530.60" stroke="#555" stroke-width="0.65"/><line x1="490.17" y1="632.30" x2="490.17" y2="631.10" stroke="#555" stroke-width="0.65"/><line x1="490.17" y1="529.40" x2="490.17" y2="530.60" stroke="#555" stroke-width="0.65"/><line x1="496.49" y1="632.30" x2="496.49" y2="631.10" stroke="#555" stroke-width="0.65"/><line x1="496.49" y1="529.40" x2="496.49" y2="530.60" stroke="#555" stroke-width="0.65"/><line x1="376.50" y1="632.30" x2="378.50" y2="632.30" stroke="#555" stroke-width="0.65"/><line x1="502.80" y1="632.30" x2="500.80" y2="632.30" stroke="#555" stroke-width="0.65"/><line x1="376.50" y1="608.64" x2="378.50" y2="608.64" stroke="#555" stroke-width="0.65"/><line x1="502.80" y1="608.64" x2="500.80" y2="608.64" stroke="#555" stroke-width="0.65"/><line x1="376.50" y1="584.99" x2="378.50" y2="584.99" stroke="#555" stroke-width="0.65"/><line x1="502.80" y1="584.99" x2="500.80" y2="584.99" stroke="#555" stroke-width="0.65"/><line x1="376.50" y1="561.33" x2="378.50" y2="561.33" stroke="#555" stroke-width="0.65"/><line x1="502.80" y1="561.33" x2="500.80" y2="561.33" stroke="#555" stroke-width="0.65"/><line x1="376.50" y1="537.68" x2="378.50" y2="537.68" stroke="#555" stroke-width="0.65"/><line x1="502.80" y1="537.68" x2="500.80" y2="537.68" stroke="#555" stroke-width="0.65"/><line x1="376.50" y1="627.57" x2="377.70" y2="627.57" stroke="#555" stroke-width="0.65"/><line x1="502.80" y1="627.57" x2="501.60" y2="627.57" stroke="#555" stroke-width="0.65"/><line x1="376.50" y1="622.84" x2="377.70" y2="622.84" stroke="#555" stroke-width="0.65"/><line x1="502.80" y1="622.84" x2="501.60" y2="622.84" stroke="#555" stroke-width="0.65"/><line x1="376.50" y1="618.11" x2="377.70" y2="618.11" stroke="#555" stroke-width="0.65"/><line x1="502.80" y1="618.11" x2="501.60" y2="618.11" stroke="#555" stroke-width="0.65"/><line x1="376.50" y1="613.38" x2="377.70" y2="613.38" stroke="#555" stroke-width="0.65"/><line x1="502.80" y1="613.38" x2="501.60" y2="613.38" stroke="#555" stroke-width="0.65"/><line x1="376.50" y1="603.91" x2="377.70" y2="603.91" stroke="#555" stroke-width="0.65"/><line x1="502.80" y1="603.91" x2="501.60" y2="603.91" stroke="#555" stroke-width="0.65"/><line x1="376.50" y1="599.18" x2="377.70" y2="599.18" stroke="#555" stroke-width="0.65"/><line x1="502.80" y1="599.18" x2="501.60" y2="599.18" stroke="#555" stroke-width="0.65"/><line x1="376.50" y1="594.45" x2="377.70" y2="594.45" stroke="#555" stroke-width="0.65"/><line x1="502.80" y1="594.45" x2="501.60" y2="594.45" stroke="#555" stroke-width="0.65"/><line x1="376.50" y1="589.72" x2="377.70" y2="589.72" stroke="#555" stroke-width="0.65"/><line x1="502.80" y1="589.72" x2="501.60" y2="589.72" stroke="#555" stroke-width="0.65"/><line x1="376.50" y1="580.26" x2="377.70" y2="580.26" stroke="#555" stroke-width="0.65"/><line x1="502.80" y1="580.26" x2="501.60" y2="580.26" stroke="#555" stroke-width="0.65"/><line x1="376.50" y1="575.53" x2="377.70" y2="575.53" stroke="#555" stroke-width="0.65"/><line x1="502.80" y1="575.53" x2="501.60" y2="575.53" stroke="#555" stroke-width="0.65"/><line x1="376.50" y1="570.80" x2="377.70" y2="570.80" stroke="#555" stroke-width="0.65"/><line x1="502.80" y1="570.80" x2="501.60" y2="570.80" stroke="#555" stroke-width="0.65"/><line x1="376.50" y1="566.07" x2="377.70" y2="566.07" stroke="#555" stroke-width="0.65"/><line x1="502.80" y1="566.07" x2="501.60" y2="566.07" stroke="#555" stroke-width="0.65"/><line x1="376.50" y1="556.60" x2="377.70" y2="556.60" stroke="#555" stroke-width="0.65"/><line x1="502.80" y1="556.60" x2="501.60" y2="556.60" stroke="#555" stroke-width="0.65"/><line x1="376.50" y1="551.87" x2="377.70" y2="551.87" stroke="#555" stroke-width="0.65"/><line x1="502.80" y1="551.87" x2="501.60" y2="551.87" stroke="#555" stroke-width="0.65"/><line x1="376.50" y1="547.14" x2="377.70" y2="547.14" stroke="#555" stroke-width="0.65"/><line x1="502.80" y1="547.14" x2="501.60" y2="547.14" stroke="#555" stroke-width="0.65"/><line x1="376.50" y1="542.41" x2="377.70" y2="542.41" stroke="#555" stroke-width="0.65"/><line x1="502.80" y1="542.41" x2="501.60" y2="542.41" stroke="#555" stroke-width="0.65"/><line x1="376.50" y1="532.95" x2="377.70" y2="532.95" stroke="#555" stroke-width="0.65"/><line x1="502.80" y1="532.95" x2="501.60" y2="532.95" stroke="#555" stroke-width="0.65"/><text x="401.76" y="640.88" font-size="6.4" text-anchor="middle" fill="#222" color="#222" font-weight="bold">200</text><text x="427.02" y="640.88" font-size="6.4" text-anchor="middle" fill="#222" color="#222" font-weight="bold">400</text><text x="452.28" y="640.88" font-size="6.4" text-anchor="middle" fill="#222" color="#222" font-weight="bold">600</text><text x="477.54" y="640.88" font-size="6.4" text-anchor="middle" fill="#222" color="#222" font-weight="bold">800</text><text x="502.80" y="640.88" font-size="6.4" text-anchor="middle" fill="#222" color="#222" font-weight="bold">1000</text><text x="373.90" y="634.28" font-size="6.4" text-anchor="end" fill="#222" color="#222" font-weight="bold">0</text><text x="373.90" y="610.62" font-size="6.4" text-anchor="end" fill="#222" color="#222" font-weight="bold">100</text><text x="373.90" y="586.97" font-size="6.4" text-anchor="end" fill="#222" color="#222" font-weight="bold">200</text><text x="373.90" y="563.31" font-size="6.4" text-anchor="end" fill="#222" color="#222" font-weight="bold">300</text><text x="373.90" y="539.66" font-size="6.4" text-anchor="end" fill="#222" color="#222" font-weight="bold">400</text><text x="439.65" y="649.14" font-size="6.6" text-anchor="middle" fill="#2a2a2a" color="#2a2a2a" font-weight="bold" class="lb">Iteration</text><text x="358.50" y="583.23" font-size="7.0" text-anchor="middle" fill="#2a2a2a" color="#2a2a2a" font-weight="bold" transform="rotate(-90 358.50 580.85)" class="lb">Average distance between search agent</text><text x="439.65" y="527.91" font-size="6.8" text-anchor="middle" fill="#000" color="#000" font-weight="bold">Algorithm diversity analysis</text><rect x="49.50" y="7.45" width="127.00" height="102.95" fill="none" stroke="#555" stroke-width="0.75"/><rect x="212.90" y="7.30" width="126.70" height="102.80" fill="none" stroke="#555" stroke-width="0.75"/><rect x="376.50" y="7.30" width="126.30" height="103.10" fill="none" stroke="#555" stroke-width="0.75"/><rect x="49.50" y="137.40" width="127.00" height="103.00" fill="none" stroke="#555" stroke-width="0.75"/><rect x="212.90" y="138.40" width="126.70" height="102.80" fill="none" stroke="#555" stroke-width="0.75"/><rect x="376.50" y="137.50" width="126.30" height="102.90" fill="none" stroke="#555" stroke-width="0.75"/><rect x="49.50" y="268.90" width="127.00" height="103.00" fill="none" stroke="#555" stroke-width="0.75"/><rect x="212.90" y="268.90" width="126.70" height="103.00" fill="none" stroke="#555" stroke-width="0.75"/><rect x="376.50" y="268.80" width="126.30" height="102.90" fill="none" stroke="#555" stroke-width="0.75"/><rect x="49.50" y="400.50" width="127.00" height="102.90" fill="none" stroke="#555" stroke-width="0.75"/><rect x="212.90" y="399.70" width="126.70" height="102.90" fill="none" stroke="#555" stroke-width="0.75"/><rect x="376.50" y="399.20" width="126.30" height="102.70" fill="none" stroke="#555" stroke-width="0.75"/><rect x="49.50" y="529.40" width="127.00" height="103.00" fill="none" stroke="#555" stroke-width="0.75"/><rect x="212.90" y="529.30" width="126.70" height="103.00" fill="none" stroke="#555" stroke-width="0.75"/><rect x="376.50" y="529.40" width="126.30" height="102.90" fill="none" stroke="#555" stroke-width="0.75"/><polyline points="49.55,7.45 50.67,7.45 50.67,7.45 52.90,7.45 52.90,7.45 55.12,7.45 55.12,7.45 57.35,7.45 57.35,11.35 59.58,11.35 59.58,27.59 61.80,27.59 61.80,39.80 64.03,39.80 64.03,42.34 66.26,42.34 66.26,46.01 68.49,46.01 68.49,49.31 70.71,49.31 70.71,55.11 72.94,55.11 72.94,67.33 75.17,67.33 75.17,70.16 77.39,70.16 77.39,72.38 79.62,72.38 79.62,74.61 81.85,74.61 81.85,76.83 84.07,76.83 84.07,80.17 86.30,80.17 86.30,85.43 88.53,85.43 88.53,88.80 90.76,88.80 90.76,89.52 92.98,89.52 92.98,90.40 95.21,90.40 95.21,92.18 97.44,92.18 97.44,93.86 99.66,93.86 99.66,95.46 101.89,95.46 101.89,96.57 104.12,96.57 104.12,97.45 106.35,97.45 106.35,97.97 108.57,97.97 108.57,98.49 110.80,98.49 110.80,99.06 113.03,99.06 113.03,99.66 115.25,99.66 115.25,100.20 117.48,100.20 117.48,100.52 119.71,100.52 119.71,100.83 121.94,100.83 121.94,101.14 124.16,101.14 124.16,101.45 126.39,101.45 126.39,101.80 128.62,101.80 128.62,102.15 130.84,102.15 130.84,102.51 133.07,102.51 133.07,102.87 135.30,102.87 135.30,103.20 137.53,103.20 137.53,103.51 139.75,103.51 139.75,103.83 141.98,103.83 141.98,104.14 144.21,104.14 144.21,104.45 146.43,104.45 146.43,104.71 148.66,104.71 148.66,104.98 150.89,104.98 150.89,105.25 153.12,105.25 153.12,105.51 155.34,105.51 155.34,105.91 157.57,105.91 157.57,106.35 159.80,106.35 159.80,106.80 162.02,106.80 162.02,107.24 164.25,107.24 164.25,107.69 166.48,107.69 166.48,108.13 168.71,108.13 168.71,108.31 170.93,108.31 170.93,108.31 173.16,108.31 173.16,108.31 176.50,108.31 176.50,108.31 176.50,108.31" fill="none" stroke="#ff0000" stroke-width="1.15" stroke-linejoin="round"/><polyline points="49.50,110.40 50.61,110.40 50.61,110.40 52.84,110.40 52.84,110.40 55.07,110.40 55.07,110.40 57.30,110.40 57.30,107.70 59.53,107.70 59.53,97.70 61.75,97.70 61.75,79.45 63.98,79.45 63.98,77.70 66.21,77.70 66.21,74.68 68.44,74.68 68.44,69.94 70.67,69.94 70.67,64.84 72.89,64.84 72.89,58.97 75.12,58.97 75.12,48.81 77.35,48.81 77.35,46.16 79.58,46.16 79.58,43.60 81.81,43.60 81.81,40.73 84.04,40.73 84.04,38.04 86.26,38.04 86.26,36.61 88.49,36.61 88.49,29.76 90.72,29.76 90.72,29.43 92.95,29.43 92.95,29.08 95.18,29.08 95.18,26.51 97.40,26.51 97.40,25.08 99.63,25.08 99.63,24.16 101.86,24.16 101.86,23.14 104.09,23.14 104.09,21.46 106.32,21.46 106.32,20.07 108.54,20.07 108.54,18.92 110.77,18.92 110.77,18.10 113.00,18.10 113.00,17.30 115.23,17.30 115.23,16.43 117.46,16.43 117.46,15.94 119.68,15.94 119.68,15.68 121.91,15.68 121.91,15.39 124.14,15.39 124.14,15.08 126.37,15.08 126.37,14.77 128.60,14.77 128.60,14.46 130.82,14.46 130.82,14.15 133.05,14.15 133.05,13.84 135.28,13.84 135.28,13.52 137.51,13.52 137.51,13.18 139.74,13.18 139.74,12.83 141.96,12.83 141.96,12.49 144.19,12.49 144.19,12.18 146.42,12.18 146.42,11.87 148.65,11.87 148.65,11.56 150.88,11.56 150.88,11.29 153.11,11.29 153.11,11.04 155.33,11.04 155.33,10.78 157.56,10.78 157.56,10.53 159.79,10.53 159.79,10.18 162.02,10.18 162.02,9.73 164.25,9.73 164.25,9.29 166.47,9.29 166.47,9.10 168.70,9.10 168.70,8.97 170.93,8.97 170.93,8.85 173.16,8.85 173.16,8.72 176.50,8.72 176.50,8.60 176.50,8.60" fill="none" stroke="#0000ff" stroke-width="1.15" stroke-linejoin="round"/><polyline points="49.55,110.40 51.89,100.15 54.80,82.68 57.72,63.26 60.63,43.84 63.55,28.30 66.46,16.65 69.38,9.85 72.29,7.45 74.23,7.91 77.15,11.80 80.06,18.59 83.95,28.30 87.84,38.01 91.72,49.66 95.61,63.26 99.49,82.68 102.41,98.21 104.35,110.40 176.50,110.40" fill="none" stroke="#00ff00" stroke-width="1.15" stroke-linejoin="round"/><polyline points="49.55,137.40 50.26,137.40 50.26,137.40 51.67,137.40 51.67,137.40 53.08,137.40 53.08,137.40 54.49,137.40 54.49,140.41 55.90,140.41 55.90,146.06 57.31,146.06 57.31,153.92 58.72,153.92 58.72,160.69 60.13,160.69 60.13,164.65 61.54,164.65 61.54,168.17 62.95,168.17 62.95,171.70 64.36,171.70 64.36,175.81 65.78,175.81 65.78,180.58 67.19,180.58 67.19,184.98 68.60,184.98 68.60,189.08 70.01,189.08 70.01,191.86 71.42,191.86 71.42,193.98 72.83,193.98 72.83,196.30 74.24,196.30 74.24,198.65 75.65,198.65 75.65,200.23 77.06,200.23 77.06,201.64 78.47,201.64 78.47,203.05 79.88,203.05 79.88,204.46 81.29,204.46 81.29,205.87 82.70,205.87 82.70,207.28 84.11,207.28 84.11,208.40 85.52,208.40 85.52,209.34 86.93,209.34 86.93,210.28 88.34,210.28 88.34,211.22 89.75,211.22 89.75,212.22 91.16,212.22 91.16,213.27 92.57,213.27 92.57,214.33 93.99,214.33 93.99,215.30 95.40,215.30 95.40,216.24 96.81,216.24 96.81,217.06 98.22,217.06 98.22,217.81 99.63,217.81 99.63,218.35 101.04,218.35 101.04,218.74 102.45,218.74 102.45,219.14 103.86,219.14 103.86,219.52 105.27,219.52 105.27,219.85 106.68,219.85 106.68,220.18 108.09,220.18 108.09,220.51 109.50,220.51 109.50,220.84 110.91,220.84 110.91,221.12 112.32,221.12 112.32,221.40 113.73,221.40 113.73,221.68 115.14,221.68 115.14,221.97 116.55,221.97 116.55,222.25 117.96,222.25 117.96,222.53 119.37,222.53 119.37,222.81 120.79,222.81 120.79,223.09 122.20,223.09 122.20,223.38 123.61,223.38 123.61,223.66 125.02,223.66 125.02,223.94 126.43,223.94 126.43,224.14 127.84,224.14 127.84,224.33 129.25,224.33 129.25,224.53 130.66,224.53 130.66,224.73 132.07,224.73 132.07,224.93 133.48,224.93 133.48,225.12 134.89,225.12 134.89,225.34 136.30,225.34 136.30,225.71 137.71,225.71 137.71,226.07 139.12,226.07 139.12,226.44 140.53,226.44 140.53,226.80 141.94,226.80 141.94,227.17 143.35,227.17 143.35,227.54 144.76,227.54 144.76,227.90 146.17,227.90 146.17,228.24 147.58,228.24 147.58,228.57 149.00,228.57 149.00,228.91 150.41,228.91 150.41,229.25 151.82,229.25 151.82,229.59 153.23,229.59 153.23,229.93 154.64,229.93 154.64,230.34 156.05,230.34 156.05,230.90 157.46,230.90 157.46,231.47 158.87,231.47 158.87,232.03 160.28,232.03 160.28,232.60 161.69,232.60 161.69,233.16 163.10,233.16 163.10,233.72 164.51,233.72 164.51,234.29 165.92,234.29 165.92,234.85 167.33,234.85 167.33,235.42 168.74,235.42 168.74,235.98 170.15,235.98 170.15,236.17 171.56,236.17 171.56,236.37 172.97,236.37 172.97,236.56 174.38,236.56 174.38,236.76 176.50,236.76 176.50,236.95 176.50,236.95" fill="none" stroke="#ff0000" stroke-width="1.15" stroke-linejoin="round"/><polyline points="49.55,240.40 50.26,240.40 50.26,240.40 51.67,240.40 51.67,240.40 53.08,240.40 53.08,240.40 54.49,240.40 54.49,238.55 55.90,238.55 55.90,231.81 57.31,231.81 57.31,224.76 58.72,224.76 58.72,217.83 60.13,217.83 60.13,212.05 61.54,212.05 61.54,207.83 62.95,207.83 62.95,204.14 64.36,204.14 64.36,200.61 65.78,200.61 65.78,197.08 67.19,197.08 67.19,192.85 68.60,192.85 68.60,189.52 70.01,189.52 70.01,186.70 71.42,186.70 71.42,183.88 72.83,183.88 72.83,181.68 74.24,181.68 74.24,179.69 75.65,179.69 75.65,177.81 77.06,177.81 77.06,176.14 78.47,176.14 78.47,174.73 79.88,174.73 79.88,173.32 81.29,173.32 81.29,171.91 82.70,171.91 82.70,170.50 84.11,170.50 84.11,169.09 85.52,169.09 85.52,167.79 86.93,167.79 86.93,166.85 88.34,166.85 88.34,165.89 89.75,165.89 89.75,164.83 91.16,164.83 91.16,163.78 92.57,163.78 92.57,162.72 93.99,162.72 93.99,161.66 95.40,161.66 95.40,160.60 96.81,160.60 96.81,159.78 98.22,159.78 98.22,159.07 99.63,159.07 99.63,158.37 101.04,158.37 101.04,157.67 102.45,157.67 102.45,157.08 103.86,157.08 103.86,156.61 105.27,156.61 105.27,156.14 106.68,156.14 106.68,155.67 108.09,155.67 108.09,155.25 109.50,155.25 109.50,154.90 110.91,154.90 110.91,154.55 112.32,154.55 112.32,154.19 113.73,154.19 113.73,153.84 115.14,153.84 115.14,153.49 116.55,153.49 116.55,153.20 117.96,153.20 117.96,152.92 119.37,152.92 119.37,152.64 120.79,152.64 120.79,152.35 122.20,152.35 122.20,152.07 123.61,152.07 123.61,151.79 125.02,151.79 125.02,151.51 126.43,151.51 126.43,151.09 127.84,151.09 127.84,150.66 129.25,150.66 129.25,150.24 130.66,150.24 130.66,149.82 132.07,149.82 132.07,149.39 133.48,149.39 133.48,148.97 134.89,148.97 134.89,148.56 136.30,148.56 136.30,148.28 137.71,148.28 137.71,148.00 139.12,148.00 139.12,147.72 140.53,147.72 140.53,147.44 141.94,147.44 141.94,147.15 143.35,147.15 143.35,146.87 144.76,146.87 144.76,146.56 146.17,146.56 146.17,146.14 147.58,146.14 147.58,145.71 149.00,145.71 149.00,145.29 150.41,145.29 150.41,144.87 151.82,144.87 151.82,144.44 153.23,144.44 153.23,144.02 154.64,144.02 154.64,143.65 156.05,143.65 156.05,143.36 157.46,143.36 157.46,143.08 158.87,143.08 158.87,142.80 160.28,142.80 160.28,142.52 161.69,142.52 161.69,142.24 163.10,142.24 163.10,141.95 164.51,141.95 164.51,141.59 165.92,141.59 165.92,141.12 167.33,141.12 167.33,140.65 168.74,140.65 168.74,140.18 170.15,140.18 170.15,139.81 171.56,139.81 171.56,139.68 172.97,139.68 172.97,139.54 174.38,139.54 174.38,139.41 176.50,139.41 176.50,139.27 176.50,139.27" fill="none" stroke="#0000ff" stroke-width="1.15" stroke-linejoin="round"/><polyline points="49.55,240.40 51.89,226.27 54.80,204.91 57.72,183.55 60.63,164.13 63.55,150.54 66.46,140.83 69.38,137.40 72.29,137.91 76.18,141.80 80.06,150.54 83.95,162.19 87.84,175.78 91.72,191.32 95.61,208.79 98.52,224.33 101.44,240.40 176.50,240.40" fill="none" stroke="#00ff00" stroke-width="1.15" stroke-linejoin="round"/><polyline points="49.55,268.91 50.26,268.91 50.26,268.91 51.67,268.91 51.67,268.91 53.08,268.91 53.08,273.55 54.49,273.55 54.49,292.32 55.90,292.32 55.90,299.53 57.31,299.53 57.31,306.24 58.72,306.24 58.72,315.34 60.13,315.34 60.13,321.40 61.54,321.40 61.54,326.20 62.95,326.20 62.95,330.37 64.36,330.37 64.36,333.89 65.78,333.89 65.78,336.92 67.19,336.92 67.19,339.43 68.60,339.43 68.60,341.31 70.01,341.31 70.01,343.07 71.42,343.07 71.42,344.48 72.83,344.48 72.83,345.89 74.24,345.89 74.24,347.30 75.65,347.30 75.65,348.71 77.06,348.71 77.06,350.12 78.47,350.12 78.47,351.49 79.88,351.49 79.88,352.34 81.29,352.34 81.29,353.19 82.70,353.19 82.70,353.90 84.11,353.90 84.11,354.33 85.52,354.33 85.52,354.75 86.93,354.75 86.93,355.13 88.34,355.13 88.34,355.49 89.75,355.49 89.75,355.84 91.16,355.84 91.16,356.05 92.57,356.05 92.57,356.23 93.99,356.23 93.99,356.40 95.40,356.40 95.40,356.58 96.81,356.58 96.81,356.76 98.22,356.76 98.22,356.93 99.63,356.93 99.63,357.11 101.04,357.11 101.04,357.28 102.45,357.28 102.45,357.46 103.86,357.46 103.86,357.64 105.27,357.64 105.27,357.81 106.68,357.81 106.68,358.01 108.09,358.01 108.09,358.20 109.50,358.20 109.50,358.40 110.91,358.40 110.91,358.60 112.32,358.60 112.32,358.79 113.73,358.79 113.73,358.99 115.14,358.99 115.14,359.19 116.55,359.19 116.55,359.39 117.96,359.39 117.96,359.58 119.37,359.58 119.37,359.78 120.79,359.78 120.79,359.98 122.20,359.98 122.20,360.18 123.61,360.18 123.61,360.37 125.02,360.37 125.02,360.57 126.43,360.57 126.43,360.71 127.84,360.71 127.84,360.85 129.25,360.85 129.25,360.99 130.66,360.99 130.66,361.13 132.07,361.13 132.07,361.28 133.48,361.28 133.48,361.42 134.89,361.42 134.89,361.57 136.30,361.57 136.30,361.78 137.71,361.78 137.71,361.99 139.12,361.99 139.12,362.20 140.53,362.20 140.53,362.41 141.94,362.41 141.94,362.62 143.35,362.62 143.35,363.04 144.76,363.04 144.76,363.61 146.17,363.61 146.17,364.17 147.58,364.17 147.58,364.74 149.00,364.74 149.00,365.43 150.41,365.43 150.41,366.28 151.82,366.28 151.82,367.12 153.23,367.12 153.23,367.77 154.64,367.77 154.64,368.33 156.05,368.33 156.05,368.90 157.46,368.90 157.46,369.46 158.87,369.46 158.87,370.02 160.28,370.02 160.28,370.53 161.69,370.53 161.69,370.81 163.10,370.81 163.10,371.10 164.51,371.10 164.51,371.26 165.92,371.26 165.92,371.29 167.33,371.29 167.33,371.31 168.74,371.31 168.74,371.33 170.15,371.33 170.15,371.35 171.56,371.35 171.56,371.38 172.97,371.38 172.97,371.40 174.38,371.40 174.38,371.42 176.50,371.42 176.50,371.45 176.50,371.45" fill="none" stroke="#ff0000" stroke-width="1.15" stroke-linejoin="round"/><polyline points="49.55,371.83 50.26,371.83 50.26,371.83 51.67,371.83 51.67,371.83 53.08,371.83 53.08,371.83 54.49,371.83 54.49,349.37 55.90,349.37 55.90,342.56 57.31,342.56 57.31,336.45 58.72,336.45 58.72,326.90 60.13,326.90 60.13,320.32 61.54,320.32 61.54,315.52 62.95,315.52 62.95,311.35 64.36,311.35 64.36,307.83 65.78,307.83 65.78,304.80 67.19,304.80 67.19,302.13 68.60,302.13 68.60,299.78 70.01,299.78 70.01,297.43 71.42,297.43 71.42,295.08 72.83,295.08 72.83,292.92 74.24,292.92 74.24,291.51 75.65,291.51 75.65,290.19 77.06,290.19 77.06,289.53 78.47,289.53 78.47,288.87 79.88,288.87 79.88,288.12 81.29,288.12 81.29,287.37 82.70,287.37 82.70,286.66 84.11,286.66 84.11,285.96 85.52,285.96 85.52,285.34 86.93,285.34 86.93,284.98 88.34,284.98 88.34,284.63 89.75,284.63 89.75,284.31 91.16,284.31 91.16,284.03 92.57,284.03 92.57,283.75 93.99,283.75 93.99,283.46 95.40,283.46 95.40,283.11 96.81,283.11 96.81,282.76 98.22,282.76 98.22,282.46 99.63,282.46 99.63,282.28 101.04,282.28 101.04,282.10 102.45,282.10 102.45,281.93 103.86,281.93 103.86,281.75 105.27,281.75 105.27,281.58 106.68,281.58 106.68,281.43 108.09,281.43 108.09,281.29 109.50,281.29 109.50,281.14 110.91,281.14 110.91,281.00 112.32,281.00 112.32,280.86 113.73,280.86 113.73,280.72 115.14,280.72 115.14,280.58 116.55,280.58 116.55,280.44 117.96,280.44 117.96,280.30 119.37,280.30 119.37,280.16 120.79,280.16 120.79,280.02 122.20,280.02 122.20,279.88 123.61,279.88 123.61,279.74 125.02,279.74 125.02,279.59 126.43,279.59 126.43,279.37 127.84,279.37 127.84,279.14 129.25,279.14 129.25,278.92 130.66,278.92 130.66,278.69 132.07,278.69 132.07,278.47 133.48,278.47 133.48,278.24 134.89,278.24 134.89,278.01 136.30,278.01 136.30,277.77 137.71,277.77 137.71,277.52 139.12,277.52 139.12,277.27 140.53,277.27 140.53,277.03 141.94,277.03 141.94,276.78 143.35,276.78 143.35,276.26 144.76,276.26 144.76,275.56 146.17,275.56 146.17,274.85 147.58,274.85 147.58,274.15 149.00,274.15 149.00,273.55 150.41,273.55 150.41,273.08 151.82,273.08 151.82,272.61 153.23,272.61 153.23,272.14 154.64,272.14 154.64,271.70 156.05,271.70 156.05,271.33 157.46,271.33 157.46,270.95 158.87,270.95 158.87,270.57 160.28,270.57 160.28,270.24 161.69,270.24 161.69,270.05 163.10,270.05 163.10,269.86 164.51,269.86 164.51,269.67 165.92,269.67 165.92,269.49 167.33,269.49 167.33,269.44 168.74,269.44 168.74,269.38 170.15,269.38 170.15,269.33 171.56,269.33 171.56,269.27 172.97,269.27 172.97,269.22 174.38,269.22 174.38,269.16 176.50,269.16 176.50,269.11 176.50,269.11" fill="none" stroke="#0000ff" stroke-width="1.15" stroke-linejoin="round"/><polyline points="49.60,371.30 51.30,345.00 52.90,320.30 54.60,298.90 56.20,282.50 57.90,274.20 60.30,269.30 61.20,268.90 62.00,269.30 64.50,272.60 66.90,280.80 69.40,295.60 71.90,313.70 74.30,331.80 76.80,351.60 78.90,371.90 176.50,371.90" fill="none" stroke="#00ff00" stroke-width="1.15" stroke-linejoin="round"/><polyline points="49.55,400.50 50.26,400.50 50.26,400.50 51.67,400.50 51.67,400.50 53.08,400.50 53.08,400.50 54.49,400.50 54.49,401.47 55.90,401.47 55.90,406.05 57.31,406.05 57.31,414.82 58.72,414.82 58.72,421.75 60.13,421.75 60.13,425.60 61.54,425.60 61.54,428.42 62.95,428.42 62.95,431.24 64.36,431.24 64.36,434.53 65.78,434.53 65.78,439.25 67.19,439.25 67.19,448.84 68.60,448.84 68.60,453.97 70.01,453.97 70.01,457.66 71.42,457.66 71.42,461.18 72.83,461.18 72.83,464.70 74.24,464.70 74.24,468.23 75.65,468.23 75.65,471.18 77.06,471.18 77.06,473.69 78.47,473.69 78.47,475.76 79.88,475.76 79.88,477.17 81.29,477.17 81.29,478.58 82.70,478.58 82.70,479.99 84.11,479.99 84.11,481.40 85.52,481.40 85.52,482.16 86.93,482.16 86.93,482.86 88.34,482.86 88.34,483.57 89.75,483.57 89.75,484.27 91.16,484.27 91.16,484.97 92.57,484.97 92.57,485.58 93.99,485.58 93.99,486.05 95.40,486.05 95.40,486.52 96.81,486.52 96.81,486.99 98.22,486.99 98.22,487.43 99.63,487.43 99.63,487.78 101.04,487.78 101.04,488.13 102.45,488.13 102.45,488.49 103.86,488.49 103.86,488.84 105.27,488.84 105.27,489.19 106.68,489.19 106.68,489.49 108.09,489.49 108.09,489.77 109.50,489.77 109.50,490.05 110.91,490.05 110.91,490.33 112.32,490.33 112.32,490.62 113.73,490.62 113.73,490.90 115.14,490.90 115.14,491.18 116.55,491.18 116.55,491.46 117.96,491.46 117.96,491.74 119.37,491.74 119.37,492.03 120.79,492.03 120.79,492.31 122.20,492.31 122.20,492.59 123.61,492.59 123.61,492.87 125.02,492.87 125.02,493.15 126.43,493.15 126.43,493.43 127.84,493.43 127.84,493.72 129.25,493.72 129.25,494.00 130.66,494.00 130.66,494.28 132.07,494.28 132.07,494.56 133.48,494.56 133.48,494.84 134.89,494.84 134.89,495.13 136.30,495.13 136.30,495.41 137.71,495.41 137.71,495.69 139.12,495.69 139.12,495.97 140.53,495.97 140.53,496.25 141.94,496.25 141.94,496.54 143.35,496.54 143.35,496.82 144.76,496.82 144.76,497.10 146.17,497.10 146.17,497.38 147.58,497.38 147.58,497.66 149.00,497.66 149.00,497.95 150.41,497.95 150.41,498.23 151.82,498.23 151.82,498.51 153.23,498.51 153.23,498.79 154.64,498.79 154.64,499.07 156.05,499.07 156.05,499.36 157.46,499.36 157.46,499.64 158.87,499.64 158.87,499.92 160.28,499.92 160.28,500.20 161.69,500.20 161.69,500.48 163.10,500.48 163.10,500.76 164.51,500.76 164.51,500.97 165.92,500.97 165.92,501.09 167.33,501.09 167.33,501.20 168.74,501.20 168.74,501.32 170.15,501.32 170.15,501.43 171.56,501.43 171.56,501.55 172.97,501.55 172.97,501.66 174.38,501.66 174.38,501.78 176.50,501.78 176.50,501.89 176.50,501.89" fill="none" stroke="#ff0000" stroke-width="1.15" stroke-linejoin="round"/><polyline points="49.55,503.40 50.26,503.40 50.26,503.40 51.67,503.40 51.67,503.40 53.08,503.40 53.08,503.40 54.49,503.40 54.49,503.40 55.90,503.40 55.90,499.99 57.31,499.99 57.31,493.10 58.72,493.10 58.72,485.04 60.13,485.04 60.13,478.54 61.54,478.54 61.54,474.38 62.95,474.38 62.95,471.51 64.36,471.51 64.36,467.98 65.78,467.98 65.78,460.02 67.19,460.02 67.19,452.48 68.60,452.48 68.60,447.87 70.01,447.87 70.01,444.77 71.42,444.77 71.42,441.63 72.83,441.63 72.83,438.24 74.24,438.24 74.24,435.42 75.65,435.42 75.65,432.60 77.06,432.60 77.06,429.78 78.47,429.78 78.47,427.02 79.88,427.02 79.88,425.14 81.29,425.14 81.29,423.26 82.70,423.26 82.70,422.31 84.11,422.31 84.11,421.37 85.52,421.37 85.52,420.43 86.93,420.43 86.93,419.49 88.34,419.49 88.34,418.55 89.75,418.55 89.75,417.61 91.16,417.61 91.16,416.86 92.57,416.86 92.57,416.16 93.99,416.16 93.99,415.46 95.40,415.46 95.40,414.99 96.81,414.99 96.81,414.52 98.22,414.52 98.22,414.05 99.63,414.05 99.63,413.58 101.04,413.58 101.04,413.11 102.45,413.11 102.45,412.64 103.86,412.64 103.86,412.17 105.27,412.17 105.27,411.70 106.68,411.70 106.68,411.38 108.09,411.38 108.09,411.09 109.50,411.09 109.50,410.81 110.91,410.81 110.91,410.53 112.32,410.53 112.32,410.25 113.73,410.25 113.73,409.97 115.14,409.97 115.14,409.68 116.55,409.68 116.55,409.53 117.96,409.53 117.96,409.39 119.37,409.39 119.37,409.25 120.79,409.25 120.79,409.10 122.20,409.10 122.20,408.96 123.61,408.96 123.61,408.82 125.02,408.82 125.02,408.68 126.43,408.68 126.43,408.40 127.84,408.40 127.84,408.12 129.25,408.12 129.25,407.84 130.66,407.84 130.66,407.55 132.07,407.55 132.07,407.27 133.48,407.27 133.48,406.99 134.89,406.99 134.89,406.72 136.30,406.72 136.30,406.52 137.71,406.52 137.71,406.32 139.12,406.32 139.12,406.13 140.53,406.13 140.53,405.93 141.94,405.93 141.94,405.73 143.35,405.73 143.35,405.53 144.76,405.53 144.76,405.32 146.17,405.32 146.17,405.04 147.58,405.04 147.58,404.75 149.00,404.75 149.00,404.47 150.41,404.47 150.41,404.19 151.82,404.19 151.82,403.91 153.23,403.91 153.23,403.63 154.64,403.63 154.64,403.36 156.05,403.36 156.05,403.14 157.46,403.14 157.46,402.91 158.87,402.91 158.87,402.69 160.28,402.69 160.28,402.46 161.69,402.46 161.69,402.24 163.10,402.24 163.10,402.01 164.51,402.01 164.51,401.83 165.92,401.83 165.92,401.72 167.33,401.72 167.33,401.60 168.74,401.60 168.74,401.49 170.15,401.49 170.15,401.37 171.56,401.37 171.56,401.26 172.97,401.26 172.97,401.14 174.38,401.14 174.38,401.03 176.50,401.03 176.50,400.91 176.50,400.91" fill="none" stroke="#0000ff" stroke-width="1.15" stroke-linejoin="round"/><polyline points="49.55,503.40 51.89,487.33 54.80,464.03 57.72,442.66 60.63,425.19 63.55,411.59 66.46,402.85 69.38,400.50 72.29,400.91 76.18,406.74 80.06,417.42 83.95,432.95 87.84,450.43 90.75,467.91 93.67,485.39 96.19,503.40 176.50,503.40" fill="none" stroke="#00ff00" stroke-width="1.15" stroke-linejoin="round"/><polyline points="49.60,529.50 50.31,529.50 50.31,529.50 51.72,529.50 51.72,529.50 53.12,529.50 53.12,529.50 54.53,529.50 54.53,529.50 55.95,529.50 55.95,532.06 57.36,532.06 57.36,537.88 58.77,537.88 58.77,543.38 60.17,543.38 60.17,546.83 61.59,546.83 61.59,550.39 63.00,550.39 63.00,554.77 64.41,554.77 64.41,559.37 65.81,559.37 65.81,563.69 67.23,563.69 67.23,567.98 68.64,567.98 68.64,572.12 70.05,572.12 70.05,575.76 71.45,575.76 71.45,578.65 72.87,578.65 72.87,581.49 74.28,581.49 74.28,584.32 75.69,584.32 75.69,587.10 77.09,587.10 77.09,589.85 78.51,589.85 78.51,591.60 79.92,591.60 79.92,593.35 81.33,593.35 81.33,595.10 82.73,595.10 82.73,596.86 84.14,596.86 84.14,598.45 85.56,598.45 85.56,599.86 86.97,599.86 86.97,601.22 88.38,601.22 88.38,602.25 89.79,602.25 89.79,603.27 91.20,603.27 91.20,604.33 92.61,604.33 92.61,605.40 94.02,605.40 94.02,606.47 95.42,606.47 95.42,607.54 96.84,607.54 96.84,608.57 98.25,608.57 98.25,609.25 99.66,609.25 99.66,609.94 101.07,609.94 101.07,610.67 102.48,610.67 102.48,611.42 103.89,611.42 103.89,612.03 105.30,612.03 105.30,612.50 106.70,612.50 106.70,612.96 108.12,612.96 108.12,613.39 109.53,613.39 109.53,613.82 110.94,613.82 110.94,614.22 112.35,614.22 112.35,614.63 113.76,614.63 113.76,615.44 115.17,615.44 115.17,616.25 116.58,616.25 116.58,616.54 117.98,616.54 117.98,616.77 119.39,616.77 119.39,617.01 120.81,617.01 120.81,617.24 122.22,617.24 122.22,617.57 123.63,617.57 123.63,617.92 125.04,617.92 125.04,618.27 126.45,618.27 126.45,618.63 127.86,618.63 127.86,618.98 129.26,618.98 129.26,619.33 130.68,619.33 130.68,619.68 132.09,619.68 132.09,620.03 133.50,620.03 133.50,620.39 134.91,620.39 134.91,620.74 136.31,620.74 136.31,621.09 137.73,621.09 137.73,621.44 139.13,621.44 139.13,621.80 140.55,621.80 140.55,622.15 141.95,622.15 141.95,622.50 143.37,622.50 143.37,622.85 144.78,622.85 144.78,623.21 146.19,623.21 146.19,623.56 147.60,623.56 147.60,623.91 149.00,623.91 149.00,624.26 150.42,624.26 150.42,624.61 151.82,624.61 151.82,624.97 153.24,624.97 153.24,625.40 154.65,625.40 154.65,625.87 156.06,625.87 156.06,626.34 157.47,626.34 157.47,626.81 158.88,626.81 158.88,627.42 160.29,627.42 160.29,628.12 161.69,628.12 161.69,628.83 163.11,628.83 163.11,629.53 164.51,629.53 164.51,630.09 165.93,630.09 165.93,630.47 167.34,630.47 167.34,630.84 168.75,630.84 168.75,631.22 170.16,631.22 170.16,631.50 171.56,631.50 171.56,631.59 172.98,631.59 172.98,631.68 174.38,631.68 174.38,631.77 176.50,631.77 176.50,631.86 176.50,631.86" fill="none" stroke="#ff0000" stroke-width="1.15" stroke-linejoin="round"/><polyline points="49.60,632.40 50.31,632.40 50.31,632.40 51.72,632.40 51.72,632.40 53.12,632.40 53.12,632.40 54.53,632.40 54.53,632.40 55.95,632.40 55.95,628.28 57.36,628.28 57.36,620.04 58.77,620.04 58.77,616.76 60.17,616.76 60.17,613.37 61.59,613.37 61.59,609.26 63.00,609.26 63.00,605.05 64.41,605.05 64.41,600.83 65.81,600.83 65.81,596.49 67.23,596.49 67.23,592.25 68.64,592.25 68.64,588.84 70.05,588.84 70.05,585.92 71.45,585.92 71.45,583.15 72.87,583.15 72.87,580.36 74.28,580.36 74.28,577.90 75.69,577.90 75.69,575.79 77.09,575.79 77.09,573.65 78.51,573.65 78.51,571.90 79.92,571.90 79.92,570.15 81.33,570.15 81.33,568.40 82.73,568.40 82.73,566.64 84.14,566.64 84.14,564.89 85.56,564.89 85.56,563.14 86.97,563.14 86.97,561.43 88.38,561.43 88.38,560.02 89.79,560.02 89.79,558.61 91.20,558.61 91.20,557.20 92.61,557.20 92.61,555.79 94.02,555.79 94.02,554.38 95.42,554.38 95.42,552.97 96.84,552.97 96.84,551.64 98.25,551.64 98.25,551.09 99.66,551.09 99.66,550.53 101.07,550.53 101.07,550.00 102.48,550.00 102.48,549.48 103.89,549.48 103.89,548.95 105.30,548.95 105.30,548.31 106.70,548.31 106.70,547.62 108.12,547.62 108.12,546.92 109.53,546.92 109.53,546.23 110.94,546.23 110.94,545.76 112.35,545.76 112.35,545.34 113.76,545.34 113.76,544.93 115.17,544.93 115.17,544.51 116.58,544.51 116.58,544.07 117.98,544.07 117.98,543.64 119.39,543.64 119.39,543.20 120.81,543.20 120.81,542.77 122.22,542.77 122.22,542.35 123.63,542.35 123.63,541.93 125.04,541.93 125.04,541.51 126.45,541.51 126.45,541.09 127.86,541.09 127.86,540.66 129.26,540.66 129.26,540.22 130.68,540.22 130.68,539.78 132.09,539.78 132.09,539.35 133.50,539.35 133.50,538.94 134.91,538.94 134.91,538.52 136.31,538.52 136.31,538.10 137.73,538.10 137.73,537.69 139.13,537.69 139.13,537.28 140.55,537.28 140.55,536.87 141.95,536.87 141.95,536.46 143.37,536.46 143.37,536.03 144.78,536.03 144.78,535.58 146.19,535.58 146.19,535.14 147.60,535.14 147.60,534.69 149.00,534.69 149.00,534.28 150.42,534.28 150.42,533.87 151.82,533.87 151.82,533.46 153.24,533.46 153.24,533.05 154.65,533.05 154.65,532.75 156.06,532.75 156.06,532.47 157.47,532.47 157.47,532.19 158.88,532.19 158.88,531.90 160.29,531.90 160.29,531.62 161.69,531.62 161.69,531.33 163.11,531.33 163.11,531.04 164.51,531.04 164.51,530.76 165.93,530.76 165.93,530.53 167.34,530.53 167.34,530.30 168.75,530.30 168.75,530.07 170.16,530.07 170.16,529.87 171.56,529.87 171.56,529.75 172.98,529.75 172.98,529.64 174.38,529.64 174.38,529.52 176.50,529.52 176.50,529.40 176.50,529.40" fill="none" stroke="#0000ff" stroke-width="1.15" stroke-linejoin="round"/><polyline points="49.60,632.40 52.10,606.00 54.60,587.90 57.10,573.10 59.50,559.90 62.80,548.40 66.10,539.30 69.40,533.60 72.70,530.30 75.20,529.50 77.60,530.30 80.90,533.60 84.20,539.30 87.50,546.80 90.80,555.00 94.10,564.90 97.40,576.40 100.70,589.60 103.90,602.70 107.20,617.50 109.70,632.40 176.50,632.40" fill="none" stroke="#00ff00" stroke-width="1.15" stroke-linejoin="round"/><polyline points="213.20,7.30 213.50,101.00 213.80,103.90 214.50,105.60 215.80,107.70 217.70,108.90 219.50,109.80 222.00,110.10 339.60,110.10" fill="none" stroke="#ff0000" stroke-width="1.15" stroke-linejoin="round"/><polyline points="213.20,110.10 213.50,16.40 213.80,13.50 214.50,11.80 215.80,9.70 217.70,8.50 219.50,7.60 222.00,7.30 339.60,7.30" fill="none" stroke="#0000ff" stroke-width="1.15" stroke-linejoin="round"/><polyline points="213.10,110.10 213.25,7.30 213.45,110.10 339.60,110.10" fill="none" stroke="#00ff00" stroke-width="1.15" stroke-linejoin="round"/><polyline points="213.20,138.40 213.50,232.10 213.80,235.10 214.50,236.80 215.80,238.90 217.70,240.10 219.50,240.90 222.00,241.20 339.60,241.20" fill="none" stroke="#ff0000" stroke-width="1.15" stroke-linejoin="round"/><polyline points="213.20,241.20 213.50,147.50 213.80,144.50 214.50,142.80 215.80,140.70 217.70,139.50 219.50,138.70 222.00,138.40 339.60,138.40" fill="none" stroke="#0000ff" stroke-width="1.15" stroke-linejoin="round"/><polyline points="213.10,241.20 213.25,138.40 213.45,241.20 339.60,241.20" fill="none" stroke="#00ff00" stroke-width="1.15" stroke-linejoin="round"/><polyline points="213.20,268.90 213.20,361.00 214.40,364.50 217.60,365.60 219.20,367.70 220.70,369.80 225.90,370.40 232.20,370.80 238.50,371.60 245.00,371.90 339.60,371.90" fill="none" stroke="#ff0000" stroke-width="1.15" stroke-linejoin="round"/><polyline points="213.20,371.90 213.20,280.00 213.80,277.10 216.50,275.60 218.00,274.60 219.20,272.50 220.70,271.00 225.90,270.00 232.20,269.30 240.00,268.90 339.60,268.90" fill="none" stroke="#0000ff" stroke-width="1.15" stroke-linejoin="round"/><polyline points="213.10,371.90 213.25,268.90 213.45,371.90 339.60,371.90" fill="none" stroke="#00ff00" stroke-width="1.15" stroke-linejoin="round"/><polyline points="213.20,399.70 213.20,490.00 214.40,496.60 216.50,498.70 219.60,500.80 225.90,501.40 232.20,501.90 240.00,502.40 339.60,502.60" fill="none" stroke="#ff0000" stroke-width="1.15" stroke-linejoin="round"/><polyline points="213.20,502.60 213.20,412.00 213.80,406.60 215.50,403.50 217.60,401.40 219.60,400.40 225.90,399.90 232.00,399.70 339.60,399.70" fill="none" stroke="#0000ff" stroke-width="1.15" stroke-linejoin="round"/><polyline points="213.10,502.60 213.25,399.70 213.45,502.60 339.60,502.60" fill="none" stroke="#00ff00" stroke-width="1.15" stroke-linejoin="round"/><polyline points="213.20,529.30 213.20,618.30 213.80,624.50 215.50,627.70 217.60,629.80 219.20,630.80 225.90,631.20 232.20,631.90 240.00,632.20 339.60,632.30" fill="none" stroke="#ff0000" stroke-width="1.15" stroke-linejoin="round"/><polyline points="213.20,632.30 213.20,545.00 213.80,539.80 215.50,535.60 217.60,533.50 219.20,530.40 220.70,530.00 232.00,529.60 339.60,529.30" fill="none" stroke="#0000ff" stroke-width="1.15" stroke-linejoin="round"/><polyline points="213.10,632.30 213.25,529.30 213.45,632.30 339.60,632.30" fill="none" stroke="#00ff00" stroke-width="1.15" stroke-linejoin="round"/><polyline points="376.50,10.33 377.61,10.33 377.61,10.33 379.82,10.33 379.82,10.33 382.04,10.33 382.04,10.33 384.26,10.33 384.26,12.72 386.47,12.72 386.47,19.11 388.69,19.11 388.69,29.03 390.90,29.03 390.90,29.81 393.12,29.81 393.12,31.60 395.33,31.60 395.33,35.25 397.55,35.25 397.55,39.54 399.77,39.54 399.77,49.43 401.98,49.43 401.98,53.16 404.20,53.16 404.20,55.53 406.41,55.53 406.41,58.01 408.63,58.01 408.63,62.15 410.84,62.15 410.84,65.33 413.06,65.33 413.06,70.34 415.28,70.34 415.28,75.09 417.49,75.09 417.49,75.31 419.71,75.31 419.71,75.93 421.92,75.93 421.92,79.73 424.14,79.73 424.14,82.35 426.36,82.35 426.36,86.79 428.57,86.79 428.57,88.63 430.79,88.63 430.79,89.47 433.00,89.47 433.00,90.36 435.22,90.36 435.22,91.47 437.43,91.47 437.43,92.22 439.65,92.22 439.65,92.78 441.87,92.78 441.87,93.33 444.08,93.33 444.08,93.89 446.30,93.89 446.30,94.44 448.51,94.44 448.51,95.00 450.73,95.00 450.73,95.55 452.94,95.55 452.94,96.11 455.16,96.11 455.16,96.66 457.38,96.66 457.38,97.05 459.59,97.05 459.59,97.38 461.81,97.38 461.81,97.61 464.02,97.61 464.02,97.89 466.24,97.89 466.24,98.44 468.46,98.44 468.46,98.91 470.67,98.91 470.67,99.25 472.89,99.25 472.89,99.64 475.10,99.64 475.10,100.09 477.32,100.09 477.32,100.44 479.53,100.44 479.53,100.78 481.75,100.78 481.75,101.34 483.97,101.34 483.97,101.86 486.18,101.86 486.18,102.31 488.40,102.31 488.40,102.79 490.61,102.79 490.61,104.26 492.83,104.26 492.83,105.48 495.04,105.48 495.04,105.69 497.26,105.69 497.26,105.69 499.48,105.69 499.48,105.69 502.80,105.69 502.80,107.67 502.80,107.67" fill="none" stroke="#ff0000" stroke-width="1.15" stroke-linejoin="round"/><polyline points="376.50,7.37 376.50,83.98 376.76,99.77 377.55,104.71 378.93,107.67 380.91,109.25 383.87,110.04 502.80,110.04" fill="none" stroke="#00ffff" stroke-width="1.15" stroke-linejoin="round"/><polyline points="376.50,138.55 377.20,138.55 377.20,138.55 378.61,138.55 378.61,138.55 380.01,138.55 380.01,138.55 381.41,138.55 381.41,139.31 382.81,139.31 382.81,143.73 384.22,143.73 384.22,149.16 385.62,149.16 385.62,153.67 387.02,153.67 387.02,156.10 388.43,156.10 388.43,158.20 389.83,158.20 389.83,160.31 391.24,160.31 391.24,163.00 392.64,163.00 392.64,166.40 394.04,166.40 394.04,171.58 395.44,171.58 395.44,174.61 396.85,174.61 396.85,178.21 398.25,178.21 398.25,181.98 399.65,181.98 399.65,184.79 401.06,184.79 401.06,187.60 402.46,187.60 402.46,190.13 403.87,190.13 403.87,192.23 405.27,192.23 405.27,194.34 406.67,194.34 406.67,196.45 408.07,196.45 408.07,198.55 409.48,198.55 409.48,200.66 410.88,200.66 410.88,202.55 412.28,202.55 412.28,203.95 413.69,203.95 413.69,204.60 415.09,204.60 415.09,205.26 416.50,205.26 416.50,205.91 417.90,205.91 417.90,206.74 419.30,206.74 419.30,208.57 420.71,208.57 420.71,210.60 422.11,210.60 422.11,212.16 423.51,212.16 423.51,212.63 424.92,212.63 424.92,213.15 426.32,213.15 426.32,213.85 427.72,213.85 427.72,214.55 429.12,214.55 429.12,215.17 430.53,215.17 430.53,215.66 431.93,215.66 431.93,216.15 433.34,216.15 433.34,216.60 434.74,216.60 434.74,217.02 436.14,217.02 436.14,217.44 437.55,217.44 437.55,217.68 438.95,217.68 438.95,217.87 440.35,217.87 440.35,218.05 441.75,218.05 441.75,218.24 443.16,218.24 443.16,218.48 444.56,218.48 444.56,218.76 445.97,218.76 445.97,219.04 447.37,219.04 447.37,219.32 448.77,219.32 448.77,219.59 450.18,219.59 450.18,219.82 451.58,219.82 451.58,220.06 452.98,220.06 452.98,220.29 454.38,220.29 454.38,220.54 455.79,220.54 455.79,220.86 457.19,220.86 457.19,221.19 458.60,221.19 458.60,221.52 460.00,221.52 460.00,221.85 461.40,221.85 461.40,222.17 462.81,222.17 462.81,222.50 464.21,222.50 464.21,222.83 465.61,222.83 465.61,223.16 467.01,223.16 467.01,223.52 468.42,223.52 468.42,223.89 469.82,223.89 469.82,224.27 471.23,224.27 471.23,224.64 472.63,224.64 472.63,225.06 474.03,225.06 474.03,225.53 475.44,225.53 475.44,226.00 476.84,226.00 476.84,226.46 478.24,226.46 478.24,226.99 479.64,226.99 479.64,227.70 481.05,227.70 481.05,228.40 482.45,228.40 482.45,229.10 483.86,229.10 483.86,229.80 485.26,229.80 485.26,230.51 486.66,230.51 486.66,231.34 488.06,231.34 488.06,232.25 489.47,232.25 489.47,233.17 490.87,233.17 490.87,234.02 492.28,234.02 492.28,234.86 493.68,234.86 493.68,235.69 495.08,235.69 495.08,235.69 496.49,235.69 496.49,235.69 497.89,235.69 497.89,235.69 499.29,235.69 499.29,235.69 500.70,235.69 500.70,235.69 502.80,235.69 502.80,237.67 502.80,237.67" fill="none" stroke="#ff0000" stroke-width="1.15" stroke-linejoin="round"/><polyline points="376.50,137.50 376.50,213.98 376.96,227.80 377.95,233.72 379.52,236.68 381.89,239.05 385.84,240.24 502.80,240.24" fill="none" stroke="#00ffff" stroke-width="1.15" stroke-linejoin="round"/><polyline points="376.50,271.53 377.20,271.53 377.20,271.53 378.61,271.53 378.61,271.53 380.01,271.53 380.01,274.22 381.41,274.22 381.41,288.73 382.81,288.73 382.81,292.22 384.22,292.22 384.22,296.02 385.62,296.02 385.62,304.45 387.02,304.45 387.02,310.04 388.43,310.04 388.43,314.30 389.83,314.30 389.83,318.22 391.24,318.22 391.24,321.73 392.64,321.73 392.64,325.24 394.04,325.24 394.04,328.75 395.44,328.75 395.44,332.04 396.85,332.04 396.85,334.85 398.25,334.85 398.25,337.66 399.65,337.66 399.65,340.00 401.06,340.00 401.06,341.87 402.46,341.87 402.46,343.56 403.87,343.56 403.87,344.96 405.27,344.96 405.27,346.26 406.67,346.26 406.67,347.32 408.07,347.32 408.07,348.37 409.48,348.37 409.48,349.26 410.88,349.26 410.88,349.96 412.28,349.96 412.28,350.66 413.69,350.66 413.69,351.22 415.09,351.22 415.09,351.72 416.50,351.72 416.50,352.21 417.90,352.21 417.90,352.48 419.30,352.48 419.30,352.71 420.71,352.71 420.71,352.95 422.11,352.95 422.11,353.18 423.51,353.18 423.51,353.36 424.92,353.36 424.92,353.50 426.32,353.50 426.32,353.64 427.72,353.64 427.72,353.78 429.12,353.78 429.12,353.93 430.53,353.93 430.53,354.11 431.93,354.11 431.93,354.28 433.34,354.28 433.34,354.46 434.74,354.46 434.74,354.64 436.14,354.64 436.14,354.81 437.55,354.81 437.55,355.01 438.95,355.01 438.95,355.23 440.35,355.23 440.35,355.44 441.75,355.44 441.75,355.65 443.16,355.65 443.16,355.86 444.56,355.86 444.56,356.07 445.97,356.07 445.97,356.28 447.37,356.28 447.37,356.49 448.77,356.49 448.77,356.70 450.18,356.70 450.18,356.91 451.58,356.91 451.58,357.12 452.98,357.12 452.98,357.31 454.38,357.31 454.38,357.49 455.79,357.49 455.79,357.66 457.19,357.66 457.19,357.84 458.60,357.84 458.60,358.01 460.00,358.01 460.00,358.19 461.40,358.19 461.40,358.37 462.81,358.37 462.81,358.54 464.21,358.54 464.21,358.72 465.61,358.72 465.61,358.89 467.01,358.89 467.01,359.07 468.42,359.07 468.42,359.30 469.82,359.30 469.82,359.68 471.23,359.68 471.23,360.05 472.63,360.05 472.63,360.43 474.03,360.43 474.03,360.83 475.44,360.83 475.44,361.68 476.84,361.68 476.84,362.52 478.24,362.52 478.24,363.38 479.64,363.38 479.64,364.29 481.05,364.29 481.05,365.21 482.45,365.21 482.45,366.12 483.86,366.12 483.86,367.03 485.26,367.03 485.26,367.94 486.66,367.94 486.66,368.81 488.06,368.81 488.06,369.66 489.47,369.66 489.47,370.50 490.87,370.50 490.87,370.93 492.28,370.93 492.28,371.28 493.68,371.28 493.68,371.63 495.08,371.63 495.08,371.63 496.49,371.63 496.49,371.63 497.89,371.63 497.89,371.63 499.29,371.63 499.29,371.63 500.70,371.63 500.70,371.63 502.80,371.63 502.80,371.63 502.80,371.63" fill="none" stroke="#ff0000" stroke-width="1.15" stroke-linejoin="round"/><polyline points="376.50,268.80 376.50,348.93 376.96,355.84 377.95,358.80 379.92,360.77 381.50,362.75 382.29,366.69 383.47,368.27 385.84,368.67 389.78,369.06 392.74,369.66 394.72,370.64 395.70,371.63 502.80,371.63" fill="none" stroke="#00ffff" stroke-width="1.15" stroke-linejoin="round"/><polyline points="376.50,401.55 377.20,401.55 377.20,401.55 378.61,401.55 378.61,401.55 380.01,401.55 380.01,401.55 381.41,401.55 381.41,402.31 382.81,402.31 382.81,407.19 384.22,407.19 384.22,412.60 385.62,412.60 385.62,416.67 387.02,416.67 387.02,418.65 388.43,418.65 388.43,420.22 389.83,420.22 389.83,422.32 391.24,422.32 391.24,424.43 392.64,424.43 392.64,428.03 394.04,428.03 394.04,433.57 395.44,433.57 395.44,434.97 396.85,434.97 396.85,437.23 398.25,437.23 398.25,440.19 399.65,440.19 399.65,443.70 401.06,443.70 401.06,447.21 402.46,447.21 402.46,450.72 403.87,450.72 403.87,454.23 405.27,454.23 405.27,456.35 406.67,456.35 406.67,458.46 408.07,458.46 408.07,460.69 409.48,460.69 409.48,463.50 410.88,463.50 410.88,466.31 412.28,466.31 412.28,468.86 413.69,468.86 413.69,470.97 415.09,470.97 415.09,472.40 416.50,472.40 416.50,473.42 417.90,473.42 417.90,474.22 419.30,474.22 419.30,475.62 420.71,475.62 420.71,476.68 422.11,476.68 422.11,477.62 423.51,477.62 423.51,478.41 424.92,478.41 424.92,479.11 426.32,479.11 426.32,479.81 427.72,479.81 427.72,480.69 429.12,480.69 429.12,481.60 430.53,481.60 430.53,482.51 431.93,482.51 431.93,483.00 433.34,483.00 433.34,483.49 434.74,483.49 434.74,484.02 436.14,484.02 436.14,484.73 437.55,484.73 437.55,485.43 438.95,485.43 438.95,485.99 440.35,485.99 440.35,486.31 441.75,486.31 441.75,486.64 443.16,486.64 443.16,486.97 444.56,486.97 444.56,487.30 445.97,487.30 445.97,487.65 447.37,487.65 447.37,488.00 448.77,488.00 448.77,488.35 450.18,488.35 450.18,488.71 451.58,488.71 451.58,489.06 452.98,489.06 452.98,489.37 454.38,489.37 454.38,489.65 455.79,489.65 455.79,489.93 457.19,489.93 457.19,490.21 458.60,490.21 458.60,490.49 460.00,490.49 460.00,490.77 461.40,490.77 461.40,491.05 462.81,491.05 462.81,491.34 464.21,491.34 464.21,491.62 465.61,491.62 465.61,491.90 467.01,491.90 467.01,492.18 468.42,492.18 468.42,492.45 469.82,492.45 469.82,492.69 471.23,492.69 471.23,492.94 472.63,492.94 472.63,493.19 474.03,493.19 474.03,493.43 475.44,493.43 475.44,493.68 476.84,493.68 476.84,493.99 478.24,493.99 478.24,494.34 479.64,494.34 479.64,494.70 481.05,494.70 481.05,495.05 482.45,495.05 482.45,495.40 483.86,495.40 483.86,495.75 485.26,495.75 485.26,496.22 486.66,496.22 486.66,496.69 488.06,496.69 488.06,497.16 489.47,497.16 489.47,497.63 490.87,497.63 490.87,497.98 492.28,497.98 492.28,498.31 493.68,498.31 493.68,498.63 495.08,498.63 495.08,498.96 496.49,498.96 496.49,499.12 497.89,499.12 497.89,499.16 499.29,499.16 499.29,499.20 500.70,499.20 500.70,499.24 502.80,499.24 502.80,499.29 502.80,499.29" fill="none" stroke="#ff0000" stroke-width="1.15" stroke-linejoin="round"/><polyline points="376.50,400.37 376.50,476.98 376.76,488.82 377.55,494.75 378.93,498.69 380.91,500.27 383.87,500.67 393.73,501.06 502.80,501.06" fill="none" stroke="#00ffff" stroke-width="1.15" stroke-linejoin="round"/><polyline points="376.50,530.36 377.20,530.36 377.20,530.36 378.61,530.36 378.61,530.36 380.01,530.36 380.01,530.36 381.41,530.36 381.41,530.36 382.81,530.36 382.81,534.04 384.22,534.04 384.22,537.96 385.62,537.96 385.62,539.92 387.02,539.92 387.02,541.33 388.43,541.33 388.43,543.54 389.83,543.54 389.83,547.11 391.24,547.11 391.24,551.35 392.64,551.35 392.64,554.85 394.04,554.85 394.04,557.65 395.44,557.65 395.44,560.46 396.85,560.46 396.85,563.27 398.25,563.27 398.25,565.94 399.65,565.94 399.65,568.04 401.06,568.04 401.06,571.67 402.46,571.67 402.46,575.28 403.87,575.28 403.87,578.30 405.27,578.30 405.27,580.91 406.67,580.91 406.67,583.02 408.07,583.02 408.07,585.12 409.48,585.12 409.48,587.23 410.88,587.23 410.88,589.34 412.28,589.34 412.28,591.44 413.69,591.44 413.69,593.55 415.09,593.55 415.09,595.48 416.50,595.48 416.50,596.88 417.90,596.88 417.90,598.28 419.30,598.28 419.30,599.69 420.71,599.69 420.71,600.75 422.11,600.75 422.11,601.68 423.51,601.68 423.51,602.62 424.92,602.62 424.92,603.55 426.32,603.55 426.32,604.49 427.72,604.49 427.72,605.43 429.12,605.43 429.12,606.21 430.53,606.21 430.53,606.77 431.93,606.77 431.93,607.33 433.34,607.33 433.34,607.85 434.74,607.85 434.74,608.34 436.14,608.34 436.14,608.83 437.55,608.83 437.55,609.49 438.95,609.49 438.95,610.19 440.35,610.19 440.35,610.90 441.75,610.90 441.75,611.26 443.16,611.26 443.16,611.61 444.56,611.61 444.56,611.99 445.97,611.99 445.97,612.55 447.37,612.55 447.37,613.12 448.77,613.12 448.77,613.65 450.18,613.65 450.18,614.14 451.58,614.14 451.58,614.64 452.98,614.64 452.98,615.11 454.38,615.11 454.38,615.58 455.79,615.58 455.79,616.05 457.19,616.05 457.19,616.52 458.60,616.52 458.60,616.99 460.00,616.99 460.00,617.45 461.40,617.45 461.40,617.92 462.81,617.92 462.81,618.39 464.21,618.39 464.21,618.84 465.61,618.84 465.61,619.17 467.01,619.17 467.01,619.50 468.42,619.50 468.42,619.83 469.82,619.83 469.82,620.15 471.23,620.15 471.23,620.73 472.63,620.73 472.63,621.34 474.03,621.34 474.03,621.95 475.44,621.95 475.44,622.56 476.84,622.56 476.84,623.07 478.24,623.07 478.24,623.54 479.64,623.54 479.64,624.01 481.05,624.01 481.05,624.48 482.45,624.48 482.45,625.01 483.86,625.01 483.86,625.62 485.26,625.62 485.26,626.22 486.66,626.22 486.66,626.83 488.06,626.83 488.06,627.41 489.47,627.41 489.47,627.88 490.87,627.88 490.87,628.35 492.28,628.35 492.28,628.81 493.68,628.81 493.68,629.28 495.08,629.28 495.08,629.77 496.49,629.77 496.49,630.26 497.89,630.26 497.89,630.66 499.29,630.66 499.29,630.66 500.70,630.66 500.70,630.66 502.80,630.66 502.80,630.66 502.80,630.66" fill="none" stroke="#ff0000" stroke-width="1.15" stroke-linejoin="round"/><polyline points="376.50,529.40 376.50,602.03 376.76,619.80 377.55,624.73 378.93,627.69 380.91,629.67 382.88,630.66 393.73,631.25 502.80,631.64" fill="none" stroke="#00ffff" stroke-width="1.15" stroke-linejoin="round"/><rect x="80.50" y="12.80" width="13.60" height="5.30" fill="none" stroke="#ff0000" stroke-width="1.1"/><text x="95.10" y="17.54" font-size="6.15" text-anchor="start" fill="#000" color="#000" font-weight="bold" class="lg">Exploration(Avg. 25.3919%)</text><rect x="80.50" y="20.00" width="13.60" height="5.30" fill="none" stroke="#0000ff" stroke-width="1.1"/><text x="95.10" y="24.74" font-size="6.15" text-anchor="start" fill="#000" color="#000" font-weight="bold" class="lg">Exploitation(Avg. 74.6081%)</text><rect x="80.50" y="27.20" width="13.60" height="5.30" fill="none" stroke="#00ff00" stroke-width="1.1"/><text x="95.10" y="31.94" font-size="6.15" text-anchor="start" fill="#000" color="#000" font-weight="bold" class="lg">Incremental-Decremental</text><rect x="244.90" y="12.65" width="13.60" height="5.30" fill="none" stroke="#ff0000" stroke-width="1.1"/><text x="259.50" y="17.39" font-size="6.15" text-anchor="start" fill="#000" color="#000" font-weight="bold" class="lg">Exploration(Avg. 0.36199%)</text><rect x="244.90" y="19.85" width="13.60" height="5.30" fill="none" stroke="#0000ff" stroke-width="1.1"/><text x="259.50" y="24.59" font-size="6.15" text-anchor="start" fill="#000" color="#000" font-weight="bold" class="lg">Exploitation(Avg. 99.638%)</text><rect x="244.90" y="27.05" width="13.60" height="5.30" fill="none" stroke="#00ff00" stroke-width="1.1"/><text x="259.50" y="31.79" font-size="6.15" text-anchor="start" fill="#000" color="#000" font-weight="bold" class="lg">Incremental-Decremental</text><rect x="452.00" y="12.75" width="13.60" height="5.30" fill="none" stroke="#ff0000" stroke-width="1.1"/><text x="466.60" y="17.49" font-size="6.15" text-anchor="start" fill="#000" color="#000" font-weight="bold" class="lg">DNMRIME</text><rect x="452.00" y="19.95" width="13.60" height="5.30" fill="none" stroke="#00ffff" stroke-width="1.1"/><text x="466.60" y="24.69" font-size="6.15" text-anchor="start" fill="#000" color="#000" font-weight="bold" class="lg">RIME</text><rect x="80.50" y="142.75" width="13.60" height="5.30" fill="none" stroke="#ff0000" stroke-width="1.1"/><text x="95.10" y="147.49" font-size="6.15" text-anchor="start" fill="#000" color="#000" font-weight="bold" class="lg">Exploration(Avg. 28.1278%)</text><rect x="80.50" y="149.95" width="13.60" height="5.30" fill="none" stroke="#0000ff" stroke-width="1.1"/><text x="95.10" y="154.69" font-size="6.15" text-anchor="start" fill="#000" color="#000" font-weight="bold" class="lg">Exploitation(Avg. 71.8722%)</text><rect x="80.50" y="157.15" width="13.60" height="5.30" fill="none" stroke="#00ff00" stroke-width="1.1"/><text x="95.10" y="161.89" font-size="6.15" text-anchor="start" fill="#000" color="#000" font-weight="bold" class="lg">Incremental-Decremental</text><rect x="244.90" y="143.75" width="13.60" height="5.30" fill="none" stroke="#ff0000" stroke-width="1.1"/><text x="259.50" y="148.49" font-size="6.15" text-anchor="start" fill="#000" color="#000" font-weight="bold" class="lg">Exploration(Avg. 0.55858%)</text><rect x="244.90" y="150.95" width="13.60" height="5.30" fill="none" stroke="#0000ff" stroke-width="1.1"/><text x="259.50" y="155.69" font-size="6.15" text-anchor="start" fill="#000" color="#000" font-weight="bold" class="lg">Exploitation(Avg. 99.4414%)</text><rect x="244.90" y="158.15" width="13.60" height="5.30" fill="none" stroke="#00ff00" stroke-width="1.1"/><text x="259.50" y="162.89" font-size="6.15" text-anchor="start" fill="#000" color="#000" font-weight="bold" class="lg">Incremental-Decremental</text><rect x="452.00" y="142.95" width="13.60" height="5.30" fill="none" stroke="#ff0000" stroke-width="1.1"/><text x="466.60" y="147.69" font-size="6.15" text-anchor="start" fill="#000" color="#000" font-weight="bold" class="lg">DNMRIME</text><rect x="452.00" y="150.15" width="13.60" height="5.30" fill="none" stroke="#00ffff" stroke-width="1.1"/><text x="466.60" y="154.89" font-size="6.15" text-anchor="start" fill="#000" color="#000" font-weight="bold" class="lg">RIME</text><rect x="80.50" y="274.25" width="13.60" height="5.30" fill="none" stroke="#ff0000" stroke-width="1.1"/><text x="95.10" y="278.99" font-size="6.15" text-anchor="start" fill="#000" color="#000" font-weight="bold" class="lg">Exploration(Avg. 19.3681%)</text><rect x="80.50" y="281.45" width="13.60" height="5.30" fill="none" stroke="#0000ff" stroke-width="1.1"/><text x="95.10" y="286.19" font-size="6.15" text-anchor="start" fill="#000" color="#000" font-weight="bold" class="lg">Exploitation(Avg. 80.6319%)</text><rect x="80.50" y="288.65" width="13.60" height="5.30" fill="none" stroke="#00ff00" stroke-width="1.1"/><text x="95.10" y="293.39" font-size="6.15" text-anchor="start" fill="#000" color="#000" font-weight="bold" class="lg">Incremental-Decremental</text><rect x="244.90" y="274.25" width="13.60" height="5.30" fill="none" stroke="#ff0000" stroke-width="1.1"/><text x="259.50" y="278.99" font-size="6.15" text-anchor="start" fill="#000" color="#000" font-weight="bold" class="lg">Exploration(Avg. 0.68758%)</text><rect x="244.90" y="281.45" width="13.60" height="5.30" fill="none" stroke="#0000ff" stroke-width="1.1"/><text x="259.50" y="286.19" font-size="6.15" text-anchor="start" fill="#000" color="#000" font-weight="bold" class="lg">Exploitation(Avg. 99.3124%)</text><rect x="244.90" y="288.65" width="13.60" height="5.30" fill="none" stroke="#00ff00" stroke-width="1.1"/><text x="259.50" y="293.39" font-size="6.15" text-anchor="start" fill="#000" color="#000" font-weight="bold" class="lg">Incremental-Decremental</text><rect x="452.00" y="274.25" width="13.60" height="5.30" fill="none" stroke="#ff0000" stroke-width="1.1"/><text x="466.60" y="278.99" font-size="6.15" text-anchor="start" fill="#000" color="#000" font-weight="bold" class="lg">DNMRIME</text><rect x="452.00" y="281.45" width="13.60" height="5.30" fill="none" stroke="#00ffff" stroke-width="1.1"/><text x="466.60" y="286.19" font-size="6.15" text-anchor="start" fill="#000" color="#000" font-weight="bold" class="lg">RIME</text><rect x="80.50" y="405.85" width="13.60" height="5.30" fill="none" stroke="#ff0000" stroke-width="1.1"/><text x="95.10" y="410.59" font-size="6.15" text-anchor="start" fill="#000" color="#000" font-weight="bold" class="lg">Exploration(Avg. 23.3185%)</text><rect x="80.50" y="413.05" width="13.60" height="5.30" fill="none" stroke="#0000ff" stroke-width="1.1"/><text x="95.10" y="417.79" font-size="6.15" text-anchor="start" fill="#000" color="#000" font-weight="bold" class="lg">Exploitation(Avg. 76.6815%)</text><rect x="80.50" y="420.25" width="13.60" height="5.30" fill="none" stroke="#00ff00" stroke-width="1.1"/><text x="95.10" y="424.99" font-size="6.15" text-anchor="start" fill="#000" color="#000" font-weight="bold" class="lg">Incremental-Decremental</text><rect x="244.90" y="405.05" width="13.60" height="5.30" fill="none" stroke="#ff0000" stroke-width="1.1"/><text x="259.50" y="409.79" font-size="6.15" text-anchor="start" fill="#000" color="#000" font-weight="bold" class="lg">Exploration(Avg. 0.56424%)</text><rect x="244.90" y="412.25" width="13.60" height="5.30" fill="none" stroke="#0000ff" stroke-width="1.1"/><text x="259.50" y="416.99" font-size="6.15" text-anchor="start" fill="#000" color="#000" font-weight="bold" class="lg">Exploitation(Avg. 99.4358%)</text><rect x="244.90" y="419.45" width="13.60" height="5.30" fill="none" stroke="#00ff00" stroke-width="1.1"/><text x="259.50" y="424.19" font-size="6.15" text-anchor="start" fill="#000" color="#000" font-weight="bold" class="lg">Incremental-Decremental</text><rect x="452.00" y="404.65" width="13.60" height="5.30" fill="none" stroke="#ff0000" stroke-width="1.1"/><text x="466.60" y="409.39" font-size="6.15" text-anchor="start" fill="#000" color="#000" font-weight="bold" class="lg">DNMRIME</text><rect x="452.00" y="411.85" width="13.60" height="5.30" fill="none" stroke="#00ffff" stroke-width="1.1"/><text x="466.60" y="416.59" font-size="6.15" text-anchor="start" fill="#000" color="#000" font-weight="bold" class="lg">RIME</text><rect x="80.50" y="534.75" width="13.60" height="5.30" fill="none" stroke="#ff0000" stroke-width="1.1"/><text x="95.10" y="539.49" font-size="6.15" text-anchor="start" fill="#000" color="#000" font-weight="bold" class="lg">Exploration(Avg. 28.1285%)</text><rect x="80.50" y="541.95" width="13.60" height="5.30" fill="none" stroke="#0000ff" stroke-width="1.1"/><text x="95.10" y="546.69" font-size="6.15" text-anchor="start" fill="#000" color="#000" font-weight="bold" class="lg">Exploitation(Avg. 71.8715%)</text><rect x="80.50" y="549.15" width="13.60" height="5.30" fill="none" stroke="#00ff00" stroke-width="1.1"/><text x="95.10" y="553.89" font-size="6.15" text-anchor="start" fill="#000" color="#000" font-weight="bold" class="lg">Incremental-Decremental</text><rect x="244.90" y="534.65" width="13.60" height="5.30" fill="none" stroke="#ff0000" stroke-width="1.1"/><text x="259.50" y="539.39" font-size="6.15" text-anchor="start" fill="#000" color="#000" font-weight="bold" class="lg">Exploration(Avg. 0.7444%)</text><rect x="244.90" y="541.85" width="13.60" height="5.30" fill="none" stroke="#0000ff" stroke-width="1.1"/><text x="259.50" y="546.59" font-size="6.15" text-anchor="start" fill="#000" color="#000" font-weight="bold" class="lg">Exploitation(Avg. 99.2556%)</text><rect x="244.90" y="549.05" width="13.60" height="5.30" fill="none" stroke="#00ff00" stroke-width="1.1"/><text x="259.50" y="553.79" font-size="6.15" text-anchor="start" fill="#000" color="#000" font-weight="bold" class="lg">Incremental-Decremental</text><rect x="452.00" y="534.85" width="13.60" height="5.30" fill="none" stroke="#ff0000" stroke-width="1.1"/><text x="466.60" y="539.59" font-size="6.15" text-anchor="start" fill="#000" color="#000" font-weight="bold" class="lg">DNMRIME</text><rect x="452.00" y="542.05" width="13.60" height="5.30" fill="none" stroke="#00ffff" stroke-width="1.1"/><text x="466.60" y="546.79" font-size="6.15" text-anchor="start" fill="#000" color="#000" font-weight="bold" class="lg">RIME</text><line x1="561.58" y1="107.20" x2="561.58" y2="105.20" stroke="#555" stroke-width="0.65"/><line x1="561.58" y1="7.40" x2="561.58" y2="9.40" stroke="#555" stroke-width="0.65"/><line x1="582.54" y1="107.20" x2="582.54" y2="105.20" stroke="#555" stroke-width="0.65"/><line x1="582.54" y1="7.40" x2="582.54" y2="9.40" stroke="#555" stroke-width="0.65"/><line x1="603.51" y1="107.20" x2="603.51" y2="105.20" stroke="#555" stroke-width="0.65"/><line x1="603.51" y1="7.40" x2="603.51" y2="9.40" stroke="#555" stroke-width="0.65"/><line x1="624.47" y1="107.20" x2="624.47" y2="105.20" stroke="#555" stroke-width="0.65"/><line x1="624.47" y1="7.40" x2="624.47" y2="9.40" stroke="#555" stroke-width="0.65"/><line x1="645.44" y1="107.20" x2="645.44" y2="105.20" stroke="#555" stroke-width="0.65"/><line x1="645.44" y1="7.40" x2="645.44" y2="9.40" stroke="#555" stroke-width="0.65"/><line x1="666.40" y1="107.20" x2="666.40" y2="105.20" stroke="#555" stroke-width="0.65"/><line x1="666.40" y1="7.40" x2="666.40" y2="9.40" stroke="#555" stroke-width="0.65"/><line x1="544.81" y1="107.20" x2="544.81" y2="106.00" stroke="#555" stroke-width="0.65"/><line x1="544.81" y1="7.40" x2="544.81" y2="8.60" stroke="#555" stroke-width="0.65"/><line x1="549.00" y1="107.20" x2="549.00" y2="106.00" stroke="#555" stroke-width="0.65"/><line x1="549.00" y1="7.40" x2="549.00" y2="8.60" stroke="#555" stroke-width="0.65"/><line x1="553.19" y1="107.20" x2="553.19" y2="106.00" stroke="#555" stroke-width="0.65"/><line x1="553.19" y1="7.40" x2="553.19" y2="8.60" stroke="#555" stroke-width="0.65"/><line x1="557.38" y1="107.20" x2="557.38" y2="106.00" stroke="#555" stroke-width="0.65"/><line x1="557.38" y1="7.40" x2="557.38" y2="8.60" stroke="#555" stroke-width="0.65"/><line x1="565.77" y1="107.20" x2="565.77" y2="106.00" stroke="#555" stroke-width="0.65"/><line x1="565.77" y1="7.40" x2="565.77" y2="8.60" stroke="#555" stroke-width="0.65"/><line x1="569.96" y1="107.20" x2="569.96" y2="106.00" stroke="#555" stroke-width="0.65"/><line x1="569.96" y1="7.40" x2="569.96" y2="8.60" stroke="#555" stroke-width="0.65"/><line x1="574.16" y1="107.20" x2="574.16" y2="106.00" stroke="#555" stroke-width="0.65"/><line x1="574.16" y1="7.40" x2="574.16" y2="8.60" stroke="#555" stroke-width="0.65"/><line x1="578.35" y1="107.20" x2="578.35" y2="106.00" stroke="#555" stroke-width="0.65"/><line x1="578.35" y1="7.40" x2="578.35" y2="8.60" stroke="#555" stroke-width="0.65"/><line x1="586.74" y1="107.20" x2="586.74" y2="106.00" stroke="#555" stroke-width="0.65"/><line x1="586.74" y1="7.40" x2="586.74" y2="8.60" stroke="#555" stroke-width="0.65"/><line x1="590.93" y1="107.20" x2="590.93" y2="106.00" stroke="#555" stroke-width="0.65"/><line x1="590.93" y1="7.40" x2="590.93" y2="8.60" stroke="#555" stroke-width="0.65"/><line x1="595.12" y1="107.20" x2="595.12" y2="106.00" stroke="#555" stroke-width="0.65"/><line x1="595.12" y1="7.40" x2="595.12" y2="8.60" stroke="#555" stroke-width="0.65"/><line x1="599.31" y1="107.20" x2="599.31" y2="106.00" stroke="#555" stroke-width="0.65"/><line x1="599.31" y1="7.40" x2="599.31" y2="8.60" stroke="#555" stroke-width="0.65"/><line x1="607.70" y1="107.20" x2="607.70" y2="106.00" stroke="#555" stroke-width="0.65"/><line x1="607.70" y1="7.40" x2="607.70" y2="8.60" stroke="#555" stroke-width="0.65"/><line x1="611.89" y1="107.20" x2="611.89" y2="106.00" stroke="#555" stroke-width="0.65"/><line x1="611.89" y1="7.40" x2="611.89" y2="8.60" stroke="#555" stroke-width="0.65"/><line x1="616.09" y1="107.20" x2="616.09" y2="106.00" stroke="#555" stroke-width="0.65"/><line x1="616.09" y1="7.40" x2="616.09" y2="8.60" stroke="#555" stroke-width="0.65"/><line x1="620.28" y1="107.20" x2="620.28" y2="106.00" stroke="#555" stroke-width="0.65"/><line x1="620.28" y1="7.40" x2="620.28" y2="8.60" stroke="#555" stroke-width="0.65"/><line x1="628.66" y1="107.20" x2="628.66" y2="106.00" stroke="#555" stroke-width="0.65"/><line x1="628.66" y1="7.40" x2="628.66" y2="8.60" stroke="#555" stroke-width="0.65"/><line x1="632.86" y1="107.20" x2="632.86" y2="106.00" stroke="#555" stroke-width="0.65"/><line x1="632.86" y1="7.40" x2="632.86" y2="8.60" stroke="#555" stroke-width="0.65"/><line x1="637.05" y1="107.20" x2="637.05" y2="106.00" stroke="#555" stroke-width="0.65"/><line x1="637.05" y1="7.40" x2="637.05" y2="8.60" stroke="#555" stroke-width="0.65"/><line x1="641.24" y1="107.20" x2="641.24" y2="106.00" stroke="#555" stroke-width="0.65"/><line x1="641.24" y1="7.40" x2="641.24" y2="8.60" stroke="#555" stroke-width="0.65"/><line x1="649.63" y1="107.20" x2="649.63" y2="106.00" stroke="#555" stroke-width="0.65"/><line x1="649.63" y1="7.40" x2="649.63" y2="8.60" stroke="#555" stroke-width="0.65"/><line x1="653.82" y1="107.20" x2="653.82" y2="106.00" stroke="#555" stroke-width="0.65"/><line x1="653.82" y1="7.40" x2="653.82" y2="8.60" stroke="#555" stroke-width="0.65"/><line x1="658.01" y1="107.20" x2="658.01" y2="106.00" stroke="#555" stroke-width="0.65"/><line x1="658.01" y1="7.40" x2="658.01" y2="8.60" stroke="#555" stroke-width="0.65"/><line x1="662.21" y1="107.20" x2="662.21" y2="106.00" stroke="#555" stroke-width="0.65"/><line x1="662.21" y1="7.40" x2="662.21" y2="8.60" stroke="#555" stroke-width="0.65"/><line x1="543.80" y1="74.40" x2="545.80" y2="74.40" stroke="#555" stroke-width="0.65"/><line x1="666.40" y1="74.40" x2="664.40" y2="74.40" stroke="#555" stroke-width="0.65"/><text x="541.50" y="78.18" font-size="6.7" text-anchor="end" fill="#222" font-weight="bold" color="#222">10<tspan font-size="5.30" dy="-3.0">5</tspan></text><line x1="543.80" y1="19.00" x2="545.80" y2="19.00" stroke="#555" stroke-width="0.65"/><line x1="666.40" y1="19.00" x2="664.40" y2="19.00" stroke="#555" stroke-width="0.65"/><text x="541.50" y="22.78" font-size="6.7" text-anchor="end" fill="#222" font-weight="bold" color="#222">10<tspan font-size="5.30" dy="-3.0">10</tspan></text><line x1="543.80" y1="96.56" x2="545.00" y2="96.56" stroke="#555" stroke-width="0.65"/><line x1="666.40" y1="96.56" x2="665.20" y2="96.56" stroke="#555" stroke-width="0.65"/><line x1="543.80" y1="85.48" x2="545.00" y2="85.48" stroke="#555" stroke-width="0.65"/><line x1="666.40" y1="85.48" x2="665.20" y2="85.48" stroke="#555" stroke-width="0.65"/><line x1="543.80" y1="74.40" x2="545.00" y2="74.40" stroke="#555" stroke-width="0.65"/><line x1="666.40" y1="74.40" x2="665.20" y2="74.40" stroke="#555" stroke-width="0.65"/><line x1="543.80" y1="63.32" x2="545.00" y2="63.32" stroke="#555" stroke-width="0.65"/><line x1="666.40" y1="63.32" x2="665.20" y2="63.32" stroke="#555" stroke-width="0.65"/><line x1="543.80" y1="52.24" x2="545.00" y2="52.24" stroke="#555" stroke-width="0.65"/><line x1="666.40" y1="52.24" x2="665.20" y2="52.24" stroke="#555" stroke-width="0.65"/><line x1="543.80" y1="41.16" x2="545.00" y2="41.16" stroke="#555" stroke-width="0.65"/><line x1="666.40" y1="41.16" x2="665.20" y2="41.16" stroke="#555" stroke-width="0.65"/><line x1="543.80" y1="30.08" x2="545.00" y2="30.08" stroke="#555" stroke-width="0.65"/><line x1="666.40" y1="30.08" x2="665.20" y2="30.08" stroke="#555" stroke-width="0.65"/><line x1="543.80" y1="19.00" x2="545.00" y2="19.00" stroke="#555" stroke-width="0.65"/><line x1="666.40" y1="19.00" x2="665.20" y2="19.00" stroke="#555" stroke-width="0.65"/><line x1="543.80" y1="7.92" x2="545.00" y2="7.92" stroke="#555" stroke-width="0.65"/><line x1="666.40" y1="7.92" x2="665.20" y2="7.92" stroke="#555" stroke-width="0.65"/><text x="561.58" y="116.68" font-size="6.7" text-anchor="middle" fill="#222" color="#222" font-weight="bold">0.5</text><text x="582.54" y="116.68" font-size="6.7" text-anchor="middle" fill="#222" color="#222" font-weight="bold">1</text><text x="603.51" y="116.68" font-size="6.7" text-anchor="middle" fill="#222" color="#222" font-weight="bold">1.5</text><text x="624.47" y="116.68" font-size="6.7" text-anchor="middle" fill="#222" color="#222" font-weight="bold">2</text><text x="645.44" y="116.68" font-size="6.7" text-anchor="middle" fill="#222" color="#222" font-weight="bold">2.5</text><text x="666.40" y="116.68" font-size="6.7" text-anchor="middle" fill="#222" color="#222" font-weight="bold">3</text><text x="605.10" y="124.98" font-size="7.0" text-anchor="middle" fill="#2a2a2a" color="#2a2a2a" font-weight="bold" class="lb">FEs</text><text x="653.70" y="127.87" font-size="8.0" text-anchor="middle" fill="#444" color="#444" font-weight="normal" style="stroke-width:0.15px">×</text><text x="660.30" y="126.76" font-size="6.5" text-anchor="middle" fill="#222" color="#222" font-weight="bold">10</text><text x="665.30" y="123.52" font-size="4.9" text-anchor="middle" fill="#222" color="#222" font-weight="bold">5</text><text x="523.70" y="59.71" font-size="7.1" text-anchor="middle" fill="#2a2a2a" color="#2a2a2a" font-weight="bold" transform="rotate(-90 523.70 57.30)" class="lb">Best score obtained so far</text><text x="605.10" y="5.71" font-size="6.8" text-anchor="middle" fill="#000" color="#000" font-weight="bold">F1</text><line x1="559.18" y1="236.60" x2="559.18" y2="234.60" stroke="#555" stroke-width="0.65"/><line x1="559.18" y1="137.70" x2="559.18" y2="139.70" stroke="#555" stroke-width="0.65"/><line x1="580.63" y1="236.60" x2="580.63" y2="234.60" stroke="#555" stroke-width="0.65"/><line x1="580.63" y1="137.70" x2="580.63" y2="139.70" stroke="#555" stroke-width="0.65"/><line x1="602.07" y1="236.60" x2="602.07" y2="234.60" stroke="#555" stroke-width="0.65"/><line x1="602.07" y1="137.70" x2="602.07" y2="139.70" stroke="#555" stroke-width="0.65"/><line x1="623.51" y1="236.60" x2="623.51" y2="234.60" stroke="#555" stroke-width="0.65"/><line x1="623.51" y1="137.70" x2="623.51" y2="139.70" stroke="#555" stroke-width="0.65"/><line x1="644.96" y1="236.60" x2="644.96" y2="234.60" stroke="#555" stroke-width="0.65"/><line x1="644.96" y1="137.70" x2="644.96" y2="139.70" stroke="#555" stroke-width="0.65"/><line x1="666.40" y1="236.60" x2="666.40" y2="234.60" stroke="#555" stroke-width="0.65"/><line x1="666.40" y1="137.70" x2="666.40" y2="139.70" stroke="#555" stroke-width="0.65"/><line x1="542.03" y1="236.60" x2="542.03" y2="235.40" stroke="#555" stroke-width="0.65"/><line x1="542.03" y1="137.70" x2="542.03" y2="138.90" stroke="#555" stroke-width="0.65"/><line x1="546.32" y1="236.60" x2="546.32" y2="235.40" stroke="#555" stroke-width="0.65"/><line x1="546.32" y1="137.70" x2="546.32" y2="138.90" stroke="#555" stroke-width="0.65"/><line x1="550.61" y1="236.60" x2="550.61" y2="235.40" stroke="#555" stroke-width="0.65"/><line x1="550.61" y1="137.70" x2="550.61" y2="138.90" stroke="#555" stroke-width="0.65"/><line x1="554.90" y1="236.60" x2="554.90" y2="235.40" stroke="#555" stroke-width="0.65"/><line x1="554.90" y1="137.70" x2="554.90" y2="138.90" stroke="#555" stroke-width="0.65"/><line x1="563.47" y1="236.60" x2="563.47" y2="235.40" stroke="#555" stroke-width="0.65"/><line x1="563.47" y1="137.70" x2="563.47" y2="138.90" stroke="#555" stroke-width="0.65"/><line x1="567.76" y1="236.60" x2="567.76" y2="235.40" stroke="#555" stroke-width="0.65"/><line x1="567.76" y1="137.70" x2="567.76" y2="138.90" stroke="#555" stroke-width="0.65"/><line x1="572.05" y1="236.60" x2="572.05" y2="235.40" stroke="#555" stroke-width="0.65"/><line x1="572.05" y1="137.70" x2="572.05" y2="138.90" stroke="#555" stroke-width="0.65"/><line x1="576.34" y1="236.60" x2="576.34" y2="235.40" stroke="#555" stroke-width="0.65"/><line x1="576.34" y1="137.70" x2="576.34" y2="138.90" stroke="#555" stroke-width="0.65"/><line x1="584.92" y1="236.60" x2="584.92" y2="235.40" stroke="#555" stroke-width="0.65"/><line x1="584.92" y1="137.70" x2="584.92" y2="138.90" stroke="#555" stroke-width="0.65"/><line x1="589.20" y1="236.60" x2="589.20" y2="235.40" stroke="#555" stroke-width="0.65"/><line x1="589.20" y1="137.70" x2="589.20" y2="138.90" stroke="#555" stroke-width="0.65"/><line x1="593.49" y1="236.60" x2="593.49" y2="235.40" stroke="#555" stroke-width="0.65"/><line x1="593.49" y1="137.70" x2="593.49" y2="138.90" stroke="#555" stroke-width="0.65"/><line x1="597.78" y1="236.60" x2="597.78" y2="235.40" stroke="#555" stroke-width="0.65"/><line x1="597.78" y1="137.70" x2="597.78" y2="138.90" stroke="#555" stroke-width="0.65"/><line x1="606.36" y1="236.60" x2="606.36" y2="235.40" stroke="#555" stroke-width="0.65"/><line x1="606.36" y1="137.70" x2="606.36" y2="138.90" stroke="#555" stroke-width="0.65"/><line x1="610.65" y1="236.60" x2="610.65" y2="235.40" stroke="#555" stroke-width="0.65"/><line x1="610.65" y1="137.70" x2="610.65" y2="138.90" stroke="#555" stroke-width="0.65"/><line x1="614.94" y1="236.60" x2="614.94" y2="235.40" stroke="#555" stroke-width="0.65"/><line x1="614.94" y1="137.70" x2="614.94" y2="138.90" stroke="#555" stroke-width="0.65"/><line x1="619.22" y1="236.60" x2="619.22" y2="235.40" stroke="#555" stroke-width="0.65"/><line x1="619.22" y1="137.70" x2="619.22" y2="138.90" stroke="#555" stroke-width="0.65"/><line x1="627.80" y1="236.60" x2="627.80" y2="235.40" stroke="#555" stroke-width="0.65"/><line x1="627.80" y1="137.70" x2="627.80" y2="138.90" stroke="#555" stroke-width="0.65"/><line x1="632.09" y1="236.60" x2="632.09" y2="235.40" stroke="#555" stroke-width="0.65"/><line x1="632.09" y1="137.70" x2="632.09" y2="138.90" stroke="#555" stroke-width="0.65"/><line x1="636.38" y1="236.60" x2="636.38" y2="235.40" stroke="#555" stroke-width="0.65"/><line x1="636.38" y1="137.70" x2="636.38" y2="138.90" stroke="#555" stroke-width="0.65"/><line x1="640.67" y1="236.60" x2="640.67" y2="235.40" stroke="#555" stroke-width="0.65"/><line x1="640.67" y1="137.70" x2="640.67" y2="138.90" stroke="#555" stroke-width="0.65"/><line x1="649.25" y1="236.60" x2="649.25" y2="235.40" stroke="#555" stroke-width="0.65"/><line x1="649.25" y1="137.70" x2="649.25" y2="138.90" stroke="#555" stroke-width="0.65"/><line x1="653.53" y1="236.60" x2="653.53" y2="235.40" stroke="#555" stroke-width="0.65"/><line x1="653.53" y1="137.70" x2="653.53" y2="138.90" stroke="#555" stroke-width="0.65"/><line x1="657.82" y1="236.60" x2="657.82" y2="235.40" stroke="#555" stroke-width="0.65"/><line x1="657.82" y1="137.70" x2="657.82" y2="138.90" stroke="#555" stroke-width="0.65"/><line x1="662.11" y1="236.60" x2="662.11" y2="235.40" stroke="#555" stroke-width="0.65"/><line x1="662.11" y1="137.70" x2="662.11" y2="138.90" stroke="#555" stroke-width="0.65"/><line x1="541.00" y1="217.91" x2="543.00" y2="217.91" stroke="#555" stroke-width="0.65"/><line x1="666.40" y1="217.91" x2="664.40" y2="217.91" stroke="#555" stroke-width="0.65"/><text x="538.70" y="221.69" font-size="6.7" text-anchor="end" fill="#222" font-weight="bold" color="#222">10<tspan font-size="5.30" dy="-3.0">3</tspan></text><line x1="541.00" y1="168.21" x2="543.00" y2="168.21" stroke="#555" stroke-width="0.65"/><line x1="666.40" y1="168.21" x2="664.40" y2="168.21" stroke="#555" stroke-width="0.65"/><text x="538.70" y="171.99" font-size="6.7" text-anchor="end" fill="#222" font-weight="bold" color="#222">10<tspan font-size="5.30" dy="-3.0">4</tspan></text><line x1="541.00" y1="232.87" x2="542.20" y2="232.87" stroke="#555" stroke-width="0.65"/><line x1="666.40" y1="232.87" x2="665.20" y2="232.87" stroke="#555" stroke-width="0.65"/><line x1="541.00" y1="228.94" x2="542.20" y2="228.94" stroke="#555" stroke-width="0.65"/><line x1="666.40" y1="228.94" x2="665.20" y2="228.94" stroke="#555" stroke-width="0.65"/><line x1="541.00" y1="225.61" x2="542.20" y2="225.61" stroke="#555" stroke-width="0.65"/><line x1="666.40" y1="225.61" x2="665.20" y2="225.61" stroke="#555" stroke-width="0.65"/><line x1="541.00" y1="222.73" x2="542.20" y2="222.73" stroke="#555" stroke-width="0.65"/><line x1="666.40" y1="222.73" x2="665.20" y2="222.73" stroke="#555" stroke-width="0.65"/><line x1="541.00" y1="220.19" x2="542.20" y2="220.19" stroke="#555" stroke-width="0.65"/><line x1="666.40" y1="220.19" x2="665.20" y2="220.19" stroke="#555" stroke-width="0.65"/><line x1="541.00" y1="202.95" x2="542.20" y2="202.95" stroke="#555" stroke-width="0.65"/><line x1="666.40" y1="202.95" x2="665.20" y2="202.95" stroke="#555" stroke-width="0.65"/><line x1="541.00" y1="194.20" x2="542.20" y2="194.20" stroke="#555" stroke-width="0.65"/><line x1="666.40" y1="194.20" x2="665.20" y2="194.20" stroke="#555" stroke-width="0.65"/><line x1="541.00" y1="187.99" x2="542.20" y2="187.99" stroke="#555" stroke-width="0.65"/><line x1="666.40" y1="187.99" x2="665.20" y2="187.99" stroke="#555" stroke-width="0.65"/><line x1="541.00" y1="183.18" x2="542.20" y2="183.18" stroke="#555" stroke-width="0.65"/><line x1="666.40" y1="183.18" x2="665.20" y2="183.18" stroke="#555" stroke-width="0.65"/><line x1="541.00" y1="179.24" x2="542.20" y2="179.24" stroke="#555" stroke-width="0.65"/><line x1="666.40" y1="179.24" x2="665.20" y2="179.24" stroke="#555" stroke-width="0.65"/><line x1="541.00" y1="175.91" x2="542.20" y2="175.91" stroke="#555" stroke-width="0.65"/><line x1="666.40" y1="175.91" x2="665.20" y2="175.91" stroke="#555" stroke-width="0.65"/><line x1="541.00" y1="173.03" x2="542.20" y2="173.03" stroke="#555" stroke-width="0.65"/><line x1="666.40" y1="173.03" x2="665.20" y2="173.03" stroke="#555" stroke-width="0.65"/><line x1="541.00" y1="170.49" x2="542.20" y2="170.49" stroke="#555" stroke-width="0.65"/><line x1="666.40" y1="170.49" x2="665.20" y2="170.49" stroke="#555" stroke-width="0.65"/><line x1="541.00" y1="153.25" x2="542.20" y2="153.25" stroke="#555" stroke-width="0.65"/><line x1="666.40" y1="153.25" x2="665.20" y2="153.25" stroke="#555" stroke-width="0.65"/><line x1="541.00" y1="144.50" x2="542.20" y2="144.50" stroke="#555" stroke-width="0.65"/><line x1="666.40" y1="144.50" x2="665.20" y2="144.50" stroke="#555" stroke-width="0.65"/><line x1="541.00" y1="138.29" x2="542.20" y2="138.29" stroke="#555" stroke-width="0.65"/><line x1="666.40" y1="138.29" x2="665.20" y2="138.29" stroke="#555" stroke-width="0.65"/><text x="559.18" y="246.08" font-size="6.7" text-anchor="middle" fill="#222" color="#222" font-weight="bold">0.5</text><text x="580.63" y="246.08" font-size="6.7" text-anchor="middle" fill="#222" color="#222" font-weight="bold">1</text><text x="602.07" y="246.08" font-size="6.7" text-anchor="middle" fill="#222" color="#222" font-weight="bold">1.5</text><text x="623.51" y="246.08" font-size="6.7" text-anchor="middle" fill="#222" color="#222" font-weight="bold">2</text><text x="644.96" y="246.08" font-size="6.7" text-anchor="middle" fill="#222" color="#222" font-weight="bold">2.5</text><text x="666.40" y="246.08" font-size="6.7" text-anchor="middle" fill="#222" color="#222" font-weight="bold">3</text><text x="603.70" y="254.38" font-size="7.0" text-anchor="middle" fill="#2a2a2a" color="#2a2a2a" font-weight="bold" class="lb">FEs</text><text x="653.70" y="257.27" font-size="8.0" text-anchor="middle" fill="#444" color="#444" font-weight="normal" style="stroke-width:0.15px">×</text><text x="660.30" y="256.16" font-size="6.5" text-anchor="middle" fill="#222" color="#222" font-weight="bold">10</text><text x="665.30" y="252.92" font-size="4.9" text-anchor="middle" fill="#222" color="#222" font-weight="bold">5</text><text x="523.70" y="188.01" font-size="7.1" text-anchor="middle" fill="#2a2a2a" color="#2a2a2a" font-weight="bold" transform="rotate(-90 523.70 185.60)" class="lb">Best score obtained so far</text><text x="603.70" y="136.01" font-size="6.8" text-anchor="middle" fill="#000" color="#000" font-weight="bold">F4</text><line x1="562.60" y1="368.50" x2="562.60" y2="366.50" stroke="#555" stroke-width="0.65"/><line x1="562.60" y1="268.90" x2="562.60" y2="270.90" stroke="#555" stroke-width="0.65"/><line x1="583.36" y1="368.50" x2="583.36" y2="366.50" stroke="#555" stroke-width="0.65"/><line x1="583.36" y1="268.90" x2="583.36" y2="270.90" stroke="#555" stroke-width="0.65"/><line x1="604.12" y1="368.50" x2="604.12" y2="366.50" stroke="#555" stroke-width="0.65"/><line x1="604.12" y1="268.90" x2="604.12" y2="270.90" stroke="#555" stroke-width="0.65"/><line x1="624.88" y1="368.50" x2="624.88" y2="366.50" stroke="#555" stroke-width="0.65"/><line x1="624.88" y1="268.90" x2="624.88" y2="270.90" stroke="#555" stroke-width="0.65"/><line x1="645.64" y1="368.50" x2="645.64" y2="366.50" stroke="#555" stroke-width="0.65"/><line x1="645.64" y1="268.90" x2="645.64" y2="270.90" stroke="#555" stroke-width="0.65"/><line x1="666.40" y1="368.50" x2="666.40" y2="366.50" stroke="#555" stroke-width="0.65"/><line x1="666.40" y1="268.90" x2="666.40" y2="270.90" stroke="#555" stroke-width="0.65"/><line x1="546.00" y1="368.50" x2="546.00" y2="367.30" stroke="#555" stroke-width="0.65"/><line x1="546.00" y1="268.90" x2="546.00" y2="270.10" stroke="#555" stroke-width="0.65"/><line x1="550.15" y1="368.50" x2="550.15" y2="367.30" stroke="#555" stroke-width="0.65"/><line x1="550.15" y1="268.90" x2="550.15" y2="270.10" stroke="#555" stroke-width="0.65"/><line x1="554.30" y1="368.50" x2="554.30" y2="367.30" stroke="#555" stroke-width="0.65"/><line x1="554.30" y1="268.90" x2="554.30" y2="270.10" stroke="#555" stroke-width="0.65"/><line x1="558.45" y1="368.50" x2="558.45" y2="367.30" stroke="#555" stroke-width="0.65"/><line x1="558.45" y1="268.90" x2="558.45" y2="270.10" stroke="#555" stroke-width="0.65"/><line x1="566.76" y1="368.50" x2="566.76" y2="367.30" stroke="#555" stroke-width="0.65"/><line x1="566.76" y1="268.90" x2="566.76" y2="270.10" stroke="#555" stroke-width="0.65"/><line x1="570.91" y1="368.50" x2="570.91" y2="367.30" stroke="#555" stroke-width="0.65"/><line x1="570.91" y1="268.90" x2="570.91" y2="270.10" stroke="#555" stroke-width="0.65"/><line x1="575.06" y1="368.50" x2="575.06" y2="367.30" stroke="#555" stroke-width="0.65"/><line x1="575.06" y1="268.90" x2="575.06" y2="270.10" stroke="#555" stroke-width="0.65"/><line x1="579.21" y1="368.50" x2="579.21" y2="367.30" stroke="#555" stroke-width="0.65"/><line x1="579.21" y1="268.90" x2="579.21" y2="270.10" stroke="#555" stroke-width="0.65"/><line x1="587.51" y1="368.50" x2="587.51" y2="367.30" stroke="#555" stroke-width="0.65"/><line x1="587.51" y1="268.90" x2="587.51" y2="270.10" stroke="#555" stroke-width="0.65"/><line x1="591.67" y1="368.50" x2="591.67" y2="367.30" stroke="#555" stroke-width="0.65"/><line x1="591.67" y1="268.90" x2="591.67" y2="270.10" stroke="#555" stroke-width="0.65"/><line x1="595.82" y1="368.50" x2="595.82" y2="367.30" stroke="#555" stroke-width="0.65"/><line x1="595.82" y1="268.90" x2="595.82" y2="270.10" stroke="#555" stroke-width="0.65"/><line x1="599.97" y1="368.50" x2="599.97" y2="367.30" stroke="#555" stroke-width="0.65"/><line x1="599.97" y1="268.90" x2="599.97" y2="270.10" stroke="#555" stroke-width="0.65"/><line x1="608.27" y1="368.50" x2="608.27" y2="367.30" stroke="#555" stroke-width="0.65"/><line x1="608.27" y1="268.90" x2="608.27" y2="270.10" stroke="#555" stroke-width="0.65"/><line x1="612.43" y1="368.50" x2="612.43" y2="367.30" stroke="#555" stroke-width="0.65"/><line x1="612.43" y1="268.90" x2="612.43" y2="270.10" stroke="#555" stroke-width="0.65"/><line x1="616.58" y1="368.50" x2="616.58" y2="367.30" stroke="#555" stroke-width="0.65"/><line x1="616.58" y1="268.90" x2="616.58" y2="270.10" stroke="#555" stroke-width="0.65"/><line x1="620.73" y1="368.50" x2="620.73" y2="367.30" stroke="#555" stroke-width="0.65"/><line x1="620.73" y1="268.90" x2="620.73" y2="270.10" stroke="#555" stroke-width="0.65"/><line x1="629.03" y1="368.50" x2="629.03" y2="367.30" stroke="#555" stroke-width="0.65"/><line x1="629.03" y1="268.90" x2="629.03" y2="270.10" stroke="#555" stroke-width="0.65"/><line x1="633.19" y1="368.50" x2="633.19" y2="367.30" stroke="#555" stroke-width="0.65"/><line x1="633.19" y1="268.90" x2="633.19" y2="270.10" stroke="#555" stroke-width="0.65"/><line x1="637.34" y1="368.50" x2="637.34" y2="367.30" stroke="#555" stroke-width="0.65"/><line x1="637.34" y1="268.90" x2="637.34" y2="270.10" stroke="#555" stroke-width="0.65"/><line x1="641.49" y1="368.50" x2="641.49" y2="367.30" stroke="#555" stroke-width="0.65"/><line x1="641.49" y1="268.90" x2="641.49" y2="270.10" stroke="#555" stroke-width="0.65"/><line x1="649.79" y1="368.50" x2="649.79" y2="367.30" stroke="#555" stroke-width="0.65"/><line x1="649.79" y1="268.90" x2="649.79" y2="270.10" stroke="#555" stroke-width="0.65"/><line x1="653.94" y1="368.50" x2="653.94" y2="367.30" stroke="#555" stroke-width="0.65"/><line x1="653.94" y1="268.90" x2="653.94" y2="270.10" stroke="#555" stroke-width="0.65"/><line x1="658.10" y1="368.50" x2="658.10" y2="367.30" stroke="#555" stroke-width="0.65"/><line x1="658.10" y1="268.90" x2="658.10" y2="270.10" stroke="#555" stroke-width="0.65"/><line x1="662.25" y1="368.50" x2="662.25" y2="367.30" stroke="#555" stroke-width="0.65"/><line x1="662.25" y1="268.90" x2="662.25" y2="270.10" stroke="#555" stroke-width="0.65"/><line x1="545.00" y1="353.30" x2="547.00" y2="353.30" stroke="#555" stroke-width="0.65"/><line x1="666.40" y1="353.30" x2="664.40" y2="353.30" stroke="#555" stroke-width="0.65"/><text x="542.60" y="355.58" font-size="6.7" text-anchor="end" fill="#222" color="#222" font-weight="normal">1000</text><line x1="545.00" y1="325.67" x2="547.00" y2="325.67" stroke="#555" stroke-width="0.65"/><line x1="666.40" y1="325.67" x2="664.40" y2="325.67" stroke="#555" stroke-width="0.65"/><text x="542.60" y="327.95" font-size="6.7" text-anchor="end" fill="#222" color="#222" font-weight="normal">1500</text><line x1="545.00" y1="306.07" x2="547.00" y2="306.07" stroke="#555" stroke-width="0.65"/><line x1="666.40" y1="306.07" x2="664.40" y2="306.07" stroke="#555" stroke-width="0.65"/><text x="542.60" y="308.35" font-size="6.7" text-anchor="end" fill="#222" color="#222" font-weight="normal">2000</text><line x1="545.00" y1="290.87" x2="547.00" y2="290.87" stroke="#555" stroke-width="0.65"/><line x1="666.40" y1="290.87" x2="664.40" y2="290.87" stroke="#555" stroke-width="0.65"/><text x="542.60" y="293.15" font-size="6.7" text-anchor="end" fill="#222" color="#222" font-weight="normal">2500</text><line x1="545.00" y1="278.45" x2="547.00" y2="278.45" stroke="#555" stroke-width="0.65"/><line x1="666.40" y1="278.45" x2="664.40" y2="278.45" stroke="#555" stroke-width="0.65"/><text x="542.60" y="280.73" font-size="6.7" text-anchor="end" fill="#222" color="#222" font-weight="normal">3000</text><line x1="545.00" y1="360.48" x2="546.20" y2="360.48" stroke="#555" stroke-width="0.65"/><line x1="666.40" y1="360.48" x2="665.20" y2="360.48" stroke="#555" stroke-width="0.65"/><text x="562.60" y="377.98" font-size="6.7" text-anchor="middle" fill="#222" color="#222" font-weight="bold">0.5</text><text x="583.36" y="377.98" font-size="6.7" text-anchor="middle" fill="#222" color="#222" font-weight="bold">1</text><text x="604.12" y="377.98" font-size="6.7" text-anchor="middle" fill="#222" color="#222" font-weight="bold">1.5</text><text x="624.88" y="377.98" font-size="6.7" text-anchor="middle" fill="#222" color="#222" font-weight="bold">2</text><text x="645.64" y="377.98" font-size="6.7" text-anchor="middle" fill="#222" color="#222" font-weight="bold">2.5</text><text x="666.40" y="377.98" font-size="6.7" text-anchor="middle" fill="#222" color="#222" font-weight="bold">3</text><text x="605.70" y="386.28" font-size="7.0" text-anchor="middle" fill="#2a2a2a" color="#2a2a2a" font-weight="bold" class="lb">FEs</text><text x="653.70" y="389.17" font-size="8.0" text-anchor="middle" fill="#444" color="#444" font-weight="normal" style="stroke-width:0.15px">×</text><text x="660.30" y="388.06" font-size="6.5" text-anchor="middle" fill="#222" color="#222" font-weight="bold">10</text><text x="665.30" y="384.82" font-size="4.9" text-anchor="middle" fill="#222" color="#222" font-weight="bold">5</text><text x="523.70" y="320.38" font-size="7.3" text-anchor="middle" fill="#222" color="#222" font-weight="normal" transform="rotate(-90 523.70 317.90)" class="lb">Best score obtained so far</text><text x="605.70" y="267.21" font-size="6.8" text-anchor="middle" fill="#000" color="#000" font-weight="bold">F7</text><line x1="558.50" y1="498.50" x2="558.50" y2="496.50" stroke="#555" stroke-width="0.65"/><line x1="558.50" y1="399.40" x2="558.50" y2="401.40" stroke="#555" stroke-width="0.65"/><line x1="580.08" y1="498.50" x2="580.08" y2="496.50" stroke="#555" stroke-width="0.65"/><line x1="580.08" y1="399.40" x2="580.08" y2="401.40" stroke="#555" stroke-width="0.65"/><line x1="601.66" y1="498.50" x2="601.66" y2="496.50" stroke="#555" stroke-width="0.65"/><line x1="601.66" y1="399.40" x2="601.66" y2="401.40" stroke="#555" stroke-width="0.65"/><line x1="623.24" y1="498.50" x2="623.24" y2="496.50" stroke="#555" stroke-width="0.65"/><line x1="623.24" y1="399.40" x2="623.24" y2="401.40" stroke="#555" stroke-width="0.65"/><line x1="644.82" y1="498.50" x2="644.82" y2="496.50" stroke="#555" stroke-width="0.65"/><line x1="644.82" y1="399.40" x2="644.82" y2="401.40" stroke="#555" stroke-width="0.65"/><line x1="666.40" y1="498.50" x2="666.40" y2="496.50" stroke="#555" stroke-width="0.65"/><line x1="666.40" y1="399.40" x2="666.40" y2="401.40" stroke="#555" stroke-width="0.65"/><line x1="541.24" y1="498.50" x2="541.24" y2="497.30" stroke="#555" stroke-width="0.65"/><line x1="541.24" y1="399.40" x2="541.24" y2="400.60" stroke="#555" stroke-width="0.65"/><line x1="545.55" y1="498.50" x2="545.55" y2="497.30" stroke="#555" stroke-width="0.65"/><line x1="545.55" y1="399.40" x2="545.55" y2="400.60" stroke="#555" stroke-width="0.65"/><line x1="549.87" y1="498.50" x2="549.87" y2="497.30" stroke="#555" stroke-width="0.65"/><line x1="549.87" y1="399.40" x2="549.87" y2="400.60" stroke="#555" stroke-width="0.65"/><line x1="554.18" y1="498.50" x2="554.18" y2="497.30" stroke="#555" stroke-width="0.65"/><line x1="554.18" y1="399.40" x2="554.18" y2="400.60" stroke="#555" stroke-width="0.65"/><line x1="562.82" y1="498.50" x2="562.82" y2="497.30" stroke="#555" stroke-width="0.65"/><line x1="562.82" y1="399.40" x2="562.82" y2="400.60" stroke="#555" stroke-width="0.65"/><line x1="567.13" y1="498.50" x2="567.13" y2="497.30" stroke="#555" stroke-width="0.65"/><line x1="567.13" y1="399.40" x2="567.13" y2="400.60" stroke="#555" stroke-width="0.65"/><line x1="571.45" y1="498.50" x2="571.45" y2="497.30" stroke="#555" stroke-width="0.65"/><line x1="571.45" y1="399.40" x2="571.45" y2="400.60" stroke="#555" stroke-width="0.65"/><line x1="575.76" y1="498.50" x2="575.76" y2="497.30" stroke="#555" stroke-width="0.65"/><line x1="575.76" y1="399.40" x2="575.76" y2="400.60" stroke="#555" stroke-width="0.65"/><line x1="584.40" y1="498.50" x2="584.40" y2="497.30" stroke="#555" stroke-width="0.65"/><line x1="584.40" y1="399.40" x2="584.40" y2="400.60" stroke="#555" stroke-width="0.65"/><line x1="588.71" y1="498.50" x2="588.71" y2="497.30" stroke="#555" stroke-width="0.65"/><line x1="588.71" y1="399.40" x2="588.71" y2="400.60" stroke="#555" stroke-width="0.65"/><line x1="593.03" y1="498.50" x2="593.03" y2="497.30" stroke="#555" stroke-width="0.65"/><line x1="593.03" y1="399.40" x2="593.03" y2="400.60" stroke="#555" stroke-width="0.65"/><line x1="597.34" y1="498.50" x2="597.34" y2="497.30" stroke="#555" stroke-width="0.65"/><line x1="597.34" y1="399.40" x2="597.34" y2="400.60" stroke="#555" stroke-width="0.65"/><line x1="605.98" y1="498.50" x2="605.98" y2="497.30" stroke="#555" stroke-width="0.65"/><line x1="605.98" y1="399.40" x2="605.98" y2="400.60" stroke="#555" stroke-width="0.65"/><line x1="610.29" y1="498.50" x2="610.29" y2="497.30" stroke="#555" stroke-width="0.65"/><line x1="610.29" y1="399.40" x2="610.29" y2="400.60" stroke="#555" stroke-width="0.65"/><line x1="614.61" y1="498.50" x2="614.61" y2="497.30" stroke="#555" stroke-width="0.65"/><line x1="614.61" y1="399.40" x2="614.61" y2="400.60" stroke="#555" stroke-width="0.65"/><line x1="618.92" y1="498.50" x2="618.92" y2="497.30" stroke="#555" stroke-width="0.65"/><line x1="618.92" y1="399.40" x2="618.92" y2="400.60" stroke="#555" stroke-width="0.65"/><line x1="627.56" y1="498.50" x2="627.56" y2="497.30" stroke="#555" stroke-width="0.65"/><line x1="627.56" y1="399.40" x2="627.56" y2="400.60" stroke="#555" stroke-width="0.65"/><line x1="631.87" y1="498.50" x2="631.87" y2="497.30" stroke="#555" stroke-width="0.65"/><line x1="631.87" y1="399.40" x2="631.87" y2="400.60" stroke="#555" stroke-width="0.65"/><line x1="636.19" y1="498.50" x2="636.19" y2="497.30" stroke="#555" stroke-width="0.65"/><line x1="636.19" y1="399.40" x2="636.19" y2="400.60" stroke="#555" stroke-width="0.65"/><line x1="640.50" y1="498.50" x2="640.50" y2="497.30" stroke="#555" stroke-width="0.65"/><line x1="640.50" y1="399.40" x2="640.50" y2="400.60" stroke="#555" stroke-width="0.65"/><line x1="649.14" y1="498.50" x2="649.14" y2="497.30" stroke="#555" stroke-width="0.65"/><line x1="649.14" y1="399.40" x2="649.14" y2="400.60" stroke="#555" stroke-width="0.65"/><line x1="653.45" y1="498.50" x2="653.45" y2="497.30" stroke="#555" stroke-width="0.65"/><line x1="653.45" y1="399.40" x2="653.45" y2="400.60" stroke="#555" stroke-width="0.65"/><line x1="657.77" y1="498.50" x2="657.77" y2="497.30" stroke="#555" stroke-width="0.65"/><line x1="657.77" y1="399.40" x2="657.77" y2="400.60" stroke="#555" stroke-width="0.65"/><line x1="662.08" y1="498.50" x2="662.08" y2="497.30" stroke="#555" stroke-width="0.65"/><line x1="662.08" y1="399.40" x2="662.08" y2="400.60" stroke="#555" stroke-width="0.65"/><line x1="540.20" y1="470.02" x2="542.20" y2="470.02" stroke="#555" stroke-width="0.65"/><line x1="666.40" y1="470.02" x2="664.40" y2="470.02" stroke="#555" stroke-width="0.65"/><text x="537.80" y="472.30" font-size="6.7" text-anchor="end" fill="#222" color="#222" font-weight="bold">0.5</text><line x1="540.20" y1="434.11" x2="542.20" y2="434.11" stroke="#555" stroke-width="0.65"/><line x1="666.40" y1="434.11" x2="664.40" y2="434.11" stroke="#555" stroke-width="0.65"/><text x="537.80" y="436.39" font-size="6.7" text-anchor="end" fill="#222" color="#222" font-weight="bold">1</text><line x1="540.20" y1="413.11" x2="542.20" y2="413.11" stroke="#555" stroke-width="0.65"/><line x1="666.40" y1="413.11" x2="664.40" y2="413.11" stroke="#555" stroke-width="0.65"/><text x="537.80" y="415.38" font-size="6.7" text-anchor="end" fill="#222" color="#222" font-weight="bold">1.5</text><line x1="540.20" y1="496.48" x2="541.40" y2="496.48" stroke="#555" stroke-width="0.65"/><line x1="666.40" y1="496.48" x2="665.20" y2="496.48" stroke="#555" stroke-width="0.65"/><line x1="540.20" y1="481.58" x2="541.40" y2="481.58" stroke="#555" stroke-width="0.65"/><line x1="666.40" y1="481.58" x2="665.20" y2="481.58" stroke="#555" stroke-width="0.65"/><line x1="540.20" y1="460.57" x2="541.40" y2="460.57" stroke="#555" stroke-width="0.65"/><line x1="666.40" y1="460.57" x2="665.20" y2="460.57" stroke="#555" stroke-width="0.65"/><line x1="540.20" y1="452.59" x2="541.40" y2="452.59" stroke="#555" stroke-width="0.65"/><line x1="666.40" y1="452.59" x2="665.20" y2="452.59" stroke="#555" stroke-width="0.65"/><line x1="540.20" y1="445.67" x2="541.40" y2="445.67" stroke="#555" stroke-width="0.65"/><line x1="666.40" y1="445.67" x2="665.20" y2="445.67" stroke="#555" stroke-width="0.65"/><line x1="540.20" y1="439.57" x2="541.40" y2="439.57" stroke="#555" stroke-width="0.65"/><line x1="666.40" y1="439.57" x2="665.20" y2="439.57" stroke="#555" stroke-width="0.65"/><text x="558.50" y="507.98" font-size="6.7" text-anchor="middle" fill="#222" color="#222" font-weight="bold">0.5</text><text x="580.08" y="507.98" font-size="6.7" text-anchor="middle" fill="#222" color="#222" font-weight="bold">1</text><text x="601.66" y="507.98" font-size="6.7" text-anchor="middle" fill="#222" color="#222" font-weight="bold">1.5</text><text x="623.24" y="507.98" font-size="6.7" text-anchor="middle" fill="#222" color="#222" font-weight="bold">2</text><text x="644.82" y="507.98" font-size="6.7" text-anchor="middle" fill="#222" color="#222" font-weight="bold">2.5</text><text x="666.40" y="507.98" font-size="6.7" text-anchor="middle" fill="#222" color="#222" font-weight="bold">3</text><text x="603.30" y="516.28" font-size="7.0" text-anchor="middle" fill="#2a2a2a" color="#2a2a2a" font-weight="bold" class="lb">FEs</text><text x="653.70" y="519.17" font-size="8.0" text-anchor="middle" fill="#444" color="#444" font-weight="normal" style="stroke-width:0.15px">×</text><text x="660.30" y="518.06" font-size="6.5" text-anchor="middle" fill="#222" color="#222" font-weight="bold">10</text><text x="665.30" y="514.82" font-size="4.9" text-anchor="middle" fill="#222" color="#222" font-weight="bold">5</text><text x="523.70" y="450.31" font-size="7.1" text-anchor="middle" fill="#2a2a2a" color="#2a2a2a" font-weight="bold" transform="rotate(-90 523.70 447.90)" class="lb">Best score obtained so far</text><text x="603.30" y="397.71" font-size="6.8" text-anchor="middle" fill="#000" color="#000" font-weight="bold">F25</text><text x="543.05" y="398.72" font-size="8.0" text-anchor="middle" fill="#444" color="#444" font-weight="normal" style="stroke-width:0.15px">×</text><text x="549.65" y="397.61" font-size="6.5" text-anchor="middle" fill="#222" color="#222" font-weight="bold">10</text><text x="554.65" y="394.37" font-size="4.9" text-anchor="middle" fill="#222" color="#222" font-weight="bold">4</text><line x1="565.50" y1="629.00" x2="565.50" y2="627.00" stroke="#555" stroke-width="0.65"/><line x1="565.50" y1="529.40" x2="565.50" y2="531.40" stroke="#555" stroke-width="0.65"/><line x1="585.66" y1="629.00" x2="585.66" y2="627.00" stroke="#555" stroke-width="0.65"/><line x1="585.66" y1="529.40" x2="585.66" y2="531.40" stroke="#555" stroke-width="0.65"/><line x1="605.82" y1="629.00" x2="605.82" y2="627.00" stroke="#555" stroke-width="0.65"/><line x1="605.82" y1="529.40" x2="605.82" y2="531.40" stroke="#555" stroke-width="0.65"/><line x1="625.98" y1="629.00" x2="625.98" y2="627.00" stroke="#555" stroke-width="0.65"/><line x1="625.98" y1="529.40" x2="625.98" y2="531.40" stroke="#555" stroke-width="0.65"/><line x1="646.14" y1="629.00" x2="646.14" y2="627.00" stroke="#555" stroke-width="0.65"/><line x1="646.14" y1="529.40" x2="646.14" y2="531.40" stroke="#555" stroke-width="0.65"/><line x1="666.30" y1="629.00" x2="666.30" y2="627.00" stroke="#555" stroke-width="0.65"/><line x1="666.30" y1="529.40" x2="666.30" y2="531.40" stroke="#555" stroke-width="0.65"/><line x1="549.37" y1="629.00" x2="549.37" y2="627.80" stroke="#555" stroke-width="0.65"/><line x1="549.37" y1="529.40" x2="549.37" y2="530.60" stroke="#555" stroke-width="0.65"/><line x1="553.40" y1="629.00" x2="553.40" y2="627.80" stroke="#555" stroke-width="0.65"/><line x1="553.40" y1="529.40" x2="553.40" y2="530.60" stroke="#555" stroke-width="0.65"/><line x1="557.43" y1="629.00" x2="557.43" y2="627.80" stroke="#555" stroke-width="0.65"/><line x1="557.43" y1="529.40" x2="557.43" y2="530.60" stroke="#555" stroke-width="0.65"/><line x1="561.46" y1="629.00" x2="561.46" y2="627.80" stroke="#555" stroke-width="0.65"/><line x1="561.46" y1="529.40" x2="561.46" y2="530.60" stroke="#555" stroke-width="0.65"/><line x1="569.53" y1="629.00" x2="569.53" y2="627.80" stroke="#555" stroke-width="0.65"/><line x1="569.53" y1="529.40" x2="569.53" y2="530.60" stroke="#555" stroke-width="0.65"/><line x1="573.56" y1="629.00" x2="573.56" y2="627.80" stroke="#555" stroke-width="0.65"/><line x1="573.56" y1="529.40" x2="573.56" y2="530.60" stroke="#555" stroke-width="0.65"/><line x1="577.59" y1="629.00" x2="577.59" y2="627.80" stroke="#555" stroke-width="0.65"/><line x1="577.59" y1="529.40" x2="577.59" y2="530.60" stroke="#555" stroke-width="0.65"/><line x1="581.62" y1="629.00" x2="581.62" y2="627.80" stroke="#555" stroke-width="0.65"/><line x1="581.62" y1="529.40" x2="581.62" y2="530.60" stroke="#555" stroke-width="0.65"/><line x1="589.69" y1="629.00" x2="589.69" y2="627.80" stroke="#555" stroke-width="0.65"/><line x1="589.69" y1="529.40" x2="589.69" y2="530.60" stroke="#555" stroke-width="0.65"/><line x1="593.72" y1="629.00" x2="593.72" y2="627.80" stroke="#555" stroke-width="0.65"/><line x1="593.72" y1="529.40" x2="593.72" y2="530.60" stroke="#555" stroke-width="0.65"/><line x1="597.75" y1="629.00" x2="597.75" y2="627.80" stroke="#555" stroke-width="0.65"/><line x1="597.75" y1="529.40" x2="597.75" y2="530.60" stroke="#555" stroke-width="0.65"/><line x1="601.79" y1="629.00" x2="601.79" y2="627.80" stroke="#555" stroke-width="0.65"/><line x1="601.79" y1="529.40" x2="601.79" y2="530.60" stroke="#555" stroke-width="0.65"/><line x1="609.85" y1="629.00" x2="609.85" y2="627.80" stroke="#555" stroke-width="0.65"/><line x1="609.85" y1="529.40" x2="609.85" y2="530.60" stroke="#555" stroke-width="0.65"/><line x1="613.88" y1="629.00" x2="613.88" y2="627.80" stroke="#555" stroke-width="0.65"/><line x1="613.88" y1="529.40" x2="613.88" y2="530.60" stroke="#555" stroke-width="0.65"/><line x1="617.91" y1="629.00" x2="617.91" y2="627.80" stroke="#555" stroke-width="0.65"/><line x1="617.91" y1="529.40" x2="617.91" y2="530.60" stroke="#555" stroke-width="0.65"/><line x1="621.95" y1="629.00" x2="621.95" y2="627.80" stroke="#555" stroke-width="0.65"/><line x1="621.95" y1="529.40" x2="621.95" y2="530.60" stroke="#555" stroke-width="0.65"/><line x1="630.01" y1="629.00" x2="630.01" y2="627.80" stroke="#555" stroke-width="0.65"/><line x1="630.01" y1="529.40" x2="630.01" y2="530.60" stroke="#555" stroke-width="0.65"/><line x1="634.04" y1="629.00" x2="634.04" y2="627.80" stroke="#555" stroke-width="0.65"/><line x1="634.04" y1="529.40" x2="634.04" y2="530.60" stroke="#555" stroke-width="0.65"/><line x1="638.07" y1="629.00" x2="638.07" y2="627.80" stroke="#555" stroke-width="0.65"/><line x1="638.07" y1="529.40" x2="638.07" y2="530.60" stroke="#555" stroke-width="0.65"/><line x1="642.11" y1="629.00" x2="642.11" y2="627.80" stroke="#555" stroke-width="0.65"/><line x1="642.11" y1="529.40" x2="642.11" y2="530.60" stroke="#555" stroke-width="0.65"/><line x1="650.17" y1="629.00" x2="650.17" y2="627.80" stroke="#555" stroke-width="0.65"/><line x1="650.17" y1="529.40" x2="650.17" y2="530.60" stroke="#555" stroke-width="0.65"/><line x1="654.20" y1="629.00" x2="654.20" y2="627.80" stroke="#555" stroke-width="0.65"/><line x1="654.20" y1="529.40" x2="654.20" y2="530.60" stroke="#555" stroke-width="0.65"/><line x1="658.24" y1="629.00" x2="658.24" y2="627.80" stroke="#555" stroke-width="0.65"/><line x1="658.24" y1="529.40" x2="658.24" y2="530.60" stroke="#555" stroke-width="0.65"/><line x1="662.27" y1="629.00" x2="662.27" y2="627.80" stroke="#555" stroke-width="0.65"/><line x1="662.27" y1="529.40" x2="662.27" y2="530.60" stroke="#555" stroke-width="0.65"/><line x1="548.40" y1="611.62" x2="550.40" y2="611.62" stroke="#555" stroke-width="0.65"/><line x1="666.30" y1="611.62" x2="664.30" y2="611.62" stroke="#555" stroke-width="0.65"/><text x="546.00" y="613.90" font-size="6.7" text-anchor="end" fill="#222" color="#222" font-weight="bold">4000</text><line x1="548.40" y1="583.56" x2="550.40" y2="583.56" stroke="#555" stroke-width="0.65"/><line x1="666.30" y1="583.56" x2="664.30" y2="583.56" stroke="#555" stroke-width="0.65"/><text x="546.00" y="585.84" font-size="6.7" text-anchor="end" fill="#222" color="#222" font-weight="bold">6000</text><line x1="548.40" y1="563.65" x2="550.40" y2="563.65" stroke="#555" stroke-width="0.65"/><line x1="666.30" y1="563.65" x2="664.30" y2="563.65" stroke="#555" stroke-width="0.65"/><text x="546.00" y="565.93" font-size="6.7" text-anchor="end" fill="#222" color="#222" font-weight="bold">8000</text><line x1="548.40" y1="548.20" x2="550.40" y2="548.20" stroke="#555" stroke-width="0.65"/><line x1="666.30" y1="548.20" x2="664.30" y2="548.20" stroke="#555" stroke-width="0.65"/><text x="546.00" y="550.48" font-size="6.7" text-anchor="end" fill="#222" color="#222" font-weight="bold">10000</text><line x1="548.40" y1="535.59" x2="550.40" y2="535.59" stroke="#555" stroke-width="0.65"/><line x1="666.30" y1="535.59" x2="664.30" y2="535.59" stroke="#555" stroke-width="0.65"/><text x="546.00" y="537.86" font-size="6.7" text-anchor="end" fill="#222" color="#222" font-weight="bold">12000</text><line x1="548.40" y1="596.18" x2="549.60" y2="596.18" stroke="#555" stroke-width="0.65"/><line x1="666.30" y1="596.18" x2="665.10" y2="596.18" stroke="#555" stroke-width="0.65"/><line x1="548.40" y1="572.89" x2="549.60" y2="572.89" stroke="#555" stroke-width="0.65"/><line x1="666.30" y1="572.89" x2="665.10" y2="572.89" stroke="#555" stroke-width="0.65"/><line x1="548.40" y1="555.50" x2="549.60" y2="555.50" stroke="#555" stroke-width="0.65"/><line x1="666.30" y1="555.50" x2="665.10" y2="555.50" stroke="#555" stroke-width="0.65"/><text x="565.50" y="638.48" font-size="6.7" text-anchor="middle" fill="#222" color="#222" font-weight="bold">0.5</text><text x="585.66" y="638.48" font-size="6.7" text-anchor="middle" fill="#222" color="#222" font-weight="bold">1</text><text x="605.82" y="638.48" font-size="6.7" text-anchor="middle" fill="#222" color="#222" font-weight="bold">1.5</text><text x="625.98" y="638.48" font-size="6.7" text-anchor="middle" fill="#222" color="#222" font-weight="bold">2</text><text x="646.14" y="638.48" font-size="6.7" text-anchor="middle" fill="#222" color="#222" font-weight="bold">2.5</text><text x="666.30" y="638.48" font-size="6.7" text-anchor="middle" fill="#222" color="#222" font-weight="bold">3</text><text x="607.35" y="646.78" font-size="7.0" text-anchor="middle" fill="#2a2a2a" color="#2a2a2a" font-weight="bold" class="lb">FEs</text><text x="653.60" y="649.67" font-size="8.0" text-anchor="middle" fill="#444" color="#444" font-weight="normal" style="stroke-width:0.15px">×</text><text x="660.20" y="648.56" font-size="6.5" text-anchor="middle" fill="#222" color="#222" font-weight="bold">10</text><text x="665.20" y="645.32" font-size="4.9" text-anchor="middle" fill="#222" color="#222" font-weight="bold">5</text><text x="523.70" y="581.51" font-size="7.1" text-anchor="middle" fill="#2a2a2a" color="#2a2a2a" font-weight="bold" transform="rotate(-90 523.70 579.10)" class="lb">Best score obtained so far</text><text x="607.35" y="527.71" font-size="6.8" text-anchor="middle" fill="#000" color="#000" font-weight="bold">F28</text><rect x="543.80" y="7.40" width="122.60" height="99.80" fill="none" stroke="#555" stroke-width="0.75"/><rect x="541.00" y="137.70" width="125.40" height="98.90" fill="none" stroke="#555" stroke-width="0.75"/><rect x="545.00" y="268.90" width="121.40" height="99.60" fill="none" stroke="#555" stroke-width="0.75"/><rect x="540.20" y="399.40" width="126.20" height="99.10" fill="none" stroke="#555" stroke-width="0.75"/><rect x="548.40" y="529.40" width="117.90" height="99.60" fill="none" stroke="#555" stroke-width="0.75"/><polyline points="543.80,86.90 549.60,86.90 552.00,88.40 556.70,90.20 562.70,91.20 568.70,92.30 575.90,92.60 579.50,94.40 584.80,98.40 590.20,98.60 592.60,99.80 594.00,101.20 597.30,101.90 601.30,103.20 606.60,103.60 611.90,104.50 617.20,105.20 625.20,105.60 635.90,106.10 646.50,106.50 654.50,106.90 666.40,107.20" fill="none" stroke="#ff0000" stroke-width="1.15" stroke-linejoin="round"/><polyline points="543.90,7.40 544.70,16.90 545.50,25.40 546.40,35.00 547.20,41.20 548.40,52.00 549.60,59.10 552.00,60.90 555.50,62.70 559.10,63.90 561.50,67.50 563.90,69.90 568.70,70.50 572.30,71.10 575.90,74.70 579.50,74.90 584.20,75.90 587.80,77.70 592.60,78.30 597.40,79.50 599.80,80.40 607.00,80.90 611.70,81.90 620.00,82.60 627.90,84.30 635.90,85.30 643.90,85.90 651.80,86.60 659.80,87.00 666.40,87.00" fill="none" stroke="#00ffff" stroke-width="1.15" stroke-linejoin="round" stroke-dasharray="4.1 4.0"/><line x1="610.90" y1="16.40" x2="626.30" y2="16.40" stroke="#ff0000" stroke-width="1.1"/><line x1="611.10" y1="24.40" x2="626.30" y2="24.40" stroke="#00ffff" stroke-width="1.1" stroke-dasharray="4.1 4.0"/><text x="628.40" y="18.74" font-size="6.3" text-anchor="start" fill="#000" color="#000" font-weight="bold" class="lg">DNMRIME</text><text x="628.40" y="26.74" font-size="6.3" text-anchor="start" fill="#000" color="#000" font-weight="bold" class="lg">RIME</text><polyline points="541.00,235.30 550.60,236.00 600.00,236.40 666.40,236.60" fill="none" stroke="#ff0000" stroke-width="1.15" stroke-linejoin="round"/><polyline points="543.70,137.70 543.70,229.70 547.00,231.80 560.00,232.20 666.40,232.80" fill="none" stroke="#00ffff" stroke-width="1.15" stroke-linejoin="round" stroke-dasharray="4.1 4.0"/><line x1="610.90" y1="146.70" x2="626.30" y2="146.70" stroke="#ff0000" stroke-width="1.1"/><line x1="611.10" y1="154.70" x2="626.30" y2="154.70" stroke="#00ffff" stroke-width="1.1" stroke-dasharray="4.1 4.0"/><text x="628.40" y="149.04" font-size="6.3" text-anchor="start" fill="#000" color="#000" font-weight="bold" class="lg">DNMRIME</text><text x="628.40" y="157.04" font-size="6.3" text-anchor="start" fill="#000" color="#000" font-weight="bold" class="lg">RIME</text><polyline points="545.10,352.90 548.40,358.60 551.40,358.00 554.40,359.80 558.00,360.70 564.00,362.20 569.90,363.70 575.90,364.90 580.00,365.60 587.50,366.20 594.80,367.00 600.00,367.30 610.00,367.90 630.00,368.30 666.40,368.50" fill="none" stroke="#ff0000" stroke-width="1.15" stroke-linejoin="round"/><polyline points="545.40,269.20 547.20,345.00 547.80,358.00 552.00,365.10 562.80,366.30 564.00,367.40 600.00,367.70 666.40,367.80" fill="none" stroke="#00ffff" stroke-width="1.15" stroke-linejoin="round"/><line x1="610.90" y1="277.90" x2="626.30" y2="277.90" stroke="#ff0000" stroke-width="1.1"/><line x1="611.10" y1="285.90" x2="626.30" y2="285.90" stroke="#00ffff" stroke-width="1.1"/><text x="628.40" y="280.24" font-size="6.3" text-anchor="start" fill="#000" color="#000" font-weight="bold" class="lg">DNMRIME</text><text x="628.40" y="288.24" font-size="6.3" text-anchor="start" fill="#000" color="#000" font-weight="bold" class="lg">RIME</text><polyline points="540.20,498.50 666.40,498.50" fill="none" stroke="#ff0000" stroke-width="1.15" stroke-linejoin="round"/><polyline points="543.10,399.40 543.10,495.70 545.00,498.40 666.40,498.40" fill="none" stroke="#00ffff" stroke-width="1.15" stroke-linejoin="round" stroke-dasharray="4.1 4.0"/><line x1="610.90" y1="408.40" x2="626.30" y2="408.40" stroke="#ff0000" stroke-width="1.1"/><line x1="611.10" y1="416.40" x2="626.30" y2="416.40" stroke="#00ffff" stroke-width="1.1" stroke-dasharray="4.1 4.0"/><text x="628.40" y="410.74" font-size="6.3" text-anchor="start" fill="#000" color="#000" font-weight="bold" class="lg">DNMRIME</text><text x="628.40" y="418.74" font-size="6.3" text-anchor="start" fill="#000" color="#000" font-weight="bold" class="lg">RIME</text><polyline points="548.40,627.50 553.20,627.60 558.00,628.40 600.00,628.70 666.30,629.00" fill="none" stroke="#ff0000" stroke-width="1.15" stroke-linejoin="round"/><polyline points="551.10,529.40 551.10,624.60 553.50,626.00 666.30,626.40" fill="none" stroke="#00ffff" stroke-width="1.15" stroke-linejoin="round" stroke-dasharray="4.1 4.0"/><line x1="610.90" y1="538.40" x2="626.30" y2="538.40" stroke="#ff0000" stroke-width="1.1"/><line x1="611.10" y1="546.40" x2="626.30" y2="546.40" stroke="#00ffff" stroke-width="1.1" stroke-dasharray="4.1 4.0"/><text x="628.40" y="540.74" font-size="6.3" text-anchor="start" fill="#000" color="#000" font-weight="bold" class="lg">DNMRIME</text><text x="628.40" y="548.74" font-size="6.3" text-anchor="start" fill="#000" color="#000" font-weight="bold" class="lg">RIME</text><rect x="576.4" y="299.5" width="34.20" height="34.70" fill="#fff" stroke="none"/><line x1="576.40" y1="334.20" x2="576.40" y2="332.90" stroke="#555" stroke-width="0.65"/><line x1="576.40" y1="299.50" x2="576.40" y2="300.80" stroke="#555" stroke-width="0.65"/><line x1="593.50" y1="334.20" x2="593.50" y2="332.90" stroke="#555" stroke-width="0.65"/><line x1="593.50" y1="299.50" x2="593.50" y2="300.80" stroke="#555" stroke-width="0.65"/><line x1="610.60" y1="334.20" x2="610.60" y2="332.90" stroke="#555" stroke-width="0.65"/><line x1="610.60" y1="299.50" x2="610.60" y2="300.80" stroke="#555" stroke-width="0.65"/><line x1="579.82" y1="334.20" x2="579.82" y2="333.40" stroke="#555" stroke-width="0.65"/><line x1="579.82" y1="299.50" x2="579.82" y2="300.30" stroke="#555" stroke-width="0.65"/><line x1="583.24" y1="334.20" x2="583.24" y2="333.40" stroke="#555" stroke-width="0.65"/><line x1="583.24" y1="299.50" x2="583.24" y2="300.30" stroke="#555" stroke-width="0.65"/><line x1="586.66" y1="334.20" x2="586.66" y2="333.40" stroke="#555" stroke-width="0.65"/><line x1="586.66" y1="299.50" x2="586.66" y2="300.30" stroke="#555" stroke-width="0.65"/><line x1="590.08" y1="334.20" x2="590.08" y2="333.40" stroke="#555" stroke-width="0.65"/><line x1="590.08" y1="299.50" x2="590.08" y2="300.30" stroke="#555" stroke-width="0.65"/><line x1="596.92" y1="334.20" x2="596.92" y2="333.40" stroke="#555" stroke-width="0.65"/><line x1="596.92" y1="299.50" x2="596.92" y2="300.30" stroke="#555" stroke-width="0.65"/><line x1="600.34" y1="334.20" x2="600.34" y2="333.40" stroke="#555" stroke-width="0.65"/><line x1="600.34" y1="299.50" x2="600.34" y2="300.30" stroke="#555" stroke-width="0.65"/><line x1="603.76" y1="334.20" x2="603.76" y2="333.40" stroke="#555" stroke-width="0.65"/><line x1="603.76" y1="299.50" x2="603.76" y2="300.30" stroke="#555" stroke-width="0.65"/><line x1="607.18" y1="334.20" x2="607.18" y2="333.40" stroke="#555" stroke-width="0.65"/><line x1="607.18" y1="299.50" x2="607.18" y2="300.30" stroke="#555" stroke-width="0.65"/><line x1="576.40" y1="328.77" x2="577.70" y2="328.77" stroke="#555" stroke-width="0.65"/><line x1="610.60" y1="328.77" x2="609.30" y2="328.77" stroke="#555" stroke-width="0.65"/><text x="573.80" y="331.19" font-size="7.1" text-anchor="end" fill="#222" color="#222" font-weight="bold">800</text><line x1="576.40" y1="316.16" x2="577.70" y2="316.16" stroke="#555" stroke-width="0.65"/><line x1="610.60" y1="316.16" x2="609.30" y2="316.16" stroke="#555" stroke-width="0.65"/><text x="573.80" y="318.57" font-size="7.1" text-anchor="end" fill="#222" color="#222" font-weight="bold">810</text><line x1="576.40" y1="303.54" x2="577.70" y2="303.54" stroke="#555" stroke-width="0.65"/><line x1="610.60" y1="303.54" x2="609.30" y2="303.54" stroke="#555" stroke-width="0.65"/><text x="573.80" y="305.95" font-size="7.1" text-anchor="end" fill="#222" color="#222" font-weight="bold">820</text><line x1="576.40" y1="331.30" x2="577.20" y2="331.30" stroke="#555" stroke-width="0.65"/><line x1="610.60" y1="331.30" x2="609.80" y2="331.30" stroke="#555" stroke-width="0.65"/><line x1="576.40" y1="326.25" x2="577.20" y2="326.25" stroke="#555" stroke-width="0.65"/><line x1="610.60" y1="326.25" x2="609.80" y2="326.25" stroke="#555" stroke-width="0.65"/><line x1="576.40" y1="323.73" x2="577.20" y2="323.73" stroke="#555" stroke-width="0.65"/><line x1="610.60" y1="323.73" x2="609.80" y2="323.73" stroke="#555" stroke-width="0.65"/><line x1="576.40" y1="321.20" x2="577.20" y2="321.20" stroke="#555" stroke-width="0.65"/><line x1="610.60" y1="321.20" x2="609.80" y2="321.20" stroke="#555" stroke-width="0.65"/><line x1="576.40" y1="318.68" x2="577.20" y2="318.68" stroke="#555" stroke-width="0.65"/><line x1="610.60" y1="318.68" x2="609.80" y2="318.68" stroke="#555" stroke-width="0.65"/><line x1="576.40" y1="313.63" x2="577.20" y2="313.63" stroke="#555" stroke-width="0.65"/><line x1="610.60" y1="313.63" x2="609.80" y2="313.63" stroke="#555" stroke-width="0.65"/><line x1="576.40" y1="311.11" x2="577.20" y2="311.11" stroke="#555" stroke-width="0.65"/><line x1="610.60" y1="311.11" x2="609.80" y2="311.11" stroke="#555" stroke-width="0.65"/><line x1="576.40" y1="308.59" x2="577.20" y2="308.59" stroke="#555" stroke-width="0.65"/><line x1="610.60" y1="308.59" x2="609.80" y2="308.59" stroke="#555" stroke-width="0.65"/><line x1="576.40" y1="306.06" x2="577.20" y2="306.06" stroke="#555" stroke-width="0.65"/><line x1="610.60" y1="306.06" x2="609.80" y2="306.06" stroke="#555" stroke-width="0.65"/><line x1="576.40" y1="301.01" x2="577.20" y2="301.01" stroke="#555" stroke-width="0.65"/><line x1="610.60" y1="301.01" x2="609.80" y2="301.01" stroke="#555" stroke-width="0.65"/><line x1="576.40" y1="310.50" x2="610.60" y2="310.50" stroke="#00ffff" stroke-width="1.1"/><line x1="576.40" y1="326.30" x2="610.60" y2="326.30" stroke="#ff0000" stroke-width="1.1"/><rect x="576.40" y="299.50" width="34.20" height="34.70" fill="none" stroke="#444" stroke-width="0.7"/><text x="576.40" y="344.01" font-size="6.8" text-anchor="middle" fill="#222" color="#222" font-weight="bold">2.9</text><text x="593.50" y="344.01" font-size="6.8" text-anchor="middle" fill="#222" color="#222" font-weight="bold">2.95</text><text x="610.60" y="344.01" font-size="6.8" text-anchor="middle" fill="#222" color="#222" font-weight="bold">3</text><text x="598.05" y="355.52" font-size="8.0" text-anchor="middle" fill="#444" color="#444" font-weight="normal" style="stroke-width:0.15px">×</text><text x="604.65" y="354.41" font-size="6.5" text-anchor="middle" fill="#222" color="#222" font-weight="bold">10</text><text x="609.65" y="351.17" font-size="4.9" text-anchor="middle" fill="#222" color="#222" font-weight="bold">5</text><line x1="663.60" y1="368.30" x2="616.38" y2="332.96" stroke="#222" stroke-width="0.55"/><polygon points="613.50,330.80 617.34,331.68 615.42,334.24" fill="#111"/><rect x="584.3" y="427.3" width="33.10" height="33.30" fill="#fff" stroke="none"/><line x1="596.09" y1="460.60" x2="596.09" y2="459.30" stroke="#555" stroke-width="0.65"/><line x1="596.09" y1="427.30" x2="596.09" y2="428.60" stroke="#555" stroke-width="0.65"/><line x1="613.56" y1="460.60" x2="613.56" y2="459.30" stroke="#555" stroke-width="0.65"/><line x1="613.56" y1="427.30" x2="613.56" y2="428.60" stroke="#555" stroke-width="0.65"/><line x1="587.36" y1="460.60" x2="587.36" y2="459.80" stroke="#555" stroke-width="0.65"/><line x1="587.36" y1="427.30" x2="587.36" y2="428.10" stroke="#555" stroke-width="0.65"/><line x1="591.72" y1="460.60" x2="591.72" y2="459.80" stroke="#555" stroke-width="0.65"/><line x1="591.72" y1="427.30" x2="591.72" y2="428.10" stroke="#555" stroke-width="0.65"/><line x1="600.46" y1="460.60" x2="600.46" y2="459.80" stroke="#555" stroke-width="0.65"/><line x1="600.46" y1="427.30" x2="600.46" y2="428.10" stroke="#555" stroke-width="0.65"/><line x1="604.82" y1="460.60" x2="604.82" y2="459.80" stroke="#555" stroke-width="0.65"/><line x1="604.82" y1="427.30" x2="604.82" y2="428.10" stroke="#555" stroke-width="0.65"/><line x1="609.19" y1="460.60" x2="609.19" y2="459.80" stroke="#555" stroke-width="0.65"/><line x1="609.19" y1="427.30" x2="609.19" y2="428.10" stroke="#555" stroke-width="0.65"/><line x1="584.30" y1="458.07" x2="585.60" y2="458.07" stroke="#555" stroke-width="0.65"/><line x1="617.40" y1="458.07" x2="616.10" y2="458.07" stroke="#555" stroke-width="0.65"/><text x="581.70" y="460.55" font-size="7.3" text-anchor="end" fill="#222" color="#222" font-weight="bold">2885</text><line x1="584.30" y1="436.99" x2="585.60" y2="436.99" stroke="#555" stroke-width="0.65"/><line x1="617.40" y1="436.99" x2="616.10" y2="436.99" stroke="#555" stroke-width="0.65"/><text x="581.70" y="439.48" font-size="7.3" text-anchor="end" fill="#222" color="#222" font-weight="bold">2890</text><line x1="584.30" y1="453.86" x2="585.10" y2="453.86" stroke="#555" stroke-width="0.65"/><line x1="617.40" y1="453.86" x2="616.60" y2="453.86" stroke="#555" stroke-width="0.65"/><line x1="584.30" y1="449.64" x2="585.10" y2="449.64" stroke="#555" stroke-width="0.65"/><line x1="617.40" y1="449.64" x2="616.60" y2="449.64" stroke="#555" stroke-width="0.65"/><line x1="584.30" y1="445.43" x2="585.10" y2="445.43" stroke="#555" stroke-width="0.65"/><line x1="617.40" y1="445.43" x2="616.60" y2="445.43" stroke="#555" stroke-width="0.65"/><line x1="584.30" y1="441.21" x2="585.10" y2="441.21" stroke="#555" stroke-width="0.65"/><line x1="617.40" y1="441.21" x2="616.60" y2="441.21" stroke="#555" stroke-width="0.65"/><line x1="584.30" y1="432.78" x2="585.10" y2="432.78" stroke="#555" stroke-width="0.65"/><line x1="617.40" y1="432.78" x2="616.60" y2="432.78" stroke="#555" stroke-width="0.65"/><line x1="584.30" y1="428.56" x2="585.10" y2="428.56" stroke="#555" stroke-width="0.65"/><line x1="617.40" y1="428.56" x2="616.60" y2="428.56" stroke="#555" stroke-width="0.65"/><line x1="584.30" y1="455.90" x2="614.20" y2="455.90" stroke="#ff0000" stroke-width="1.1"/><line x1="584.90" y1="431.80" x2="614.50" y2="431.80" stroke="#00ffff" stroke-width="1.1" stroke-dasharray="4.1 4.0"/><rect x="584.30" y="427.30" width="33.10" height="33.30" fill="none" stroke="#444" stroke-width="0.7"/><text x="596.09" y="469.71" font-size="6.8" text-anchor="middle" fill="#222" color="#222" font-weight="bold">2.98</text><text x="613.56" y="469.71" font-size="6.8" text-anchor="middle" fill="#222" color="#222" font-weight="bold">3</text><text x="604.15" y="480.92" font-size="8.0" text-anchor="middle" fill="#444" color="#444" font-weight="normal" style="stroke-width:0.15px">×</text><text x="610.75" y="479.81" font-size="6.5" text-anchor="middle" fill="#222" color="#222" font-weight="bold">10</text><text x="615.75" y="476.57" font-size="4.9" text-anchor="middle" fill="#222" color="#222" font-weight="bold">5</text><line x1="664.40" y1="500.00" x2="623.28" y2="463.01" stroke="#222" stroke-width="0.55"/><polygon points="620.60,460.60 624.35,461.82 622.21,464.20" fill="#111"/></svg></body></html>
